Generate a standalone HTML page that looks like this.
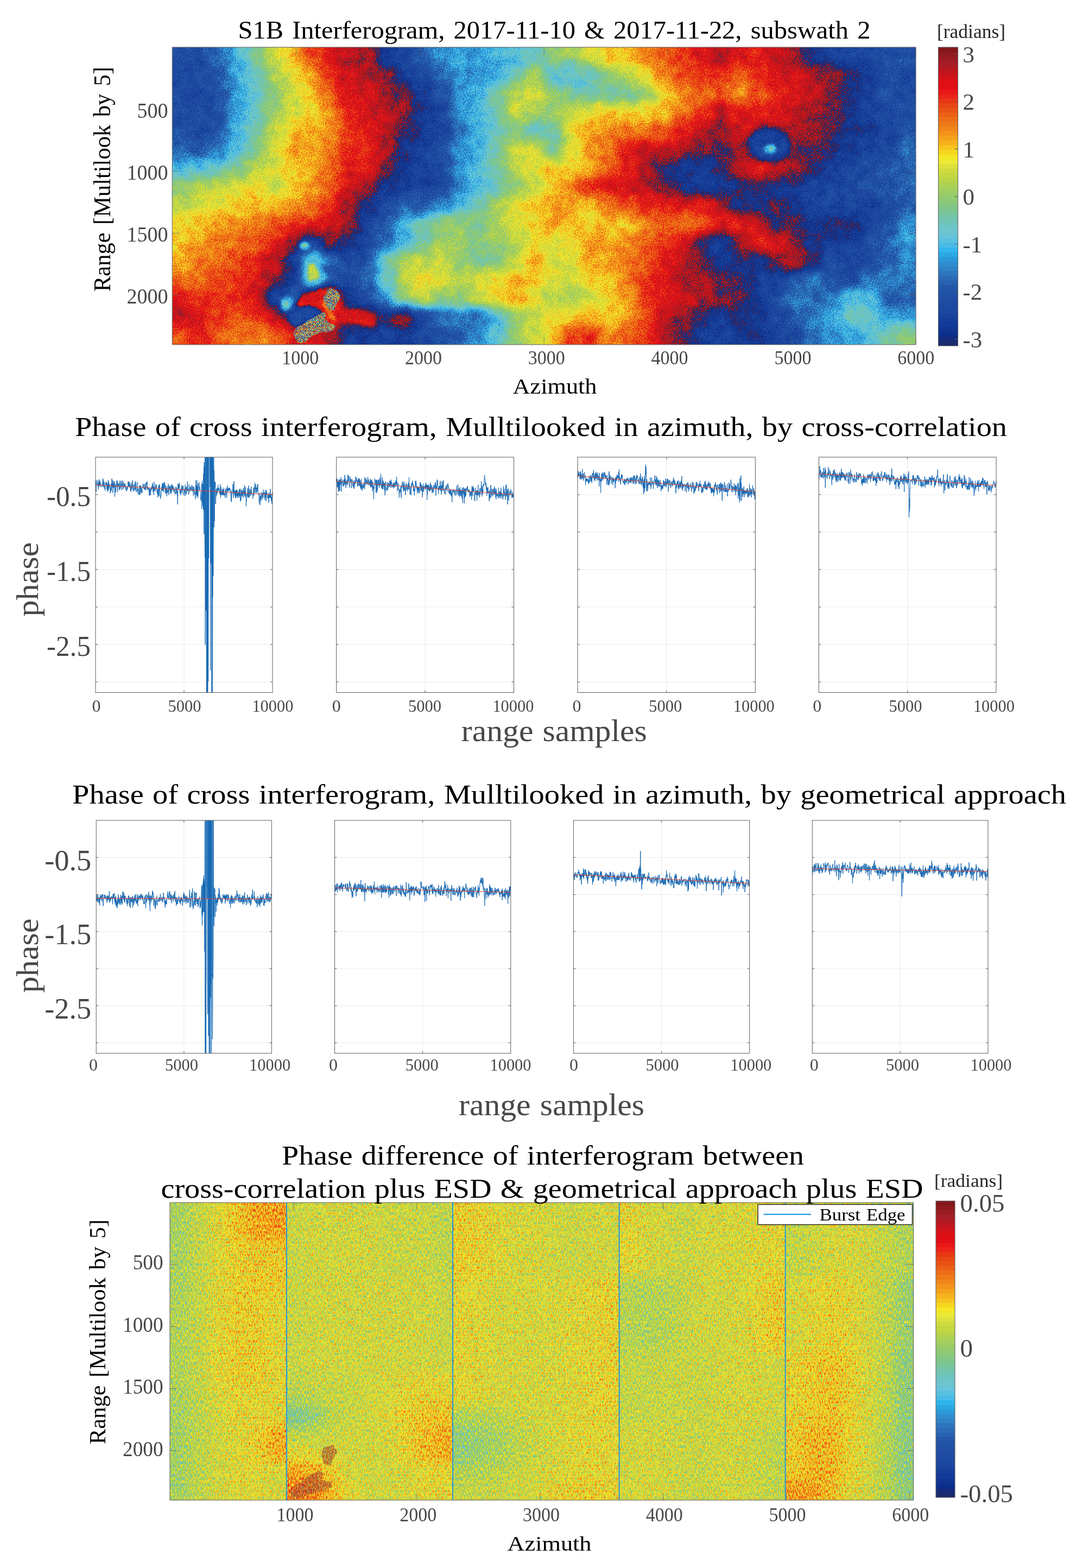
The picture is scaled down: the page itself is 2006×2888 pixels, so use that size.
<!DOCTYPE html>
<html lang="en"><head><meta charset="utf-8"><title>S1B Interferogram</title>
<style>html,body{margin:0;padding:0;background:#fff}svg{display:block}text{font-family:"Liberation Serif",serif}</style></head><body>
<svg width="2006" height="2888" viewBox="0 0 2006 2888">
<rect width="2006" height="2888" fill="#fff"/>
<defs>
<filter id="bA" x="-80" y="-80" width="1529.7" height="707.8" filterUnits="userSpaceOnUse" color-interpolation-filters="sRGB"><feGaussianBlur stdDeviation="10"/></filter>
<filter id="bB" x="-80" y="-80" width="1529.7" height="707.8" filterUnits="userSpaceOnUse" color-interpolation-filters="sRGB"><feGaussianBlur stdDeviation="2.5"/></filter>
<filter id="bC" x="-80" y="-80" width="1529.7" height="707.8" filterUnits="userSpaceOnUse" color-interpolation-filters="sRGB"><feGaussianBlur stdDeviation="6"/></filter>
<filter id="f1" x="0" y="0" width="1369.7" height="547.8" filterUnits="userSpaceOnUse" color-interpolation-filters="sRGB">
<feTurbulence type="fractalNoise" baseFrequency="0.45" numOctaves="2" seed="3" result="n"/>
<feColorMatrix in="n" type="matrix" values="0.09 0 0 0 0  0.09 0 0 0 0  0.09 0 0 0 0  0 0 0 0 1" result="n2"/>
<feComposite in="SourceGraphic" in2="n2" operator="arithmetic" k1="0" k2="1" k3="1" k4="-0.045" result="s0"/>
<feTurbulence type="fractalNoise" baseFrequency="0.05" numOctaves="3" seed="21" result="m"/>
<feColorMatrix in="m" type="matrix" values="0.045 0 0 0 0  0.045 0 0 0 0  0.045 0 0 0 0  0 0 0 0 1" result="m2"/>
<feComposite in="s0" in2="m2" operator="arithmetic" k1="0" k2="1" k3="1" k4="-0.0225" result="s"/>
<feComponentTransfer in="s">
<feFuncR type="discrete" tableValues="0.102 0.084 0.051 0.061 0.071 0.083 0.096 0.109 0.116 0.122 0.129 0.133 0.137 0.152 0.169 0.18 0.19 0.183 0.172 0.171 0.192 0.282 0.348 0.404 0.426 0.43 0.438 0.45 0.471 0.5 0.531 0.564 0.601 0.641 0.682 0.725 0.767 0.809 0.868 0.933 0.956 0.962 0.964 0.963 0.959 0.951 0.944 0.938 0.931 0.922 0.913 0.911 0.911 0.921 0.91 0.885 0.873 0.832 0.768 0.708 0.651 0.605 0.56 0.513 0.102 0.084 0.051 0.061 0.071 0.083 0.096 0.109 0.116 0.122 0.129 0.133 0.137 0.152 0.169 0.18 0.19 0.183 0.172 0.171 0.192 0.282 0.348 0.404 0.426 0.43 0.438 0.45 0.471 0.5 0.531 0.564 0.601 0.641 0.682 0.725 0.767 0.809 0.868 0.933 0.956 0.962 0.964 0.963 0.959 0.951 0.944 0.938 0.931 0.922 0.913 0.911 0.911 0.921 0.91 0.885 0.873 0.832 0.768 0.708 0.651 0.605 0.56 0.513 0.102 0.084 0.051 0.061 0.071 0.083 0.096 0.109 0.116 0.122 0.129 0.133 0.137 0.152 0.169 0.18 0.19 0.183 0.172 0.171 0.192 0.282 0.348 0.404 0.426 0.43 0.438 0.45 0.471 0.5 0.531 0.564 0.601 0.641 0.682 0.725 0.767 0.809 0.868 0.933 0.956 0.962 0.964 0.963 0.959 0.951 0.944 0.938 0.931 0.922 0.913 0.911 0.911 0.921 0.91 0.885 0.873 0.832 0.768 0.708 0.651 0.605 0.56 0.513"/>
<feFuncG type="discrete" tableValues="0.165 0.166 0.185 0.206 0.227 0.244 0.261 0.278 0.288 0.298 0.309 0.327 0.346 0.382 0.42 0.462 0.504 0.551 0.599 0.657 0.711 0.734 0.753 0.77 0.774 0.77 0.769 0.769 0.772 0.778 0.785 0.792 0.802 0.813 0.823 0.831 0.843 0.86 0.886 0.913 0.9 0.841 0.764 0.697 0.636 0.58 0.526 0.48 0.432 0.378 0.325 0.273 0.218 0.141 0.09 0.059 0.062 0.07 0.083 0.1 0.113 0.111 0.103 0.089 0.165 0.166 0.185 0.206 0.227 0.244 0.261 0.278 0.288 0.298 0.309 0.327 0.346 0.382 0.42 0.462 0.504 0.551 0.599 0.657 0.711 0.734 0.753 0.77 0.774 0.77 0.769 0.769 0.772 0.778 0.785 0.792 0.802 0.813 0.823 0.831 0.843 0.86 0.886 0.913 0.9 0.841 0.764 0.697 0.636 0.58 0.526 0.48 0.432 0.378 0.325 0.273 0.218 0.141 0.09 0.059 0.062 0.07 0.083 0.1 0.113 0.111 0.103 0.089 0.165 0.166 0.185 0.206 0.227 0.244 0.261 0.278 0.288 0.298 0.309 0.327 0.346 0.382 0.42 0.462 0.504 0.551 0.599 0.657 0.711 0.734 0.753 0.77 0.774 0.77 0.769 0.769 0.772 0.778 0.785 0.792 0.802 0.813 0.823 0.831 0.843 0.86 0.886 0.913 0.9 0.841 0.764 0.697 0.636 0.58 0.526 0.48 0.432 0.378 0.325 0.273 0.218 0.141 0.09 0.059 0.062 0.07 0.083 0.1 0.113 0.111 0.103 0.089"/>
<feFuncB type="discrete" tableValues="0.43 0.49 0.55 0.573 0.596 0.605 0.614 0.623 0.628 0.634 0.639 0.65 0.661 0.687 0.716 0.745 0.774 0.812 0.852 0.893 0.921 0.901 0.878 0.855 0.817 0.771 0.72 0.666 0.609 0.549 0.496 0.448 0.406 0.372 0.33 0.28 0.249 0.245 0.24 0.21 0.15 0.122 0.122 0.113 0.105 0.103 0.101 0.097 0.093 0.085 0.078 0.078 0.081 0.102 0.099 0.083 0.088 0.099 0.114 0.131 0.144 0.137 0.125 0.107 0.43 0.49 0.55 0.573 0.596 0.605 0.614 0.623 0.628 0.634 0.639 0.65 0.661 0.687 0.716 0.745 0.774 0.812 0.852 0.893 0.921 0.901 0.878 0.855 0.817 0.771 0.72 0.666 0.609 0.549 0.496 0.448 0.406 0.372 0.33 0.28 0.249 0.245 0.24 0.21 0.15 0.122 0.122 0.113 0.105 0.103 0.101 0.097 0.093 0.085 0.078 0.078 0.081 0.102 0.099 0.083 0.088 0.099 0.114 0.131 0.144 0.137 0.125 0.107 0.43 0.49 0.55 0.573 0.596 0.605 0.614 0.623 0.628 0.634 0.639 0.65 0.661 0.687 0.716 0.745 0.774 0.812 0.852 0.893 0.921 0.901 0.878 0.855 0.817 0.771 0.72 0.666 0.609 0.549 0.496 0.448 0.406 0.372 0.33 0.28 0.249 0.245 0.24 0.21 0.15 0.122 0.122 0.113 0.105 0.103 0.101 0.097 0.093 0.085 0.078 0.078 0.081 0.102 0.099 0.083 0.088 0.099 0.114 0.131 0.144 0.137 0.125 0.107"/>
</feComponentTransfer>
</filter>
<filter id="fL" x="0" y="0" width="1369.7" height="547.8" filterUnits="userSpaceOnUse" color-interpolation-filters="sRGB">
<feTurbulence type="fractalNoise" baseFrequency="1.3" numOctaves="1" seed="11" result="n"/>
<feColorMatrix in="n" type="matrix" values="1.4 0 0 0 -0.2  1.4 0 0 0 -0.2  1.4 0 0 0 -0.2  0 0 0 0 1" result="n2"/>
<feComponentTransfer in="n2" result="cm">
<feFuncR type="discrete" tableValues="0.102 0.084 0.051 0.061 0.071 0.083 0.096 0.109 0.116 0.122 0.129 0.133 0.137 0.152 0.169 0.18 0.19 0.183 0.172 0.171 0.192 0.282 0.348 0.404 0.426 0.43 0.438 0.45 0.471 0.5 0.531 0.564 0.601 0.641 0.682 0.725 0.767 0.809 0.868 0.933 0.956 0.962 0.964 0.963 0.959 0.951 0.944 0.938 0.931 0.922 0.913 0.911 0.911 0.921 0.91 0.885 0.873 0.832 0.768 0.708 0.651 0.605 0.56 0.513 0.102 0.084 0.051 0.061 0.071 0.083 0.096 0.109 0.116 0.122 0.129 0.133 0.137 0.152 0.169 0.18 0.19 0.183 0.172 0.171 0.192 0.282 0.348 0.404 0.426 0.43 0.438 0.45 0.471 0.5 0.531 0.564 0.601 0.641 0.682 0.725 0.767 0.809 0.868 0.933 0.956 0.962 0.964 0.963 0.959 0.951 0.944 0.938 0.931 0.922 0.913 0.911 0.911 0.921 0.91 0.885 0.873 0.832 0.768 0.708 0.651 0.605 0.56 0.513 0.102 0.084 0.051 0.061 0.071 0.083 0.096 0.109 0.116 0.122 0.129 0.133 0.137 0.152 0.169 0.18 0.19 0.183 0.172 0.171 0.192 0.282 0.348 0.404 0.426 0.43 0.438 0.45 0.471 0.5 0.531 0.564 0.601 0.641 0.682 0.725 0.767 0.809 0.868 0.933 0.956 0.962 0.964 0.963 0.959 0.951 0.944 0.938 0.931 0.922 0.913 0.911 0.911 0.921 0.91 0.885 0.873 0.832 0.768 0.708 0.651 0.605 0.56 0.513"/>
<feFuncG type="discrete" tableValues="0.165 0.166 0.185 0.206 0.227 0.244 0.261 0.278 0.288 0.298 0.309 0.327 0.346 0.382 0.42 0.462 0.504 0.551 0.599 0.657 0.711 0.734 0.753 0.77 0.774 0.77 0.769 0.769 0.772 0.778 0.785 0.792 0.802 0.813 0.823 0.831 0.843 0.86 0.886 0.913 0.9 0.841 0.764 0.697 0.636 0.58 0.526 0.48 0.432 0.378 0.325 0.273 0.218 0.141 0.09 0.059 0.062 0.07 0.083 0.1 0.113 0.111 0.103 0.089 0.165 0.166 0.185 0.206 0.227 0.244 0.261 0.278 0.288 0.298 0.309 0.327 0.346 0.382 0.42 0.462 0.504 0.551 0.599 0.657 0.711 0.734 0.753 0.77 0.774 0.77 0.769 0.769 0.772 0.778 0.785 0.792 0.802 0.813 0.823 0.831 0.843 0.86 0.886 0.913 0.9 0.841 0.764 0.697 0.636 0.58 0.526 0.48 0.432 0.378 0.325 0.273 0.218 0.141 0.09 0.059 0.062 0.07 0.083 0.1 0.113 0.111 0.103 0.089 0.165 0.166 0.185 0.206 0.227 0.244 0.261 0.278 0.288 0.298 0.309 0.327 0.346 0.382 0.42 0.462 0.504 0.551 0.599 0.657 0.711 0.734 0.753 0.77 0.774 0.77 0.769 0.769 0.772 0.778 0.785 0.792 0.802 0.813 0.823 0.831 0.843 0.86 0.886 0.913 0.9 0.841 0.764 0.697 0.636 0.58 0.526 0.48 0.432 0.378 0.325 0.273 0.218 0.141 0.09 0.059 0.062 0.07 0.083 0.1 0.113 0.111 0.103 0.089"/>
<feFuncB type="discrete" tableValues="0.43 0.49 0.55 0.573 0.596 0.605 0.614 0.623 0.628 0.634 0.639 0.65 0.661 0.687 0.716 0.745 0.774 0.812 0.852 0.893 0.921 0.901 0.878 0.855 0.817 0.771 0.72 0.666 0.609 0.549 0.496 0.448 0.406 0.372 0.33 0.28 0.249 0.245 0.24 0.21 0.15 0.122 0.122 0.113 0.105 0.103 0.101 0.097 0.093 0.085 0.078 0.078 0.081 0.102 0.099 0.083 0.088 0.099 0.114 0.131 0.144 0.137 0.125 0.107 0.43 0.49 0.55 0.573 0.596 0.605 0.614 0.623 0.628 0.634 0.639 0.65 0.661 0.687 0.716 0.745 0.774 0.812 0.852 0.893 0.921 0.901 0.878 0.855 0.817 0.771 0.72 0.666 0.609 0.549 0.496 0.448 0.406 0.372 0.33 0.28 0.249 0.245 0.24 0.21 0.15 0.122 0.122 0.113 0.105 0.103 0.101 0.097 0.093 0.085 0.078 0.078 0.081 0.102 0.099 0.083 0.088 0.099 0.114 0.131 0.144 0.137 0.125 0.107 0.43 0.49 0.55 0.573 0.596 0.605 0.614 0.623 0.628 0.634 0.639 0.65 0.661 0.687 0.716 0.745 0.774 0.812 0.852 0.893 0.921 0.901 0.878 0.855 0.817 0.771 0.72 0.666 0.609 0.549 0.496 0.448 0.406 0.372 0.33 0.28 0.249 0.245 0.24 0.21 0.15 0.122 0.122 0.113 0.105 0.103 0.101 0.097 0.093 0.085 0.078 0.078 0.081 0.102 0.099 0.083 0.088 0.099 0.114 0.131 0.144 0.137 0.125 0.107"/>
</feComponentTransfer>
<feComposite in="cm" in2="SourceGraphic" operator="in"/>
</filter>
<filter id="f4" x="0" y="0" width="1369.5" height="548.0" filterUnits="userSpaceOnUse" color-interpolation-filters="sRGB">
<feGaussianBlur in="SourceGraphic" stdDeviation="10" result="b"/>
<feTurbulence type="fractalNoise" baseFrequency="0.5 0.17" numOctaves="2" seed="7" result="n"/>
<feColorMatrix in="n" type="matrix" values="0.52 0 0 0 0  0.52 0 0 0 0  0.52 0 0 0 0  0 0 0 0 1" result="n2"/>
<feComposite in="b" in2="n2" operator="arithmetic" k1="0" k2="1" k3="1" k4="-0.26" result="s"/>
<feComponentTransfer in="s">
<feFuncR type="discrete" tableValues="0.102 0.084 0.051 0.061 0.071 0.083 0.096 0.109 0.116 0.122 0.129 0.133 0.137 0.152 0.169 0.18 0.19 0.183 0.172 0.171 0.192 0.282 0.348 0.404 0.426 0.43 0.438 0.45 0.471 0.5 0.531 0.564 0.601 0.641 0.682 0.725 0.767 0.809 0.868 0.933 0.956 0.962 0.964 0.963 0.959 0.951 0.944 0.938 0.931 0.922 0.913 0.911 0.911 0.921 0.91 0.885 0.873 0.832 0.768 0.708 0.651 0.605 0.56 0.513"/>
<feFuncG type="discrete" tableValues="0.165 0.166 0.185 0.206 0.227 0.244 0.261 0.278 0.288 0.298 0.309 0.327 0.346 0.382 0.42 0.462 0.504 0.551 0.599 0.657 0.711 0.734 0.753 0.77 0.774 0.77 0.769 0.769 0.772 0.778 0.785 0.792 0.802 0.813 0.823 0.831 0.843 0.86 0.886 0.913 0.9 0.841 0.764 0.697 0.636 0.58 0.526 0.48 0.432 0.378 0.325 0.273 0.218 0.141 0.09 0.059 0.062 0.07 0.083 0.1 0.113 0.111 0.103 0.089"/>
<feFuncB type="discrete" tableValues="0.43 0.49 0.55 0.573 0.596 0.605 0.614 0.623 0.628 0.634 0.639 0.65 0.661 0.687 0.716 0.745 0.774 0.812 0.852 0.893 0.921 0.901 0.878 0.855 0.817 0.771 0.72 0.666 0.609 0.549 0.496 0.448 0.406 0.372 0.33 0.28 0.249 0.245 0.24 0.21 0.15 0.122 0.122 0.113 0.105 0.103 0.101 0.097 0.093 0.085 0.078 0.078 0.081 0.102 0.099 0.083 0.088 0.099 0.114 0.131 0.144 0.137 0.125 0.107"/>
</feComponentTransfer>
</filter>
<filter id="fL4" x="0" y="0" width="1369.5" height="548.0" filterUnits="userSpaceOnUse" color-interpolation-filters="sRGB">
<feTurbulence type="fractalNoise" baseFrequency="0.9 0.5" numOctaves="1" seed="5" result="n"/>
<feColorMatrix in="n" type="matrix" values="2.8 0 0 0 -0.55  2.8 0 0 0 -0.55  2.8 0 0 0 -0.55  0 0 0 0 1" result="n2"/>
<feComponentTransfer in="n2" result="cm">
<feFuncR type="discrete" tableValues="0.102 0.084 0.051 0.061 0.071 0.083 0.096 0.109 0.116 0.122 0.129 0.133 0.137 0.152 0.169 0.18 0.19 0.183 0.172 0.171 0.192 0.282 0.348 0.404 0.426 0.43 0.438 0.45 0.471 0.5 0.531 0.564 0.601 0.641 0.682 0.725 0.767 0.809 0.868 0.933 0.956 0.962 0.964 0.963 0.959 0.951 0.944 0.938 0.931 0.922 0.913 0.911 0.911 0.921 0.91 0.885 0.873 0.832 0.768 0.708 0.651 0.605 0.56 0.513"/>
<feFuncG type="discrete" tableValues="0.165 0.166 0.185 0.206 0.227 0.244 0.261 0.278 0.288 0.298 0.309 0.327 0.346 0.382 0.42 0.462 0.504 0.551 0.599 0.657 0.711 0.734 0.753 0.77 0.774 0.77 0.769 0.769 0.772 0.778 0.785 0.792 0.802 0.813 0.823 0.831 0.843 0.86 0.886 0.913 0.9 0.841 0.764 0.697 0.636 0.58 0.526 0.48 0.432 0.378 0.325 0.273 0.218 0.141 0.09 0.059 0.062 0.07 0.083 0.1 0.113 0.111 0.103 0.089"/>
<feFuncB type="discrete" tableValues="0.43 0.49 0.55 0.573 0.596 0.605 0.614 0.623 0.628 0.634 0.639 0.65 0.661 0.687 0.716 0.745 0.774 0.812 0.852 0.893 0.921 0.901 0.878 0.855 0.817 0.771 0.72 0.666 0.609 0.549 0.496 0.448 0.406 0.372 0.33 0.28 0.249 0.245 0.24 0.21 0.15 0.122 0.122 0.113 0.105 0.103 0.101 0.097 0.093 0.085 0.078 0.078 0.081 0.102 0.099 0.083 0.088 0.099 0.114 0.131 0.144 0.137 0.125 0.107"/>
</feComponentTransfer>
<feComposite in="cm" in2="SourceGraphic" operator="in"/>
</filter>
<clipPath id="c1"><rect x="0" y="0" width="1369.7" height="547.8"/></clipPath>
<clipPath id="c4"><rect x="0" y="0" width="1369.5" height="548.0"/></clipPath>
</defs>
<g transform="translate(317.3,87.0)"><g clip-path="url(#c1)"><g filter="url(#f1)">
<g filter="url(#bA)">
<rect x="-68.5" y="-68.5" width="137.6" height="34.8" fill="rgb(13,13,13)"/>
<rect x="68.5" y="-68.5" width="34.8" height="34.8" fill="rgb(18,18,18)"/>
<rect x="102.7" y="-68.5" width="34.8" height="34.8" fill="rgb(29,29,29)"/>
<rect x="137.0" y="-68.5" width="34.8" height="34.8" fill="rgb(38,38,38)"/>
<rect x="171.2" y="-68.5" width="34.8" height="34.8" fill="rgb(49,49,49)"/>
<rect x="205.5" y="-68.5" width="34.8" height="34.8" fill="rgb(57,57,57)"/>
<rect x="239.7" y="-68.5" width="34.8" height="34.8" fill="rgb(68,68,68)"/>
<rect x="273.9" y="-68.5" width="34.8" height="34.8" fill="rgb(75,75,75)"/>
<rect x="308.2" y="-68.5" width="34.8" height="34.8" fill="rgb(79,79,79)"/>
<rect x="342.4" y="-68.5" width="34.8" height="34.8" fill="rgb(80,80,80)"/>
<rect x="376.7" y="-68.5" width="34.8" height="34.8" fill="rgb(91,91,91)"/>
<rect x="410.9" y="-68.5" width="34.8" height="34.8" fill="rgb(95,95,95)"/>
<rect x="445.2" y="-68.5" width="34.8" height="34.8" fill="rgb(102,102,102)"/>
<rect x="479.4" y="-68.5" width="34.8" height="34.8" fill="rgb(109,109,109)"/>
<rect x="513.6" y="-68.5" width="34.8" height="34.8" fill="rgb(111,111,111)"/>
<rect x="547.9" y="-68.5" width="34.8" height="34.8" fill="rgb(110,110,110)"/>
<rect x="582.1" y="-68.5" width="34.8" height="34.8" fill="rgb(113,113,113)"/>
<rect x="616.4" y="-68.5" width="34.8" height="34.8" fill="rgb(115,115,115)"/>
<rect x="650.6" y="-68.5" width="34.8" height="34.8" fill="rgb(118,118,118)"/>
<rect x="684.9" y="-68.5" width="69.1" height="34.8" fill="rgb(128,128,128)"/>
<rect x="753.3" y="-68.5" width="34.8" height="34.8" fill="rgb(136,136,136)"/>
<rect x="787.6" y="-68.5" width="34.8" height="34.8" fill="rgb(141,141,141)"/>
<rect x="821.8" y="-68.5" width="34.8" height="34.8" fill="rgb(142,142,142)"/>
<rect x="856.1" y="-68.5" width="34.8" height="34.8" fill="rgb(148,148,148)"/>
<rect x="890.3" y="-68.5" width="34.8" height="34.8" fill="rgb(152,152,152)"/>
<rect x="924.5" y="-68.5" width="34.8" height="34.8" fill="rgb(155,155,155)"/>
<rect x="958.8" y="-68.5" width="34.8" height="34.8" fill="rgb(160,160,160)"/>
<rect x="993.0" y="-68.5" width="34.8" height="34.8" fill="rgb(165,165,165)"/>
<rect x="1027.3" y="-68.5" width="34.8" height="34.8" fill="rgb(160,160,160)"/>
<rect x="1061.5" y="-68.5" width="34.8" height="34.8" fill="rgb(159,159,159)"/>
<rect x="1095.8" y="-68.5" width="34.8" height="34.8" fill="rgb(163,163,163)"/>
<rect x="1130.0" y="-68.5" width="34.8" height="34.8" fill="rgb(167,167,167)"/>
<rect x="1164.2" y="-68.5" width="34.8" height="34.8" fill="rgb(175,175,175)"/>
<rect x="1198.5" y="-68.5" width="34.8" height="34.8" fill="rgb(179,179,179)"/>
<rect x="1232.7" y="-68.5" width="34.8" height="34.8" fill="rgb(180,180,180)"/>
<rect x="1267.0" y="-68.5" width="34.8" height="34.8" fill="rgb(181,181,181)"/>
<rect x="1301.2" y="-68.5" width="137.6" height="34.8" fill="rgb(183,183,183)"/>
<rect x="-68.5" y="-34.2" width="137.6" height="34.8" fill="rgb(13,13,13)"/>
<rect x="68.5" y="-34.2" width="34.8" height="34.8" fill="rgb(18,18,18)"/>
<rect x="102.7" y="-34.2" width="34.8" height="34.8" fill="rgb(29,29,29)"/>
<rect x="137.0" y="-34.2" width="34.8" height="34.8" fill="rgb(38,38,38)"/>
<rect x="171.2" y="-34.2" width="34.8" height="34.8" fill="rgb(49,49,49)"/>
<rect x="205.5" y="-34.2" width="34.8" height="34.8" fill="rgb(57,57,57)"/>
<rect x="239.7" y="-34.2" width="34.8" height="34.8" fill="rgb(68,68,68)"/>
<rect x="273.9" y="-34.2" width="34.8" height="34.8" fill="rgb(75,75,75)"/>
<rect x="308.2" y="-34.2" width="34.8" height="34.8" fill="rgb(79,79,79)"/>
<rect x="342.4" y="-34.2" width="34.8" height="34.8" fill="rgb(80,80,80)"/>
<rect x="376.7" y="-34.2" width="34.8" height="34.8" fill="rgb(91,91,91)"/>
<rect x="410.9" y="-34.2" width="34.8" height="34.8" fill="rgb(95,95,95)"/>
<rect x="445.2" y="-34.2" width="34.8" height="34.8" fill="rgb(102,102,102)"/>
<rect x="479.4" y="-34.2" width="34.8" height="34.8" fill="rgb(109,109,109)"/>
<rect x="513.6" y="-34.2" width="34.8" height="34.8" fill="rgb(111,111,111)"/>
<rect x="547.9" y="-34.2" width="34.8" height="34.8" fill="rgb(110,110,110)"/>
<rect x="582.1" y="-34.2" width="34.8" height="34.8" fill="rgb(113,113,113)"/>
<rect x="616.4" y="-34.2" width="34.8" height="34.8" fill="rgb(115,115,115)"/>
<rect x="650.6" y="-34.2" width="34.8" height="34.8" fill="rgb(118,118,118)"/>
<rect x="684.9" y="-34.2" width="69.1" height="34.8" fill="rgb(128,128,128)"/>
<rect x="753.3" y="-34.2" width="34.8" height="34.8" fill="rgb(136,136,136)"/>
<rect x="787.6" y="-34.2" width="34.8" height="34.8" fill="rgb(141,141,141)"/>
<rect x="821.8" y="-34.2" width="34.8" height="34.8" fill="rgb(142,142,142)"/>
<rect x="856.1" y="-34.2" width="34.8" height="34.8" fill="rgb(148,148,148)"/>
<rect x="890.3" y="-34.2" width="34.8" height="34.8" fill="rgb(152,152,152)"/>
<rect x="924.5" y="-34.2" width="34.8" height="34.8" fill="rgb(155,155,155)"/>
<rect x="958.8" y="-34.2" width="34.8" height="34.8" fill="rgb(160,160,160)"/>
<rect x="993.0" y="-34.2" width="34.8" height="34.8" fill="rgb(165,165,165)"/>
<rect x="1027.3" y="-34.2" width="34.8" height="34.8" fill="rgb(160,160,160)"/>
<rect x="1061.5" y="-34.2" width="34.8" height="34.8" fill="rgb(159,159,159)"/>
<rect x="1095.8" y="-34.2" width="34.8" height="34.8" fill="rgb(163,163,163)"/>
<rect x="1130.0" y="-34.2" width="34.8" height="34.8" fill="rgb(167,167,167)"/>
<rect x="1164.2" y="-34.2" width="34.8" height="34.8" fill="rgb(175,175,175)"/>
<rect x="1198.5" y="-34.2" width="34.8" height="34.8" fill="rgb(179,179,179)"/>
<rect x="1232.7" y="-34.2" width="34.8" height="34.8" fill="rgb(180,180,180)"/>
<rect x="1267.0" y="-34.2" width="34.8" height="34.8" fill="rgb(181,181,181)"/>
<rect x="1301.2" y="-34.2" width="137.6" height="34.8" fill="rgb(183,183,183)"/>
<rect x="-68.5" y="0.0" width="137.6" height="34.8" fill="rgb(13,13,13)"/>
<rect x="68.5" y="0.0" width="34.8" height="34.8" fill="rgb(18,18,18)"/>
<rect x="102.7" y="0.0" width="34.8" height="34.8" fill="rgb(29,29,29)"/>
<rect x="137.0" y="0.0" width="34.8" height="34.8" fill="rgb(38,38,38)"/>
<rect x="171.2" y="0.0" width="34.8" height="34.8" fill="rgb(49,49,49)"/>
<rect x="205.5" y="0.0" width="34.8" height="34.8" fill="rgb(57,57,57)"/>
<rect x="239.7" y="0.0" width="34.8" height="34.8" fill="rgb(68,68,68)"/>
<rect x="273.9" y="0.0" width="34.8" height="34.8" fill="rgb(75,75,75)"/>
<rect x="308.2" y="0.0" width="34.8" height="34.8" fill="rgb(79,79,79)"/>
<rect x="342.4" y="0.0" width="34.8" height="34.8" fill="rgb(80,80,80)"/>
<rect x="376.7" y="0.0" width="34.8" height="34.8" fill="rgb(91,91,91)"/>
<rect x="410.9" y="0.0" width="34.8" height="34.8" fill="rgb(95,95,95)"/>
<rect x="445.2" y="0.0" width="34.8" height="34.8" fill="rgb(102,102,102)"/>
<rect x="479.4" y="0.0" width="34.8" height="34.8" fill="rgb(109,109,109)"/>
<rect x="513.6" y="0.0" width="34.8" height="34.8" fill="rgb(111,111,111)"/>
<rect x="547.9" y="0.0" width="34.8" height="34.8" fill="rgb(110,110,110)"/>
<rect x="582.1" y="0.0" width="34.8" height="34.8" fill="rgb(113,113,113)"/>
<rect x="616.4" y="0.0" width="34.8" height="34.8" fill="rgb(115,115,115)"/>
<rect x="650.6" y="0.0" width="34.8" height="34.8" fill="rgb(118,118,118)"/>
<rect x="684.9" y="0.0" width="69.1" height="34.8" fill="rgb(128,128,128)"/>
<rect x="753.3" y="0.0" width="34.8" height="34.8" fill="rgb(136,136,136)"/>
<rect x="787.6" y="0.0" width="34.8" height="34.8" fill="rgb(141,141,141)"/>
<rect x="821.8" y="0.0" width="34.8" height="34.8" fill="rgb(142,142,142)"/>
<rect x="856.1" y="0.0" width="34.8" height="34.8" fill="rgb(148,148,148)"/>
<rect x="890.3" y="0.0" width="34.8" height="34.8" fill="rgb(152,152,152)"/>
<rect x="924.5" y="0.0" width="34.8" height="34.8" fill="rgb(155,155,155)"/>
<rect x="958.8" y="0.0" width="34.8" height="34.8" fill="rgb(160,160,160)"/>
<rect x="993.0" y="0.0" width="34.8" height="34.8" fill="rgb(165,165,165)"/>
<rect x="1027.3" y="0.0" width="34.8" height="34.8" fill="rgb(160,160,160)"/>
<rect x="1061.5" y="0.0" width="34.8" height="34.8" fill="rgb(159,159,159)"/>
<rect x="1095.8" y="0.0" width="34.8" height="34.8" fill="rgb(163,163,163)"/>
<rect x="1130.0" y="0.0" width="34.8" height="34.8" fill="rgb(167,167,167)"/>
<rect x="1164.2" y="0.0" width="34.8" height="34.8" fill="rgb(175,175,175)"/>
<rect x="1198.5" y="0.0" width="34.8" height="34.8" fill="rgb(179,179,179)"/>
<rect x="1232.7" y="0.0" width="34.8" height="34.8" fill="rgb(180,180,180)"/>
<rect x="1267.0" y="0.0" width="34.8" height="34.8" fill="rgb(181,181,181)"/>
<rect x="1301.2" y="0.0" width="137.6" height="34.8" fill="rgb(183,183,183)"/>
<rect x="-68.5" y="34.2" width="137.6" height="34.8" fill="rgb(11,11,11)"/>
<rect x="68.5" y="34.2" width="34.8" height="34.8" fill="rgb(15,15,15)"/>
<rect x="102.7" y="34.2" width="34.8" height="34.8" fill="rgb(26,26,26)"/>
<rect x="137.0" y="34.2" width="34.8" height="34.8" fill="rgb(34,34,34)"/>
<rect x="171.2" y="34.2" width="34.8" height="34.8" fill="rgb(45,45,45)"/>
<rect x="205.5" y="34.2" width="34.8" height="34.8" fill="rgb(53,53,53)"/>
<rect x="239.7" y="34.2" width="34.8" height="34.8" fill="rgb(60,60,60)"/>
<rect x="273.9" y="34.2" width="34.8" height="34.8" fill="rgb(71,71,71)"/>
<rect x="308.2" y="34.2" width="34.8" height="34.8" fill="rgb(78,78,78)"/>
<rect x="342.4" y="34.2" width="34.8" height="34.8" fill="rgb(79,79,79)"/>
<rect x="376.7" y="34.2" width="34.8" height="34.8" fill="rgb(83,83,83)"/>
<rect x="410.9" y="34.2" width="34.8" height="34.8" fill="rgb(92,92,92)"/>
<rect x="445.2" y="34.2" width="34.8" height="34.8" fill="rgb(96,96,96)"/>
<rect x="479.4" y="34.2" width="34.8" height="34.8" fill="rgb(103,103,103)"/>
<rect x="513.6" y="34.2" width="34.8" height="34.8" fill="rgb(110,110,110)"/>
<rect x="547.9" y="34.2" width="34.8" height="34.8" fill="rgb(109,109,109)"/>
<rect x="582.1" y="34.2" width="34.8" height="34.8" fill="rgb(111,111,111)"/>
<rect x="616.4" y="34.2" width="34.8" height="34.8" fill="rgb(121,121,121)"/>
<rect x="650.6" y="34.2" width="34.8" height="34.8" fill="rgb(132,132,132)"/>
<rect x="684.9" y="34.2" width="69.1" height="34.8" fill="rgb(115,115,115)"/>
<rect x="753.3" y="34.2" width="34.8" height="34.8" fill="rgb(119,119,119)"/>
<rect x="787.6" y="34.2" width="34.8" height="34.8" fill="rgb(128,128,128)"/>
<rect x="821.8" y="34.2" width="34.8" height="34.8" fill="rgb(132,132,132)"/>
<rect x="856.1" y="34.2" width="34.8" height="34.8" fill="rgb(138,138,138)"/>
<rect x="890.3" y="34.2" width="34.8" height="34.8" fill="rgb(148,148,148)"/>
<rect x="924.5" y="34.2" width="34.8" height="34.8" fill="rgb(153,153,153)"/>
<rect x="958.8" y="34.2" width="34.8" height="34.8" fill="rgb(155,155,155)"/>
<rect x="993.0" y="34.2" width="34.8" height="34.8" fill="rgb(157,157,157)"/>
<rect x="1027.3" y="34.2" width="34.8" height="34.8" fill="rgb(150,150,150)"/>
<rect x="1061.5" y="34.2" width="34.8" height="34.8" fill="rgb(157,157,157)"/>
<rect x="1095.8" y="34.2" width="34.8" height="34.8" fill="rgb(160,160,160)"/>
<rect x="1130.0" y="34.2" width="34.8" height="34.8" fill="rgb(161,161,161)"/>
<rect x="1164.2" y="34.2" width="34.8" height="34.8" fill="rgb(164,164,164)"/>
<rect x="1198.5" y="34.2" width="34.8" height="34.8" fill="rgb(168,168,168)"/>
<rect x="1232.7" y="34.2" width="34.8" height="34.8" fill="rgb(172,172,172)"/>
<rect x="1267.0" y="34.2" width="34.8" height="34.8" fill="rgb(177,177,177)"/>
<rect x="1301.2" y="34.2" width="34.8" height="34.8" fill="rgb(183,183,183)"/>
<rect x="1335.5" y="34.2" width="103.3" height="34.8" fill="rgb(181,181,181)"/>
<rect x="-68.5" y="68.5" width="137.6" height="34.8" fill="rgb(11,11,11)"/>
<rect x="68.5" y="68.5" width="34.8" height="34.8" fill="rgb(14,14,14)"/>
<rect x="102.7" y="68.5" width="34.8" height="34.8" fill="rgb(25,25,25)"/>
<rect x="137.0" y="68.5" width="34.8" height="34.8" fill="rgb(33,33,33)"/>
<rect x="171.2" y="68.5" width="34.8" height="34.8" fill="rgb(42,42,42)"/>
<rect x="205.5" y="68.5" width="34.8" height="34.8" fill="rgb(49,49,49)"/>
<rect x="239.7" y="68.5" width="34.8" height="34.8" fill="rgb(56,56,56)"/>
<rect x="273.9" y="68.5" width="34.8" height="34.8" fill="rgb(68,68,68)"/>
<rect x="308.2" y="68.5" width="69.1" height="34.8" fill="rgb(76,76,76)"/>
<rect x="376.7" y="68.5" width="34.8" height="34.8" fill="rgb(80,80,80)"/>
<rect x="410.9" y="68.5" width="34.8" height="34.8" fill="rgb(84,84,84)"/>
<rect x="445.2" y="68.5" width="34.8" height="34.8" fill="rgb(92,92,92)"/>
<rect x="479.4" y="68.5" width="34.8" height="34.8" fill="rgb(98,98,98)"/>
<rect x="513.6" y="68.5" width="34.8" height="34.8" fill="rgb(109,109,109)"/>
<rect x="547.9" y="68.5" width="34.8" height="34.8" fill="rgb(114,114,114)"/>
<rect x="582.1" y="68.5" width="34.8" height="34.8" fill="rgb(123,123,123)"/>
<rect x="616.4" y="68.5" width="34.8" height="34.8" fill="rgb(132,132,132)"/>
<rect x="650.6" y="68.5" width="34.8" height="34.8" fill="rgb(136,136,136)"/>
<rect x="684.9" y="68.5" width="34.8" height="34.8" fill="rgb(128,128,128)"/>
<rect x="719.1" y="68.5" width="34.8" height="34.8" fill="rgb(122,122,122)"/>
<rect x="753.3" y="68.5" width="69.1" height="34.8" fill="rgb(121,121,121)"/>
<rect x="821.8" y="68.5" width="34.8" height="34.8" fill="rgb(122,122,122)"/>
<rect x="856.1" y="68.5" width="34.8" height="34.8" fill="rgb(128,128,128)"/>
<rect x="890.3" y="68.5" width="34.8" height="34.8" fill="rgb(140,140,140)"/>
<rect x="924.5" y="68.5" width="34.8" height="34.8" fill="rgb(148,148,148)"/>
<rect x="958.8" y="68.5" width="34.8" height="34.8" fill="rgb(150,150,150)"/>
<rect x="993.0" y="68.5" width="34.8" height="34.8" fill="rgb(152,152,152)"/>
<rect x="1027.3" y="68.5" width="34.8" height="34.8" fill="rgb(145,145,145)"/>
<rect x="1061.5" y="68.5" width="34.8" height="34.8" fill="rgb(153,153,153)"/>
<rect x="1095.8" y="68.5" width="34.8" height="34.8" fill="rgb(157,157,157)"/>
<rect x="1130.0" y="68.5" width="34.8" height="34.8" fill="rgb(160,160,160)"/>
<rect x="1164.2" y="68.5" width="34.8" height="34.8" fill="rgb(163,163,163)"/>
<rect x="1198.5" y="68.5" width="34.8" height="34.8" fill="rgb(167,167,167)"/>
<rect x="1232.7" y="68.5" width="34.8" height="34.8" fill="rgb(173,173,173)"/>
<rect x="1267.0" y="68.5" width="34.8" height="34.8" fill="rgb(179,179,179)"/>
<rect x="1301.2" y="68.5" width="34.8" height="34.8" fill="rgb(184,184,184)"/>
<rect x="1335.5" y="68.5" width="103.3" height="34.8" fill="rgb(181,181,181)"/>
<rect x="-68.5" y="102.7" width="103.3" height="34.8" fill="rgb(13,13,13)"/>
<rect x="34.2" y="102.7" width="34.8" height="34.8" fill="rgb(11,11,11)"/>
<rect x="68.5" y="102.7" width="34.8" height="34.8" fill="rgb(14,14,14)"/>
<rect x="102.7" y="102.7" width="34.8" height="34.8" fill="rgb(26,26,26)"/>
<rect x="137.0" y="102.7" width="34.8" height="34.8" fill="rgb(34,34,34)"/>
<rect x="171.2" y="102.7" width="34.8" height="34.8" fill="rgb(44,44,44)"/>
<rect x="205.5" y="102.7" width="34.8" height="34.8" fill="rgb(51,51,51)"/>
<rect x="239.7" y="102.7" width="34.8" height="34.8" fill="rgb(53,53,53)"/>
<rect x="273.9" y="102.7" width="34.8" height="34.8" fill="rgb(61,61,61)"/>
<rect x="308.2" y="102.7" width="34.8" height="34.8" fill="rgb(72,72,72)"/>
<rect x="342.4" y="102.7" width="34.8" height="34.8" fill="rgb(75,75,75)"/>
<rect x="376.7" y="102.7" width="34.8" height="34.8" fill="rgb(79,79,79)"/>
<rect x="410.9" y="102.7" width="34.8" height="34.8" fill="rgb(82,82,82)"/>
<rect x="445.2" y="102.7" width="34.8" height="34.8" fill="rgb(90,90,90)"/>
<rect x="479.4" y="102.7" width="34.8" height="34.8" fill="rgb(95,95,95)"/>
<rect x="513.6" y="102.7" width="34.8" height="34.8" fill="rgb(109,109,109)"/>
<rect x="547.9" y="102.7" width="34.8" height="34.8" fill="rgb(113,113,113)"/>
<rect x="582.1" y="102.7" width="34.8" height="34.8" fill="rgb(122,122,122)"/>
<rect x="616.4" y="102.7" width="34.8" height="34.8" fill="rgb(134,134,134)"/>
<rect x="650.6" y="102.7" width="34.8" height="34.8" fill="rgb(130,130,130)"/>
<rect x="684.9" y="102.7" width="34.8" height="34.8" fill="rgb(128,128,128)"/>
<rect x="719.1" y="102.7" width="34.8" height="34.8" fill="rgb(134,134,134)"/>
<rect x="753.3" y="102.7" width="34.8" height="34.8" fill="rgb(138,138,138)"/>
<rect x="787.6" y="102.7" width="34.8" height="34.8" fill="rgb(141,141,141)"/>
<rect x="821.8" y="102.7" width="69.1" height="34.8" fill="rgb(140,140,140)"/>
<rect x="890.3" y="102.7" width="34.8" height="34.8" fill="rgb(142,142,142)"/>
<rect x="924.5" y="102.7" width="34.8" height="34.8" fill="rgb(149,149,149)"/>
<rect x="958.8" y="102.7" width="34.8" height="34.8" fill="rgb(155,155,155)"/>
<rect x="993.0" y="102.7" width="34.8" height="34.8" fill="rgb(163,163,163)"/>
<rect x="1027.3" y="102.7" width="69.1" height="34.8" fill="rgb(159,159,159)"/>
<rect x="1095.8" y="102.7" width="34.8" height="34.8" fill="rgb(160,160,160)"/>
<rect x="1130.0" y="102.7" width="34.8" height="34.8" fill="rgb(163,163,163)"/>
<rect x="1164.2" y="102.7" width="34.8" height="34.8" fill="rgb(165,165,165)"/>
<rect x="1198.5" y="102.7" width="34.8" height="34.8" fill="rgb(168,168,168)"/>
<rect x="1232.7" y="102.7" width="34.8" height="34.8" fill="rgb(175,175,175)"/>
<rect x="1267.0" y="102.7" width="34.8" height="34.8" fill="rgb(179,179,179)"/>
<rect x="1301.2" y="102.7" width="34.8" height="34.8" fill="rgb(181,181,181)"/>
<rect x="1335.5" y="102.7" width="103.3" height="34.8" fill="rgb(183,183,183)"/>
<rect x="-68.5" y="136.9" width="103.3" height="34.8" fill="rgb(13,13,13)"/>
<rect x="34.2" y="136.9" width="34.8" height="34.8" fill="rgb(11,11,11)"/>
<rect x="68.5" y="136.9" width="34.8" height="34.8" fill="rgb(15,15,15)"/>
<rect x="102.7" y="136.9" width="34.8" height="34.8" fill="rgb(28,28,28)"/>
<rect x="137.0" y="136.9" width="34.8" height="34.8" fill="rgb(36,36,36)"/>
<rect x="171.2" y="136.9" width="34.8" height="34.8" fill="rgb(47,47,47)"/>
<rect x="205.5" y="136.9" width="34.8" height="34.8" fill="rgb(57,57,57)"/>
<rect x="239.7" y="136.9" width="34.8" height="34.8" fill="rgb(59,59,59)"/>
<rect x="273.9" y="136.9" width="34.8" height="34.8" fill="rgb(61,61,61)"/>
<rect x="308.2" y="136.9" width="34.8" height="34.8" fill="rgb(71,71,71)"/>
<rect x="342.4" y="136.9" width="34.8" height="34.8" fill="rgb(74,74,74)"/>
<rect x="376.7" y="136.9" width="34.8" height="34.8" fill="rgb(78,78,78)"/>
<rect x="410.9" y="136.9" width="34.8" height="34.8" fill="rgb(86,86,86)"/>
<rect x="445.2" y="136.9" width="34.8" height="34.8" fill="rgb(91,91,91)"/>
<rect x="479.4" y="136.9" width="34.8" height="34.8" fill="rgb(95,95,95)"/>
<rect x="513.6" y="136.9" width="34.8" height="34.8" fill="rgb(105,105,105)"/>
<rect x="547.9" y="136.9" width="34.8" height="34.8" fill="rgb(113,113,113)"/>
<rect x="582.1" y="136.9" width="34.8" height="34.8" fill="rgb(119,119,119)"/>
<rect x="616.4" y="136.9" width="34.8" height="34.8" fill="rgb(126,126,126)"/>
<rect x="650.6" y="136.9" width="34.8" height="34.8" fill="rgb(119,119,119)"/>
<rect x="684.9" y="136.9" width="34.8" height="34.8" fill="rgb(121,121,121)"/>
<rect x="719.1" y="136.9" width="34.8" height="34.8" fill="rgb(138,138,138)"/>
<rect x="753.3" y="136.9" width="34.8" height="34.8" fill="rgb(145,145,145)"/>
<rect x="787.6" y="136.9" width="34.8" height="34.8" fill="rgb(146,146,146)"/>
<rect x="821.8" y="136.9" width="34.8" height="34.8" fill="rgb(149,149,149)"/>
<rect x="856.1" y="136.9" width="34.8" height="34.8" fill="rgb(148,148,148)"/>
<rect x="890.3" y="136.9" width="34.8" height="34.8" fill="rgb(152,152,152)"/>
<rect x="924.5" y="136.9" width="34.8" height="34.8" fill="rgb(159,159,159)"/>
<rect x="958.8" y="136.9" width="34.8" height="34.8" fill="rgb(164,164,164)"/>
<rect x="993.0" y="136.9" width="34.8" height="34.8" fill="rgb(168,168,168)"/>
<rect x="1027.3" y="136.9" width="34.8" height="34.8" fill="rgb(161,161,161)"/>
<rect x="1061.5" y="136.9" width="34.8" height="34.8" fill="rgb(164,164,164)"/>
<rect x="1095.8" y="136.9" width="34.8" height="34.8" fill="rgb(163,163,163)"/>
<rect x="1130.0" y="136.9" width="34.8" height="34.8" fill="rgb(165,165,165)"/>
<rect x="1164.2" y="136.9" width="34.8" height="34.8" fill="rgb(167,167,167)"/>
<rect x="1198.5" y="136.9" width="34.8" height="34.8" fill="rgb(171,171,171)"/>
<rect x="1232.7" y="136.9" width="34.8" height="34.8" fill="rgb(175,175,175)"/>
<rect x="1267.0" y="136.9" width="34.8" height="34.8" fill="rgb(177,177,177)"/>
<rect x="1301.2" y="136.9" width="34.8" height="34.8" fill="rgb(179,179,179)"/>
<rect x="1335.5" y="136.9" width="103.3" height="34.8" fill="rgb(185,185,185)"/>
<rect x="-68.5" y="171.2" width="103.3" height="34.8" fill="rgb(18,18,18)"/>
<rect x="34.2" y="171.2" width="34.8" height="34.8" fill="rgb(15,15,15)"/>
<rect x="68.5" y="171.2" width="34.8" height="34.8" fill="rgb(21,21,21)"/>
<rect x="102.7" y="171.2" width="34.8" height="34.8" fill="rgb(30,30,30)"/>
<rect x="137.0" y="171.2" width="34.8" height="34.8" fill="rgb(40,40,40)"/>
<rect x="171.2" y="171.2" width="34.8" height="34.8" fill="rgb(51,51,51)"/>
<rect x="205.5" y="171.2" width="69.1" height="34.8" fill="rgb(59,59,59)"/>
<rect x="273.9" y="171.2" width="34.8" height="34.8" fill="rgb(63,63,63)"/>
<rect x="308.2" y="171.2" width="69.1" height="34.8" fill="rgb(72,72,72)"/>
<rect x="376.7" y="171.2" width="34.8" height="34.8" fill="rgb(79,79,79)"/>
<rect x="410.9" y="171.2" width="34.8" height="34.8" fill="rgb(90,90,90)"/>
<rect x="445.2" y="171.2" width="34.8" height="34.8" fill="rgb(94,94,94)"/>
<rect x="479.4" y="171.2" width="34.8" height="34.8" fill="rgb(98,98,98)"/>
<rect x="513.6" y="171.2" width="34.8" height="34.8" fill="rgb(109,109,109)"/>
<rect x="547.9" y="171.2" width="34.8" height="34.8" fill="rgb(114,114,114)"/>
<rect x="582.1" y="171.2" width="34.8" height="34.8" fill="rgb(122,122,122)"/>
<rect x="616.4" y="171.2" width="34.8" height="34.8" fill="rgb(134,134,134)"/>
<rect x="650.6" y="171.2" width="34.8" height="34.8" fill="rgb(137,137,137)"/>
<rect x="684.9" y="171.2" width="34.8" height="34.8" fill="rgb(122,122,122)"/>
<rect x="719.1" y="171.2" width="34.8" height="34.8" fill="rgb(137,137,137)"/>
<rect x="753.3" y="171.2" width="34.8" height="34.8" fill="rgb(145,145,145)"/>
<rect x="787.6" y="171.2" width="34.8" height="34.8" fill="rgb(150,150,150)"/>
<rect x="821.8" y="171.2" width="34.8" height="34.8" fill="rgb(160,160,160)"/>
<rect x="856.1" y="171.2" width="34.8" height="34.8" fill="rgb(163,163,163)"/>
<rect x="890.3" y="171.2" width="34.8" height="34.8" fill="rgb(161,161,161)"/>
<rect x="924.5" y="171.2" width="34.8" height="34.8" fill="rgb(165,165,165)"/>
<rect x="958.8" y="171.2" width="34.8" height="34.8" fill="rgb(168,168,168)"/>
<rect x="993.0" y="171.2" width="34.8" height="34.8" fill="rgb(171,171,171)"/>
<rect x="1027.3" y="171.2" width="34.8" height="34.8" fill="rgb(165,165,165)"/>
<rect x="1061.5" y="171.2" width="34.8" height="34.8" fill="rgb(177,177,177)"/>
<rect x="1095.8" y="171.2" width="34.8" height="34.8" fill="rgb(180,180,180)"/>
<rect x="1130.0" y="171.2" width="69.1" height="34.8" fill="rgb(169,169,169)"/>
<rect x="1198.5" y="171.2" width="34.8" height="34.8" fill="rgb(173,173,173)"/>
<rect x="1232.7" y="171.2" width="34.8" height="34.8" fill="rgb(177,177,177)"/>
<rect x="1267.0" y="171.2" width="34.8" height="34.8" fill="rgb(180,180,180)"/>
<rect x="1301.2" y="171.2" width="34.8" height="34.8" fill="rgb(181,181,181)"/>
<rect x="1335.5" y="171.2" width="103.3" height="34.8" fill="rgb(188,188,188)"/>
<rect x="-68.5" y="205.4" width="103.3" height="34.8" fill="rgb(29,29,29)"/>
<rect x="34.2" y="205.4" width="34.8" height="34.8" fill="rgb(30,30,30)"/>
<rect x="68.5" y="205.4" width="34.8" height="34.8" fill="rgb(34,34,34)"/>
<rect x="102.7" y="205.4" width="34.8" height="34.8" fill="rgb(38,38,38)"/>
<rect x="137.0" y="205.4" width="34.8" height="34.8" fill="rgb(47,47,47)"/>
<rect x="171.2" y="205.4" width="34.8" height="34.8" fill="rgb(51,51,51)"/>
<rect x="205.5" y="205.4" width="34.8" height="34.8" fill="rgb(55,55,55)"/>
<rect x="239.7" y="205.4" width="34.8" height="34.8" fill="rgb(59,59,59)"/>
<rect x="273.9" y="205.4" width="34.8" height="34.8" fill="rgb(65,65,65)"/>
<rect x="308.2" y="205.4" width="34.8" height="34.8" fill="rgb(74,74,74)"/>
<rect x="342.4" y="205.4" width="34.8" height="34.8" fill="rgb(72,72,72)"/>
<rect x="376.7" y="205.4" width="34.8" height="34.8" fill="rgb(83,83,83)"/>
<rect x="410.9" y="205.4" width="34.8" height="34.8" fill="rgb(91,91,91)"/>
<rect x="445.2" y="205.4" width="34.8" height="34.8" fill="rgb(94,94,94)"/>
<rect x="479.4" y="205.4" width="34.8" height="34.8" fill="rgb(96,96,96)"/>
<rect x="513.6" y="205.4" width="34.8" height="34.8" fill="rgb(109,109,109)"/>
<rect x="547.9" y="205.4" width="34.8" height="34.8" fill="rgb(115,115,115)"/>
<rect x="582.1" y="205.4" width="34.8" height="34.8" fill="rgb(123,123,123)"/>
<rect x="616.4" y="205.4" width="34.8" height="34.8" fill="rgb(133,133,133)"/>
<rect x="650.6" y="205.4" width="34.8" height="34.8" fill="rgb(137,137,137)"/>
<rect x="684.9" y="205.4" width="34.8" height="34.8" fill="rgb(141,141,141)"/>
<rect x="719.1" y="205.4" width="34.8" height="34.8" fill="rgb(138,138,138)"/>
<rect x="753.3" y="205.4" width="34.8" height="34.8" fill="rgb(144,144,144)"/>
<rect x="787.6" y="205.4" width="34.8" height="34.8" fill="rgb(150,150,150)"/>
<rect x="821.8" y="205.4" width="34.8" height="34.8" fill="rgb(159,159,159)"/>
<rect x="856.1" y="205.4" width="34.8" height="34.8" fill="rgb(165,165,165)"/>
<rect x="890.3" y="205.4" width="34.8" height="34.8" fill="rgb(173,173,173)"/>
<rect x="924.5" y="205.4" width="69.1" height="34.8" fill="rgb(177,177,177)"/>
<rect x="993.0" y="205.4" width="34.8" height="34.8" fill="rgb(173,173,173)"/>
<rect x="1027.3" y="205.4" width="34.8" height="34.8" fill="rgb(163,163,163)"/>
<rect x="1061.5" y="205.4" width="34.8" height="34.8" fill="rgb(157,157,157)"/>
<rect x="1095.8" y="205.4" width="34.8" height="34.8" fill="rgb(161,161,161)"/>
<rect x="1130.0" y="205.4" width="34.8" height="34.8" fill="rgb(165,165,165)"/>
<rect x="1164.2" y="205.4" width="34.8" height="34.8" fill="rgb(172,172,172)"/>
<rect x="1198.5" y="205.4" width="34.8" height="34.8" fill="rgb(177,177,177)"/>
<rect x="1232.7" y="205.4" width="34.8" height="34.8" fill="rgb(180,180,180)"/>
<rect x="1267.0" y="205.4" width="34.8" height="34.8" fill="rgb(183,183,183)"/>
<rect x="1301.2" y="205.4" width="34.8" height="34.8" fill="rgb(184,184,184)"/>
<rect x="1335.5" y="205.4" width="103.3" height="34.8" fill="rgb(188,188,188)"/>
<rect x="-68.5" y="239.7" width="103.3" height="34.8" fill="rgb(42,42,42)"/>
<rect x="34.2" y="239.7" width="34.8" height="34.8" fill="rgb(47,47,47)"/>
<rect x="68.5" y="239.7" width="34.8" height="34.8" fill="rgb(49,49,49)"/>
<rect x="102.7" y="239.7" width="34.8" height="34.8" fill="rgb(51,51,51)"/>
<rect x="137.0" y="239.7" width="34.8" height="34.8" fill="rgb(55,55,55)"/>
<rect x="171.2" y="239.7" width="34.8" height="34.8" fill="rgb(48,48,48)"/>
<rect x="205.5" y="239.7" width="34.8" height="34.8" fill="rgb(55,55,55)"/>
<rect x="239.7" y="239.7" width="34.8" height="34.8" fill="rgb(60,60,60)"/>
<rect x="273.9" y="239.7" width="34.8" height="34.8" fill="rgb(66,66,66)"/>
<rect x="308.2" y="239.7" width="34.8" height="34.8" fill="rgb(76,76,76)"/>
<rect x="342.4" y="239.7" width="34.8" height="34.8" fill="rgb(82,82,82)"/>
<rect x="376.7" y="239.7" width="34.8" height="34.8" fill="rgb(90,90,90)"/>
<rect x="410.9" y="239.7" width="34.8" height="34.8" fill="rgb(92,92,92)"/>
<rect x="445.2" y="239.7" width="34.8" height="34.8" fill="rgb(94,94,94)"/>
<rect x="479.4" y="239.7" width="34.8" height="34.8" fill="rgb(96,96,96)"/>
<rect x="513.6" y="239.7" width="34.8" height="34.8" fill="rgb(107,107,107)"/>
<rect x="547.9" y="239.7" width="34.8" height="34.8" fill="rgb(115,115,115)"/>
<rect x="582.1" y="239.7" width="34.8" height="34.8" fill="rgb(119,119,119)"/>
<rect x="616.4" y="239.7" width="34.8" height="34.8" fill="rgb(128,128,128)"/>
<rect x="650.6" y="239.7" width="34.8" height="34.8" fill="rgb(134,134,134)"/>
<rect x="684.9" y="239.7" width="34.8" height="34.8" fill="rgb(140,140,140)"/>
<rect x="719.1" y="239.7" width="34.8" height="34.8" fill="rgb(149,149,149)"/>
<rect x="753.3" y="239.7" width="34.8" height="34.8" fill="rgb(157,157,157)"/>
<rect x="787.6" y="239.7" width="69.1" height="34.8" fill="rgb(161,161,161)"/>
<rect x="856.1" y="239.7" width="34.8" height="34.8" fill="rgb(164,164,164)"/>
<rect x="890.3" y="239.7" width="34.8" height="34.8" fill="rgb(168,168,168)"/>
<rect x="924.5" y="239.7" width="34.8" height="34.8" fill="rgb(175,175,175)"/>
<rect x="958.8" y="239.7" width="69.1" height="34.8" fill="rgb(177,177,177)"/>
<rect x="1027.3" y="239.7" width="34.8" height="34.8" fill="rgb(173,173,173)"/>
<rect x="1061.5" y="239.7" width="34.8" height="34.8" fill="rgb(171,171,171)"/>
<rect x="1095.8" y="239.7" width="69.1" height="34.8" fill="rgb(176,176,176)"/>
<rect x="1164.2" y="239.7" width="34.8" height="34.8" fill="rgb(179,179,179)"/>
<rect x="1198.5" y="239.7" width="34.8" height="34.8" fill="rgb(180,180,180)"/>
<rect x="1232.7" y="239.7" width="34.8" height="34.8" fill="rgb(181,181,181)"/>
<rect x="1267.0" y="239.7" width="34.8" height="34.8" fill="rgb(184,184,184)"/>
<rect x="1301.2" y="239.7" width="34.8" height="34.8" fill="rgb(185,185,185)"/>
<rect x="1335.5" y="239.7" width="103.3" height="34.8" fill="rgb(187,187,187)"/>
<rect x="-68.5" y="273.9" width="103.3" height="34.8" fill="rgb(48,48,48)"/>
<rect x="34.2" y="273.9" width="34.8" height="34.8" fill="rgb(51,51,51)"/>
<rect x="68.5" y="273.9" width="34.8" height="34.8" fill="rgb(53,53,53)"/>
<rect x="102.7" y="273.9" width="34.8" height="34.8" fill="rgb(55,55,55)"/>
<rect x="137.0" y="273.9" width="69.1" height="34.8" fill="rgb(57,57,57)"/>
<rect x="205.5" y="273.9" width="34.8" height="34.8" fill="rgb(60,60,60)"/>
<rect x="239.7" y="273.9" width="34.8" height="34.8" fill="rgb(63,63,63)"/>
<rect x="273.9" y="273.9" width="34.8" height="34.8" fill="rgb(72,72,72)"/>
<rect x="308.2" y="273.9" width="34.8" height="34.8" fill="rgb(82,82,82)"/>
<rect x="342.4" y="273.9" width="34.8" height="34.8" fill="rgb(88,88,88)"/>
<rect x="376.7" y="273.9" width="34.8" height="34.8" fill="rgb(96,96,96)"/>
<rect x="410.9" y="273.9" width="34.8" height="34.8" fill="rgb(103,103,103)"/>
<rect x="445.2" y="273.9" width="34.8" height="34.8" fill="rgb(99,99,99)"/>
<rect x="479.4" y="273.9" width="34.8" height="34.8" fill="rgb(107,107,107)"/>
<rect x="513.6" y="273.9" width="34.8" height="34.8" fill="rgb(114,114,114)"/>
<rect x="547.9" y="273.9" width="34.8" height="34.8" fill="rgb(122,122,122)"/>
<rect x="582.1" y="273.9" width="34.8" height="34.8" fill="rgb(130,130,130)"/>
<rect x="616.4" y="273.9" width="34.8" height="34.8" fill="rgb(137,137,137)"/>
<rect x="650.6" y="273.9" width="34.8" height="34.8" fill="rgb(141,141,141)"/>
<rect x="684.9" y="273.9" width="69.1" height="34.8" fill="rgb(145,145,145)"/>
<rect x="753.3" y="273.9" width="34.8" height="34.8" fill="rgb(141,141,141)"/>
<rect x="787.6" y="273.9" width="34.8" height="34.8" fill="rgb(148,148,148)"/>
<rect x="821.8" y="273.9" width="34.8" height="34.8" fill="rgb(153,153,153)"/>
<rect x="856.1" y="273.9" width="69.1" height="34.8" fill="rgb(157,157,157)"/>
<rect x="924.5" y="273.9" width="69.1" height="34.8" fill="rgb(159,159,159)"/>
<rect x="993.0" y="273.9" width="34.8" height="34.8" fill="rgb(164,164,164)"/>
<rect x="1027.3" y="273.9" width="69.1" height="34.8" fill="rgb(175,175,175)"/>
<rect x="1095.8" y="273.9" width="34.8" height="34.8" fill="rgb(171,171,171)"/>
<rect x="1130.0" y="273.9" width="34.8" height="34.8" fill="rgb(175,175,175)"/>
<rect x="1164.2" y="273.9" width="34.8" height="34.8" fill="rgb(180,180,180)"/>
<rect x="1198.5" y="273.9" width="34.8" height="34.8" fill="rgb(181,181,181)"/>
<rect x="1232.7" y="273.9" width="34.8" height="34.8" fill="rgb(180,180,180)"/>
<rect x="1267.0" y="273.9" width="34.8" height="34.8" fill="rgb(179,179,179)"/>
<rect x="1301.2" y="273.9" width="34.8" height="34.8" fill="rgb(181,181,181)"/>
<rect x="1335.5" y="273.9" width="103.3" height="34.8" fill="rgb(187,187,187)"/>
<rect x="-68.5" y="308.1" width="103.3" height="34.8" fill="rgb(55,55,55)"/>
<rect x="34.2" y="308.1" width="34.8" height="34.8" fill="rgb(57,57,57)"/>
<rect x="68.5" y="308.1" width="34.8" height="34.8" fill="rgb(60,60,60)"/>
<rect x="102.7" y="308.1" width="34.8" height="34.8" fill="rgb(61,61,61)"/>
<rect x="137.0" y="308.1" width="34.8" height="34.8" fill="rgb(63,63,63)"/>
<rect x="171.2" y="308.1" width="34.8" height="34.8" fill="rgb(67,67,67)"/>
<rect x="205.5" y="308.1" width="34.8" height="34.8" fill="rgb(70,70,70)"/>
<rect x="239.7" y="308.1" width="34.8" height="34.8" fill="rgb(72,72,72)"/>
<rect x="273.9" y="308.1" width="34.8" height="34.8" fill="rgb(76,76,76)"/>
<rect x="308.2" y="308.1" width="34.8" height="34.8" fill="rgb(80,80,80)"/>
<rect x="342.4" y="308.1" width="34.8" height="34.8" fill="rgb(94,94,94)"/>
<rect x="376.7" y="308.1" width="34.8" height="34.8" fill="rgb(102,102,102)"/>
<rect x="410.9" y="308.1" width="34.8" height="34.8" fill="rgb(113,113,113)"/>
<rect x="445.2" y="308.1" width="34.8" height="34.8" fill="rgb(121,121,121)"/>
<rect x="479.4" y="308.1" width="69.1" height="34.8" fill="rgb(128,128,128)"/>
<rect x="547.9" y="308.1" width="34.8" height="34.8" fill="rgb(125,125,125)"/>
<rect x="582.1" y="308.1" width="34.8" height="34.8" fill="rgb(130,130,130)"/>
<rect x="616.4" y="308.1" width="34.8" height="34.8" fill="rgb(136,136,136)"/>
<rect x="650.6" y="308.1" width="34.8" height="34.8" fill="rgb(140,140,140)"/>
<rect x="684.9" y="308.1" width="34.8" height="34.8" fill="rgb(145,145,145)"/>
<rect x="719.1" y="308.1" width="34.8" height="34.8" fill="rgb(142,142,142)"/>
<rect x="753.3" y="308.1" width="34.8" height="34.8" fill="rgb(140,140,140)"/>
<rect x="787.6" y="308.1" width="34.8" height="34.8" fill="rgb(142,142,142)"/>
<rect x="821.8" y="308.1" width="34.8" height="34.8" fill="rgb(141,141,141)"/>
<rect x="856.1" y="308.1" width="34.8" height="34.8" fill="rgb(148,148,148)"/>
<rect x="890.3" y="308.1" width="34.8" height="34.8" fill="rgb(152,152,152)"/>
<rect x="924.5" y="308.1" width="34.8" height="34.8" fill="rgb(149,149,149)"/>
<rect x="958.8" y="308.1" width="34.8" height="34.8" fill="rgb(150,150,150)"/>
<rect x="993.0" y="308.1" width="34.8" height="34.8" fill="rgb(159,159,159)"/>
<rect x="1027.3" y="308.1" width="34.8" height="34.8" fill="rgb(157,157,157)"/>
<rect x="1061.5" y="308.1" width="34.8" height="34.8" fill="rgb(164,164,164)"/>
<rect x="1095.8" y="308.1" width="34.8" height="34.8" fill="rgb(172,172,172)"/>
<rect x="1130.0" y="308.1" width="34.8" height="34.8" fill="rgb(169,169,169)"/>
<rect x="1164.2" y="308.1" width="34.8" height="34.8" fill="rgb(175,175,175)"/>
<rect x="1198.5" y="308.1" width="34.8" height="34.8" fill="rgb(172,172,172)"/>
<rect x="1232.7" y="308.1" width="34.8" height="34.8" fill="rgb(173,173,173)"/>
<rect x="1267.0" y="308.1" width="34.8" height="34.8" fill="rgb(179,179,179)"/>
<rect x="1301.2" y="308.1" width="34.8" height="34.8" fill="rgb(183,183,183)"/>
<rect x="1335.5" y="308.1" width="103.3" height="34.8" fill="rgb(194,194,194)"/>
<rect x="-68.5" y="342.4" width="103.3" height="34.8" fill="rgb(56,56,56)"/>
<rect x="34.2" y="342.4" width="34.8" height="34.8" fill="rgb(60,60,60)"/>
<rect x="68.5" y="342.4" width="34.8" height="34.8" fill="rgb(63,63,63)"/>
<rect x="102.7" y="342.4" width="34.8" height="34.8" fill="rgb(64,64,64)"/>
<rect x="137.0" y="342.4" width="34.8" height="34.8" fill="rgb(68,68,68)"/>
<rect x="171.2" y="342.4" width="34.8" height="34.8" fill="rgb(72,72,72)"/>
<rect x="205.5" y="342.4" width="34.8" height="34.8" fill="rgb(83,83,83)"/>
<rect x="239.7" y="342.4" width="34.8" height="34.8" fill="rgb(96,96,96)"/>
<rect x="273.9" y="342.4" width="34.8" height="34.8" fill="rgb(83,83,83)"/>
<rect x="308.2" y="342.4" width="34.8" height="34.8" fill="rgb(88,88,88)"/>
<rect x="342.4" y="342.4" width="34.8" height="34.8" fill="rgb(96,96,96)"/>
<rect x="376.7" y="342.4" width="34.8" height="34.8" fill="rgb(103,103,103)"/>
<rect x="410.9" y="342.4" width="34.8" height="34.8" fill="rgb(114,114,114)"/>
<rect x="445.2" y="342.4" width="34.8" height="34.8" fill="rgb(123,123,123)"/>
<rect x="479.4" y="342.4" width="69.1" height="34.8" fill="rgb(129,129,129)"/>
<rect x="547.9" y="342.4" width="34.8" height="34.8" fill="rgb(125,125,125)"/>
<rect x="582.1" y="342.4" width="34.8" height="34.8" fill="rgb(128,128,128)"/>
<rect x="616.4" y="342.4" width="34.8" height="34.8" fill="rgb(133,133,133)"/>
<rect x="650.6" y="342.4" width="103.3" height="34.8" fill="rgb(137,137,137)"/>
<rect x="753.3" y="342.4" width="34.8" height="34.8" fill="rgb(146,146,146)"/>
<rect x="787.6" y="342.4" width="34.8" height="34.8" fill="rgb(144,144,144)"/>
<rect x="821.8" y="342.4" width="34.8" height="34.8" fill="rgb(146,146,146)"/>
<rect x="856.1" y="342.4" width="34.8" height="34.8" fill="rgb(150,150,150)"/>
<rect x="890.3" y="342.4" width="34.8" height="34.8" fill="rgb(155,155,155)"/>
<rect x="924.5" y="342.4" width="34.8" height="34.8" fill="rgb(160,160,160)"/>
<rect x="958.8" y="342.4" width="34.8" height="34.8" fill="rgb(173,173,173)"/>
<rect x="993.0" y="342.4" width="34.8" height="34.8" fill="rgb(179,179,179)"/>
<rect x="1027.3" y="342.4" width="34.8" height="34.8" fill="rgb(167,167,167)"/>
<rect x="1061.5" y="342.4" width="34.8" height="34.8" fill="rgb(156,156,156)"/>
<rect x="1095.8" y="342.4" width="34.8" height="34.8" fill="rgb(160,160,160)"/>
<rect x="1130.0" y="342.4" width="34.8" height="34.8" fill="rgb(168,168,168)"/>
<rect x="1164.2" y="342.4" width="34.8" height="34.8" fill="rgb(175,175,175)"/>
<rect x="1198.5" y="342.4" width="69.1" height="34.8" fill="rgb(177,177,177)"/>
<rect x="1267.0" y="342.4" width="34.8" height="34.8" fill="rgb(183,183,183)"/>
<rect x="1301.2" y="342.4" width="34.8" height="34.8" fill="rgb(188,188,188)"/>
<rect x="1335.5" y="342.4" width="103.3" height="34.8" fill="rgb(195,195,195)"/>
<rect x="-68.5" y="376.6" width="103.3" height="34.8" fill="rgb(59,59,59)"/>
<rect x="34.2" y="376.6" width="34.8" height="34.8" fill="rgb(63,63,63)"/>
<rect x="68.5" y="376.6" width="34.8" height="34.8" fill="rgb(65,65,65)"/>
<rect x="102.7" y="376.6" width="34.8" height="34.8" fill="rgb(68,68,68)"/>
<rect x="137.0" y="376.6" width="34.8" height="34.8" fill="rgb(72,72,72)"/>
<rect x="171.2" y="376.6" width="34.8" height="34.8" fill="rgb(78,78,78)"/>
<rect x="205.5" y="376.6" width="34.8" height="34.8" fill="rgb(90,90,90)"/>
<rect x="239.7" y="376.6" width="34.8" height="34.8" fill="rgb(121,121,121)"/>
<rect x="273.9" y="376.6" width="34.8" height="34.8" fill="rgb(103,103,103)"/>
<rect x="308.2" y="376.6" width="34.8" height="34.8" fill="rgb(96,96,96)"/>
<rect x="342.4" y="376.6" width="34.8" height="34.8" fill="rgb(100,100,100)"/>
<rect x="376.7" y="376.6" width="34.8" height="34.8" fill="rgb(121,121,121)"/>
<rect x="410.9" y="376.6" width="69.1" height="34.8" fill="rgb(132,132,132)"/>
<rect x="479.4" y="376.6" width="34.8" height="34.8" fill="rgb(134,134,134)"/>
<rect x="513.6" y="376.6" width="34.8" height="34.8" fill="rgb(128,128,128)"/>
<rect x="547.9" y="376.6" width="34.8" height="34.8" fill="rgb(123,123,123)"/>
<rect x="582.1" y="376.6" width="34.8" height="34.8" fill="rgb(125,125,125)"/>
<rect x="616.4" y="376.6" width="34.8" height="34.8" fill="rgb(132,132,132)"/>
<rect x="650.6" y="376.6" width="34.8" height="34.8" fill="rgb(145,145,145)"/>
<rect x="684.9" y="376.6" width="34.8" height="34.8" fill="rgb(134,134,134)"/>
<rect x="719.1" y="376.6" width="34.8" height="34.8" fill="rgb(136,136,136)"/>
<rect x="753.3" y="376.6" width="34.8" height="34.8" fill="rgb(145,145,145)"/>
<rect x="787.6" y="376.6" width="34.8" height="34.8" fill="rgb(144,144,144)"/>
<rect x="821.8" y="376.6" width="34.8" height="34.8" fill="rgb(149,149,149)"/>
<rect x="856.1" y="376.6" width="34.8" height="34.8" fill="rgb(153,153,153)"/>
<rect x="890.3" y="376.6" width="34.8" height="34.8" fill="rgb(159,159,159)"/>
<rect x="924.5" y="376.6" width="34.8" height="34.8" fill="rgb(164,164,164)"/>
<rect x="958.8" y="376.6" width="34.8" height="34.8" fill="rgb(169,169,169)"/>
<rect x="993.0" y="376.6" width="34.8" height="34.8" fill="rgb(177,177,177)"/>
<rect x="1027.3" y="376.6" width="34.8" height="34.8" fill="rgb(173,173,173)"/>
<rect x="1061.5" y="376.6" width="34.8" height="34.8" fill="rgb(176,176,176)"/>
<rect x="1095.8" y="376.6" width="34.8" height="34.8" fill="rgb(168,168,168)"/>
<rect x="1130.0" y="376.6" width="34.8" height="34.8" fill="rgb(161,161,161)"/>
<rect x="1164.2" y="376.6" width="34.8" height="34.8" fill="rgb(171,171,171)"/>
<rect x="1198.5" y="376.6" width="34.8" height="34.8" fill="rgb(183,183,183)"/>
<rect x="1232.7" y="376.6" width="34.8" height="34.8" fill="rgb(180,180,180)"/>
<rect x="1267.0" y="376.6" width="34.8" height="34.8" fill="rgb(181,181,181)"/>
<rect x="1301.2" y="376.6" width="34.8" height="34.8" fill="rgb(187,187,187)"/>
<rect x="1335.5" y="376.6" width="103.3" height="34.8" fill="rgb(192,192,192)"/>
<rect x="-68.5" y="410.8" width="103.3" height="34.8" fill="rgb(63,63,63)"/>
<rect x="34.2" y="410.8" width="34.8" height="34.8" fill="rgb(65,65,65)"/>
<rect x="68.5" y="410.8" width="34.8" height="34.8" fill="rgb(68,68,68)"/>
<rect x="102.7" y="410.8" width="34.8" height="34.8" fill="rgb(71,71,71)"/>
<rect x="137.0" y="410.8" width="34.8" height="34.8" fill="rgb(75,75,75)"/>
<rect x="171.2" y="410.8" width="34.8" height="34.8" fill="rgb(82,82,82)"/>
<rect x="205.5" y="410.8" width="34.8" height="34.8" fill="rgb(91,91,91)"/>
<rect x="239.7" y="410.8" width="34.8" height="34.8" fill="rgb(119,119,119)"/>
<rect x="273.9" y="410.8" width="34.8" height="34.8" fill="rgb(100,100,100)"/>
<rect x="308.2" y="410.8" width="34.8" height="34.8" fill="rgb(95,95,95)"/>
<rect x="342.4" y="410.8" width="34.8" height="34.8" fill="rgb(103,103,103)"/>
<rect x="376.7" y="410.8" width="34.8" height="34.8" fill="rgb(118,118,118)"/>
<rect x="410.9" y="410.8" width="34.8" height="34.8" fill="rgb(132,132,132)"/>
<rect x="445.2" y="410.8" width="34.8" height="34.8" fill="rgb(140,140,140)"/>
<rect x="479.4" y="410.8" width="34.8" height="34.8" fill="rgb(136,136,136)"/>
<rect x="513.6" y="410.8" width="34.8" height="34.8" fill="rgb(132,132,132)"/>
<rect x="547.9" y="410.8" width="34.8" height="34.8" fill="rgb(136,136,136)"/>
<rect x="582.1" y="410.8" width="34.8" height="34.8" fill="rgb(138,138,138)"/>
<rect x="616.4" y="410.8" width="34.8" height="34.8" fill="rgb(144,144,144)"/>
<rect x="650.6" y="410.8" width="34.8" height="34.8" fill="rgb(140,140,140)"/>
<rect x="684.9" y="410.8" width="34.8" height="34.8" fill="rgb(137,137,137)"/>
<rect x="719.1" y="410.8" width="34.8" height="34.8" fill="rgb(134,134,134)"/>
<rect x="753.3" y="410.8" width="34.8" height="34.8" fill="rgb(140,140,140)"/>
<rect x="787.6" y="410.8" width="34.8" height="34.8" fill="rgb(142,142,142)"/>
<rect x="821.8" y="410.8" width="34.8" height="34.8" fill="rgb(148,148,148)"/>
<rect x="856.1" y="410.8" width="34.8" height="34.8" fill="rgb(155,155,155)"/>
<rect x="890.3" y="410.8" width="34.8" height="34.8" fill="rgb(160,160,160)"/>
<rect x="924.5" y="410.8" width="69.1" height="34.8" fill="rgb(165,165,165)"/>
<rect x="993.0" y="410.8" width="34.8" height="34.8" fill="rgb(168,168,168)"/>
<rect x="1027.3" y="410.8" width="34.8" height="34.8" fill="rgb(172,172,172)"/>
<rect x="1061.5" y="410.8" width="34.8" height="34.8" fill="rgb(177,177,177)"/>
<rect x="1095.8" y="410.8" width="34.8" height="34.8" fill="rgb(179,179,179)"/>
<rect x="1130.0" y="410.8" width="34.8" height="34.8" fill="rgb(185,185,185)"/>
<rect x="1164.2" y="410.8" width="34.8" height="34.8" fill="rgb(192,192,192)"/>
<rect x="1198.5" y="410.8" width="34.8" height="34.8" fill="rgb(183,183,183)"/>
<rect x="1232.7" y="410.8" width="34.8" height="34.8" fill="rgb(181,181,181)"/>
<rect x="1267.0" y="410.8" width="171.8" height="34.8" fill="rgb(191,191,191)"/>
<rect x="-68.5" y="445.1" width="103.3" height="34.8" fill="rgb(75,75,75)"/>
<rect x="34.2" y="445.1" width="34.8" height="34.8" fill="rgb(71,71,71)"/>
<rect x="68.5" y="445.1" width="34.8" height="34.8" fill="rgb(70,70,70)"/>
<rect x="102.7" y="445.1" width="34.8" height="34.8" fill="rgb(72,72,72)"/>
<rect x="137.0" y="445.1" width="34.8" height="34.8" fill="rgb(76,76,76)"/>
<rect x="171.2" y="445.1" width="34.8" height="34.8" fill="rgb(94,94,94)"/>
<rect x="205.5" y="445.1" width="34.8" height="34.8" fill="rgb(103,103,103)"/>
<rect x="239.7" y="445.1" width="34.8" height="34.8" fill="rgb(75,75,75)"/>
<rect x="273.9" y="445.1" width="34.8" height="34.8" fill="rgb(63,63,63)"/>
<rect x="308.2" y="445.1" width="34.8" height="34.8" fill="rgb(92,92,92)"/>
<rect x="342.4" y="445.1" width="34.8" height="34.8" fill="rgb(98,98,98)"/>
<rect x="376.7" y="445.1" width="34.8" height="34.8" fill="rgb(110,110,110)"/>
<rect x="410.9" y="445.1" width="34.8" height="34.8" fill="rgb(130,130,130)"/>
<rect x="445.2" y="445.1" width="34.8" height="34.8" fill="rgb(133,133,133)"/>
<rect x="479.4" y="445.1" width="34.8" height="34.8" fill="rgb(126,126,126)"/>
<rect x="513.6" y="445.1" width="34.8" height="34.8" fill="rgb(128,128,128)"/>
<rect x="547.9" y="445.1" width="34.8" height="34.8" fill="rgb(134,134,134)"/>
<rect x="582.1" y="445.1" width="34.8" height="34.8" fill="rgb(141,141,141)"/>
<rect x="616.4" y="445.1" width="34.8" height="34.8" fill="rgb(144,144,144)"/>
<rect x="650.6" y="445.1" width="34.8" height="34.8" fill="rgb(137,137,137)"/>
<rect x="684.9" y="445.1" width="34.8" height="34.8" fill="rgb(132,132,132)"/>
<rect x="719.1" y="445.1" width="34.8" height="34.8" fill="rgb(130,130,130)"/>
<rect x="753.3" y="445.1" width="34.8" height="34.8" fill="rgb(134,134,134)"/>
<rect x="787.6" y="445.1" width="34.8" height="34.8" fill="rgb(140,140,140)"/>
<rect x="821.8" y="445.1" width="34.8" height="34.8" fill="rgb(146,146,146)"/>
<rect x="856.1" y="445.1" width="34.8" height="34.8" fill="rgb(155,155,155)"/>
<rect x="890.3" y="445.1" width="34.8" height="34.8" fill="rgb(159,159,159)"/>
<rect x="924.5" y="445.1" width="34.8" height="34.8" fill="rgb(161,161,161)"/>
<rect x="958.8" y="445.1" width="34.8" height="34.8" fill="rgb(165,165,165)"/>
<rect x="993.0" y="445.1" width="34.8" height="34.8" fill="rgb(168,168,168)"/>
<rect x="1027.3" y="445.1" width="34.8" height="34.8" fill="rgb(169,169,169)"/>
<rect x="1061.5" y="445.1" width="34.8" height="34.8" fill="rgb(175,175,175)"/>
<rect x="1095.8" y="445.1" width="34.8" height="34.8" fill="rgb(183,183,183)"/>
<rect x="1130.0" y="445.1" width="34.8" height="34.8" fill="rgb(191,191,191)"/>
<rect x="1164.2" y="445.1" width="34.8" height="34.8" fill="rgb(188,188,188)"/>
<rect x="1198.5" y="445.1" width="34.8" height="34.8" fill="rgb(191,191,191)"/>
<rect x="1232.7" y="445.1" width="34.8" height="34.8" fill="rgb(202,202,202)"/>
<rect x="1267.0" y="445.1" width="34.8" height="34.8" fill="rgb(200,200,200)"/>
<rect x="1301.2" y="445.1" width="137.6" height="34.8" fill="rgb(187,187,187)"/>
<rect x="-68.5" y="479.3" width="103.3" height="34.8" fill="rgb(78,78,78)"/>
<rect x="34.2" y="479.3" width="34.8" height="34.8" fill="rgb(75,75,75)"/>
<rect x="68.5" y="479.3" width="34.8" height="34.8" fill="rgb(70,70,70)"/>
<rect x="102.7" y="479.3" width="34.8" height="34.8" fill="rgb(67,67,67)"/>
<rect x="137.0" y="479.3" width="34.8" height="34.8" fill="rgb(70,70,70)"/>
<rect x="171.2" y="479.3" width="34.8" height="34.8" fill="rgb(78,78,78)"/>
<rect x="205.5" y="479.3" width="34.8" height="34.8" fill="rgb(91,91,91)"/>
<rect x="239.7" y="479.3" width="34.8" height="34.8" fill="rgb(94,94,94)"/>
<rect x="273.9" y="479.3" width="34.8" height="34.8" fill="rgb(70,70,70)"/>
<rect x="308.2" y="479.3" width="34.8" height="34.8" fill="rgb(83,83,83)"/>
<rect x="342.4" y="479.3" width="34.8" height="34.8" fill="rgb(78,78,78)"/>
<rect x="376.7" y="479.3" width="34.8" height="34.8" fill="rgb(88,88,88)"/>
<rect x="410.9" y="479.3" width="34.8" height="34.8" fill="rgb(79,79,79)"/>
<rect x="445.2" y="479.3" width="34.8" height="34.8" fill="rgb(95,95,95)"/>
<rect x="479.4" y="479.3" width="34.8" height="34.8" fill="rgb(105,105,105)"/>
<rect x="513.6" y="479.3" width="34.8" height="34.8" fill="rgb(106,106,106)"/>
<rect x="547.9" y="479.3" width="34.8" height="34.8" fill="rgb(103,103,103)"/>
<rect x="582.1" y="479.3" width="34.8" height="34.8" fill="rgb(114,114,114)"/>
<rect x="616.4" y="479.3" width="34.8" height="34.8" fill="rgb(129,129,129)"/>
<rect x="650.6" y="479.3" width="34.8" height="34.8" fill="rgb(134,134,134)"/>
<rect x="684.9" y="479.3" width="34.8" height="34.8" fill="rgb(138,138,138)"/>
<rect x="719.1" y="479.3" width="34.8" height="34.8" fill="rgb(140,140,140)"/>
<rect x="753.3" y="479.3" width="34.8" height="34.8" fill="rgb(144,144,144)"/>
<rect x="787.6" y="479.3" width="34.8" height="34.8" fill="rgb(140,140,140)"/>
<rect x="821.8" y="479.3" width="34.8" height="34.8" fill="rgb(144,144,144)"/>
<rect x="856.1" y="479.3" width="34.8" height="34.8" fill="rgb(153,153,153)"/>
<rect x="890.3" y="479.3" width="34.8" height="34.8" fill="rgb(164,164,164)"/>
<rect x="924.5" y="479.3" width="34.8" height="34.8" fill="rgb(168,168,168)"/>
<rect x="958.8" y="479.3" width="34.8" height="34.8" fill="rgb(172,172,172)"/>
<rect x="993.0" y="479.3" width="34.8" height="34.8" fill="rgb(177,177,177)"/>
<rect x="1027.3" y="479.3" width="34.8" height="34.8" fill="rgb(172,172,172)"/>
<rect x="1061.5" y="479.3" width="34.8" height="34.8" fill="rgb(176,176,176)"/>
<rect x="1095.8" y="479.3" width="34.8" height="34.8" fill="rgb(181,181,181)"/>
<rect x="1130.0" y="479.3" width="34.8" height="34.8" fill="rgb(185,185,185)"/>
<rect x="1164.2" y="479.3" width="34.8" height="34.8" fill="rgb(192,192,192)"/>
<rect x="1198.5" y="479.3" width="34.8" height="34.8" fill="rgb(196,196,196)"/>
<rect x="1232.7" y="479.3" width="69.1" height="34.8" fill="rgb(204,204,204)"/>
<rect x="1301.2" y="479.3" width="137.6" height="34.8" fill="rgb(195,195,195)"/>
<rect x="-68.5" y="513.6" width="103.3" height="34.8" fill="rgb(67,67,67)"/>
<rect x="34.2" y="513.6" width="34.8" height="34.8" fill="rgb(74,74,74)"/>
<rect x="68.5" y="513.6" width="34.8" height="34.8" fill="rgb(67,67,67)"/>
<rect x="102.7" y="513.6" width="69.1" height="34.8" fill="rgb(63,63,63)"/>
<rect x="171.2" y="513.6" width="34.8" height="34.8" fill="rgb(64,64,64)"/>
<rect x="205.5" y="513.6" width="34.8" height="34.8" fill="rgb(74,74,74)"/>
<rect x="239.7" y="513.6" width="34.8" height="34.8" fill="rgb(76,76,76)"/>
<rect x="273.9" y="513.6" width="34.8" height="34.8" fill="rgb(79,79,79)"/>
<rect x="308.2" y="513.6" width="69.1" height="34.8" fill="rgb(92,92,92)"/>
<rect x="376.7" y="513.6" width="34.8" height="34.8" fill="rgb(94,94,94)"/>
<rect x="410.9" y="513.6" width="34.8" height="34.8" fill="rgb(91,91,91)"/>
<rect x="445.2" y="513.6" width="34.8" height="34.8" fill="rgb(96,96,96)"/>
<rect x="479.4" y="513.6" width="34.8" height="34.8" fill="rgb(98,98,98)"/>
<rect x="513.6" y="513.6" width="34.8" height="34.8" fill="rgb(102,102,102)"/>
<rect x="547.9" y="513.6" width="34.8" height="34.8" fill="rgb(109,109,109)"/>
<rect x="582.1" y="513.6" width="34.8" height="34.8" fill="rgb(117,117,117)"/>
<rect x="616.4" y="513.6" width="34.8" height="34.8" fill="rgb(128,128,128)"/>
<rect x="650.6" y="513.6" width="34.8" height="34.8" fill="rgb(134,134,134)"/>
<rect x="684.9" y="513.6" width="34.8" height="34.8" fill="rgb(142,142,142)"/>
<rect x="719.1" y="513.6" width="34.8" height="34.8" fill="rgb(155,155,155)"/>
<rect x="753.3" y="513.6" width="34.8" height="34.8" fill="rgb(156,156,156)"/>
<rect x="787.6" y="513.6" width="34.8" height="34.8" fill="rgb(146,146,146)"/>
<rect x="821.8" y="513.6" width="34.8" height="34.8" fill="rgb(152,152,152)"/>
<rect x="856.1" y="513.6" width="34.8" height="34.8" fill="rgb(156,156,156)"/>
<rect x="890.3" y="513.6" width="34.8" height="34.8" fill="rgb(164,164,164)"/>
<rect x="924.5" y="513.6" width="34.8" height="34.8" fill="rgb(169,169,169)"/>
<rect x="958.8" y="513.6" width="34.8" height="34.8" fill="rgb(177,177,177)"/>
<rect x="993.0" y="513.6" width="34.8" height="34.8" fill="rgb(179,179,179)"/>
<rect x="1027.3" y="513.6" width="34.8" height="34.8" fill="rgb(176,176,176)"/>
<rect x="1061.5" y="513.6" width="34.8" height="34.8" fill="rgb(175,175,175)"/>
<rect x="1095.8" y="513.6" width="34.8" height="34.8" fill="rgb(179,179,179)"/>
<rect x="1130.0" y="513.6" width="34.8" height="34.8" fill="rgb(181,181,181)"/>
<rect x="1164.2" y="513.6" width="34.8" height="34.8" fill="rgb(190,190,190)"/>
<rect x="1198.5" y="513.6" width="34.8" height="34.8" fill="rgb(194,194,194)"/>
<rect x="1232.7" y="513.6" width="34.8" height="34.8" fill="rgb(195,195,195)"/>
<rect x="1267.0" y="513.6" width="34.8" height="34.8" fill="rgb(200,200,200)"/>
<rect x="1301.2" y="513.6" width="34.8" height="34.8" fill="rgb(207,207,207)"/>
<rect x="1335.5" y="513.6" width="103.3" height="34.8" fill="rgb(212,212,212)"/>
<rect x="-68.5" y="547.8" width="103.3" height="34.8" fill="rgb(67,67,67)"/>
<rect x="34.2" y="547.8" width="34.8" height="34.8" fill="rgb(74,74,74)"/>
<rect x="68.5" y="547.8" width="34.8" height="34.8" fill="rgb(67,67,67)"/>
<rect x="102.7" y="547.8" width="69.1" height="34.8" fill="rgb(63,63,63)"/>
<rect x="171.2" y="547.8" width="34.8" height="34.8" fill="rgb(64,64,64)"/>
<rect x="205.5" y="547.8" width="34.8" height="34.8" fill="rgb(74,74,74)"/>
<rect x="239.7" y="547.8" width="34.8" height="34.8" fill="rgb(76,76,76)"/>
<rect x="273.9" y="547.8" width="34.8" height="34.8" fill="rgb(79,79,79)"/>
<rect x="308.2" y="547.8" width="69.1" height="34.8" fill="rgb(92,92,92)"/>
<rect x="376.7" y="547.8" width="34.8" height="34.8" fill="rgb(94,94,94)"/>
<rect x="410.9" y="547.8" width="34.8" height="34.8" fill="rgb(91,91,91)"/>
<rect x="445.2" y="547.8" width="34.8" height="34.8" fill="rgb(96,96,96)"/>
<rect x="479.4" y="547.8" width="34.8" height="34.8" fill="rgb(98,98,98)"/>
<rect x="513.6" y="547.8" width="34.8" height="34.8" fill="rgb(102,102,102)"/>
<rect x="547.9" y="547.8" width="34.8" height="34.8" fill="rgb(109,109,109)"/>
<rect x="582.1" y="547.8" width="34.8" height="34.8" fill="rgb(117,117,117)"/>
<rect x="616.4" y="547.8" width="34.8" height="34.8" fill="rgb(128,128,128)"/>
<rect x="650.6" y="547.8" width="34.8" height="34.8" fill="rgb(134,134,134)"/>
<rect x="684.9" y="547.8" width="34.8" height="34.8" fill="rgb(142,142,142)"/>
<rect x="719.1" y="547.8" width="34.8" height="34.8" fill="rgb(155,155,155)"/>
<rect x="753.3" y="547.8" width="34.8" height="34.8" fill="rgb(156,156,156)"/>
<rect x="787.6" y="547.8" width="34.8" height="34.8" fill="rgb(146,146,146)"/>
<rect x="821.8" y="547.8" width="34.8" height="34.8" fill="rgb(152,152,152)"/>
<rect x="856.1" y="547.8" width="34.8" height="34.8" fill="rgb(156,156,156)"/>
<rect x="890.3" y="547.8" width="34.8" height="34.8" fill="rgb(164,164,164)"/>
<rect x="924.5" y="547.8" width="34.8" height="34.8" fill="rgb(169,169,169)"/>
<rect x="958.8" y="547.8" width="34.8" height="34.8" fill="rgb(177,177,177)"/>
<rect x="993.0" y="547.8" width="34.8" height="34.8" fill="rgb(179,179,179)"/>
<rect x="1027.3" y="547.8" width="34.8" height="34.8" fill="rgb(176,176,176)"/>
<rect x="1061.5" y="547.8" width="34.8" height="34.8" fill="rgb(175,175,175)"/>
<rect x="1095.8" y="547.8" width="34.8" height="34.8" fill="rgb(179,179,179)"/>
<rect x="1130.0" y="547.8" width="34.8" height="34.8" fill="rgb(181,181,181)"/>
<rect x="1164.2" y="547.8" width="34.8" height="34.8" fill="rgb(190,190,190)"/>
<rect x="1198.5" y="547.8" width="34.8" height="34.8" fill="rgb(194,194,194)"/>
<rect x="1232.7" y="547.8" width="34.8" height="34.8" fill="rgb(195,195,195)"/>
<rect x="1267.0" y="547.8" width="34.8" height="34.8" fill="rgb(200,200,200)"/>
<rect x="1301.2" y="547.8" width="34.8" height="34.8" fill="rgb(207,207,207)"/>
<rect x="1335.5" y="547.8" width="103.3" height="34.8" fill="rgb(212,212,212)"/>
<rect x="-68.5" y="582.0" width="103.3" height="34.8" fill="rgb(67,67,67)"/>
<rect x="34.2" y="582.0" width="34.8" height="34.8" fill="rgb(74,74,74)"/>
<rect x="68.5" y="582.0" width="34.8" height="34.8" fill="rgb(67,67,67)"/>
<rect x="102.7" y="582.0" width="69.1" height="34.8" fill="rgb(63,63,63)"/>
<rect x="171.2" y="582.0" width="34.8" height="34.8" fill="rgb(64,64,64)"/>
<rect x="205.5" y="582.0" width="34.8" height="34.8" fill="rgb(74,74,74)"/>
<rect x="239.7" y="582.0" width="34.8" height="34.8" fill="rgb(76,76,76)"/>
<rect x="273.9" y="582.0" width="34.8" height="34.8" fill="rgb(79,79,79)"/>
<rect x="308.2" y="582.0" width="69.1" height="34.8" fill="rgb(92,92,92)"/>
<rect x="376.7" y="582.0" width="34.8" height="34.8" fill="rgb(94,94,94)"/>
<rect x="410.9" y="582.0" width="34.8" height="34.8" fill="rgb(91,91,91)"/>
<rect x="445.2" y="582.0" width="34.8" height="34.8" fill="rgb(96,96,96)"/>
<rect x="479.4" y="582.0" width="34.8" height="34.8" fill="rgb(98,98,98)"/>
<rect x="513.6" y="582.0" width="34.8" height="34.8" fill="rgb(102,102,102)"/>
<rect x="547.9" y="582.0" width="34.8" height="34.8" fill="rgb(109,109,109)"/>
<rect x="582.1" y="582.0" width="34.8" height="34.8" fill="rgb(117,117,117)"/>
<rect x="616.4" y="582.0" width="34.8" height="34.8" fill="rgb(128,128,128)"/>
<rect x="650.6" y="582.0" width="34.8" height="34.8" fill="rgb(134,134,134)"/>
<rect x="684.9" y="582.0" width="34.8" height="34.8" fill="rgb(142,142,142)"/>
<rect x="719.1" y="582.0" width="34.8" height="34.8" fill="rgb(155,155,155)"/>
<rect x="753.3" y="582.0" width="34.8" height="34.8" fill="rgb(156,156,156)"/>
<rect x="787.6" y="582.0" width="34.8" height="34.8" fill="rgb(146,146,146)"/>
<rect x="821.8" y="582.0" width="34.8" height="34.8" fill="rgb(152,152,152)"/>
<rect x="856.1" y="582.0" width="34.8" height="34.8" fill="rgb(156,156,156)"/>
<rect x="890.3" y="582.0" width="34.8" height="34.8" fill="rgb(164,164,164)"/>
<rect x="924.5" y="582.0" width="34.8" height="34.8" fill="rgb(169,169,169)"/>
<rect x="958.8" y="582.0" width="34.8" height="34.8" fill="rgb(177,177,177)"/>
<rect x="993.0" y="582.0" width="34.8" height="34.8" fill="rgb(179,179,179)"/>
<rect x="1027.3" y="582.0" width="34.8" height="34.8" fill="rgb(176,176,176)"/>
<rect x="1061.5" y="582.0" width="34.8" height="34.8" fill="rgb(175,175,175)"/>
<rect x="1095.8" y="582.0" width="34.8" height="34.8" fill="rgb(179,179,179)"/>
<rect x="1130.0" y="582.0" width="34.8" height="34.8" fill="rgb(181,181,181)"/>
<rect x="1164.2" y="582.0" width="34.8" height="34.8" fill="rgb(190,190,190)"/>
<rect x="1198.5" y="582.0" width="34.8" height="34.8" fill="rgb(194,194,194)"/>
<rect x="1232.7" y="582.0" width="34.8" height="34.8" fill="rgb(195,195,195)"/>
<rect x="1267.0" y="582.0" width="34.8" height="34.8" fill="rgb(200,200,200)"/>
<rect x="1301.2" y="582.0" width="34.8" height="34.8" fill="rgb(207,207,207)"/>
<rect x="1335.5" y="582.0" width="103.3" height="34.8" fill="rgb(212,212,212)"/>
</g>
<g filter="url(#bC)">
<polygon points="1065.1,165.5 1078.0,150.4 1097.3,148.3 1114.5,151.3 1129.6,161.2 1136.0,176.2 1132.6,193.4 1121.0,205.5 1108.1,211.5 1093.0,209.8 1078.0,205.5 1067.2,193.4 1062.1,178.4" fill="rgb(179,179,179)"/>
</g>
<g filter="url(#bB)">
<polygon points="218.9,484.6 229.9,479.1 249.2,476.4 269.9,481.9 276.8,490.1 260.2,497.0 246.4,502.5 229.9,513.6 221.6,510.8 210.6,498.4" fill="rgb(95,95,95)"/>
<polygon points="227.1,475.0 235.4,461.2 242.3,454.3 263.0,452.9 269.9,444.7 279.5,447.4 285.0,457.1 282.3,470.8 290.5,484.6 301.6,488.8 318.1,481.9 345.7,484.6 372.7,491.5 372.7,512.2 345.7,509.4 325.0,505.3 303.0,506.7 291.9,502.5 280.9,488.8 271.2,479.1 257.5,473.6 240.9,477.7" fill="rgb(75,75,75)"/>
<polygon points="276.8,464.0 283.7,470.8 291.9,484.6 300.2,495.7 301.6,505.3 294.7,502.5 285.0,487.4 276.8,475.0" fill="rgb(63,63,63)"/>
<polygon points="247.8,386.8 263.0,390.9 275.4,410.2 285.0,418.5 278.1,430.9 263.0,433.6 254.7,441.9 245.1,439.1 240.9,426.7 245.1,404.7" fill="rgb(113,113,113)"/>
<polygon points="251.9,399.2 261.6,397.8 269.9,413.0 271.2,424.0 260.2,428.1 251.9,432.2 247.8,421.2" fill="rgb(133,133,133)"/>
<polygon points="198.2,465.3 210.6,455.7 223.0,465.3 220.2,479.1 210.6,488.8 199.6,481.9" fill="rgb(111,111,111)"/>
<polygon points="205.1,468.1 213.4,465.3 216.1,475.0 209.2,481.9 203.7,476.4" fill="rgb(121,121,121)"/>
<polygon points="235.4,360.6 243.7,356.4 251.9,360.6 254.7,367.5 247.8,374.4 238.2,373.0 232.7,367.5" fill="rgb(114,114,114)"/>
<polygon points="240.2,362.6 245.1,361.3 247.8,365.4 243.7,368.2 239.5,366.8" fill="rgb(136,136,136)"/>
<polygon points="1093.0,178.4 1108.1,176.2 1115.8,187.4 1108.1,198.6 1093.0,196.0 1087.9,187.0" fill="rgb(194,194,194)"/>
<polygon points="1098.2,183.5 1107.7,182.2 1109.4,189.1 1099.9,190.8" fill="rgb(207,207,207)"/>
</g>
</g>
<g filter="url(#fL)">
<polygon points="285.0,446.0 291.9,443.3 301.6,447.4 309.8,457.1 307.1,465.3 301.6,473.6 298.8,483.3 290.5,486.0 285.0,477.7 279.5,468.1 278.1,459.8 283.7,454.3" fill="rgb(128,128,128)"/>
<polygon points="223.0,526.0 229.9,515.0 240.9,510.8 247.8,503.9 260.2,498.4 269.9,491.5 279.5,487.4 283.7,492.9 280.9,498.4 287.8,506.7 297.4,510.8 301.6,513.6 296.1,521.8 285.0,524.6 271.2,526.0 261.6,530.1 251.9,535.6 246.4,542.5 238.2,546.0 229.9,542.5 225.8,534.3" fill="rgb(128,128,128)"/>
</g>
</g></g>
<rect x="317.3" y="87.0" width="1369.7" height="547.8" fill="none" stroke="#5c5c5c" stroke-width="1"/>
<rect x="1728.5" y="87.00" width="36.0" height="10.09" fill="#83171b"/>
<rect x="1728.5" y="95.59" width="36.0" height="10.09" fill="#8f1a20"/>
<rect x="1728.5" y="104.19" width="36.0" height="10.09" fill="#9a1c23"/>
<rect x="1728.5" y="112.78" width="36.0" height="10.09" fill="#a61d25"/>
<rect x="1728.5" y="121.38" width="36.0" height="10.09" fill="#b41921"/>
<rect x="1728.5" y="129.97" width="36.0" height="10.09" fill="#c4151d"/>
<rect x="1728.5" y="138.56" width="36.0" height="10.09" fill="#d41219"/>
<rect x="1728.5" y="147.16" width="36.0" height="10.09" fill="#de1016"/>
<rect x="1728.5" y="155.75" width="36.0" height="10.09" fill="#e20f15"/>
<rect x="1728.5" y="164.34" width="36.0" height="10.09" fill="#e81719"/>
<rect x="1728.5" y="172.94" width="36.0" height="10.09" fill="#eb241a"/>
<rect x="1728.5" y="181.53" width="36.0" height="10.09" fill="#e83715"/>
<rect x="1728.5" y="190.12" width="36.0" height="10.09" fill="#e84614"/>
<rect x="1728.5" y="198.72" width="36.0" height="10.09" fill="#e95314"/>
<rect x="1728.5" y="207.31" width="36.0" height="10.09" fill="#eb6016"/>
<rect x="1728.5" y="215.91" width="36.0" height="10.09" fill="#ee6e18"/>
<rect x="1728.5" y="224.50" width="36.0" height="10.09" fill="#ef7a19"/>
<rect x="1728.5" y="233.09" width="36.0" height="10.09" fill="#f1861a"/>
<rect x="1728.5" y="241.69" width="36.0" height="10.09" fill="#f2941a"/>
<rect x="1728.5" y="250.28" width="36.0" height="10.09" fill="#f4a21b"/>
<rect x="1728.5" y="258.88" width="36.0" height="10.09" fill="#f5b21d"/>
<rect x="1728.5" y="267.47" width="36.0" height="10.09" fill="#f6c31f"/>
<rect x="1728.5" y="276.06" width="36.0" height="10.09" fill="#f5d61f"/>
<rect x="1728.5" y="284.66" width="36.0" height="10.09" fill="#f4e626"/>
<rect x="1728.5" y="293.25" width="36.0" height="10.09" fill="#eee935"/>
<rect x="1728.5" y="301.84" width="36.0" height="10.09" fill="#dde23d"/>
<rect x="1728.5" y="310.44" width="36.0" height="10.09" fill="#cedb3f"/>
<rect x="1728.5" y="319.03" width="36.0" height="10.09" fill="#c4d740"/>
<rect x="1728.5" y="327.62" width="36.0" height="10.09" fill="#b9d447"/>
<rect x="1728.5" y="336.22" width="36.0" height="10.09" fill="#aed254"/>
<rect x="1728.5" y="344.81" width="36.0" height="10.09" fill="#a3cf5f"/>
<rect x="1728.5" y="353.41" width="36.0" height="10.09" fill="#99cc68"/>
<rect x="1728.5" y="362.00" width="36.0" height="10.09" fill="#90ca72"/>
<rect x="1728.5" y="370.59" width="36.0" height="10.09" fill="#87c87e"/>
<rect x="1728.5" y="379.19" width="36.0" height="10.09" fill="#80c68c"/>
<rect x="1728.5" y="387.78" width="36.0" height="10.09" fill="#78c59b"/>
<rect x="1728.5" y="396.38" width="36.0" height="10.09" fill="#73c4aa"/>
<rect x="1728.5" y="404.97" width="36.0" height="10.09" fill="#70c4b8"/>
<rect x="1728.5" y="413.56" width="36.0" height="10.09" fill="#6ec4c5"/>
<rect x="1728.5" y="422.16" width="36.0" height="10.09" fill="#6dc5d0"/>
<rect x="1728.5" y="430.75" width="36.0" height="10.09" fill="#67c4da"/>
<rect x="1728.5" y="439.34" width="36.0" height="10.09" fill="#59c0e0"/>
<rect x="1728.5" y="447.94" width="36.0" height="10.09" fill="#48bbe6"/>
<rect x="1728.5" y="456.53" width="36.0" height="10.09" fill="#31b5eb"/>
<rect x="1728.5" y="465.12" width="36.0" height="10.09" fill="#2ba8e4"/>
<rect x="1728.5" y="473.72" width="36.0" height="10.09" fill="#2c99d9"/>
<rect x="1728.5" y="482.31" width="36.0" height="10.09" fill="#2f8dcf"/>
<rect x="1728.5" y="490.91" width="36.0" height="10.09" fill="#3081c5"/>
<rect x="1728.5" y="499.50" width="36.0" height="10.09" fill="#2e76be"/>
<rect x="1728.5" y="508.09" width="36.0" height="10.09" fill="#2b6bb7"/>
<rect x="1728.5" y="516.69" width="36.0" height="10.09" fill="#2761af"/>
<rect x="1728.5" y="525.28" width="36.0" height="10.09" fill="#2358a9"/>
<rect x="1728.5" y="533.88" width="36.0" height="10.09" fill="#2253a6"/>
<rect x="1728.5" y="542.47" width="36.0" height="10.09" fill="#214fa3"/>
<rect x="1728.5" y="551.06" width="36.0" height="10.09" fill="#1f4ca2"/>
<rect x="1728.5" y="559.66" width="36.0" height="10.09" fill="#1e49a0"/>
<rect x="1728.5" y="568.25" width="36.0" height="10.09" fill="#1c479f"/>
<rect x="1728.5" y="576.84" width="36.0" height="10.09" fill="#19439d"/>
<rect x="1728.5" y="585.44" width="36.0" height="10.09" fill="#153e9a"/>
<rect x="1728.5" y="594.03" width="36.0" height="10.09" fill="#123a98"/>
<rect x="1728.5" y="602.62" width="36.0" height="10.09" fill="#103592"/>
<rect x="1728.5" y="611.22" width="36.0" height="10.09" fill="#0d2f8c"/>
<rect x="1728.5" y="619.81" width="36.0" height="10.09" fill="#152a7d"/>
<rect x="1728.5" y="628.41" width="36.0" height="8.59" fill="#1a2a6e"/>
<rect x="1728.5" y="87.0" width="36.0" height="550.0" fill="none" stroke="#5c5c5c" stroke-width="1"/>
<line x1="1758.5" y1="99.4" x2="1764.5" y2="99.4" stroke="#5c5c5c" stroke-width="1"/>
<text x="1773.5" y="114.7" font-size="43" text-anchor="start" fill="#484848">3</text>
<line x1="1758.5" y1="186.9" x2="1764.5" y2="186.9" stroke="#5c5c5c" stroke-width="1"/>
<text x="1773.5" y="202.2" font-size="43" text-anchor="start" fill="#484848">2</text>
<line x1="1758.5" y1="274.5" x2="1764.5" y2="274.5" stroke="#5c5c5c" stroke-width="1"/>
<text x="1773.5" y="289.8" font-size="43" text-anchor="start" fill="#484848">1</text>
<line x1="1758.5" y1="362.0" x2="1764.5" y2="362.0" stroke="#5c5c5c" stroke-width="1"/>
<text x="1773.5" y="377.3" font-size="43" text-anchor="start" fill="#484848">0</text>
<line x1="1758.5" y1="449.5" x2="1764.5" y2="449.5" stroke="#5c5c5c" stroke-width="1"/>
<text x="1773.5" y="464.8" font-size="43" text-anchor="start" fill="#484848">-1</text>
<line x1="1758.5" y1="537.1" x2="1764.5" y2="537.1" stroke="#5c5c5c" stroke-width="1"/>
<text x="1773.5" y="552.4" font-size="43" text-anchor="start" fill="#484848">-2</text>
<line x1="1758.5" y1="624.6" x2="1764.5" y2="624.6" stroke="#5c5c5c" stroke-width="1"/>
<text x="1773.5" y="639.9" font-size="43" text-anchor="start" fill="#484848">-3</text>
<text x="1726.0" y="70.0" font-size="35" text-anchor="start" fill="#262626" textLength="126.0" lengthAdjust="spacingAndGlyphs">[radians]</text>
<text x="438.5" y="71.3" font-size="47" text-anchor="start" fill="#000" textLength="1165.0" lengthAdjust="spacingAndGlyphs" word-spacing="4">S1B Interferogram, 2017-11-10 &amp; 2017-11-22, subswath 2</text>
<line x1="545.6" y1="634.8" x2="545.6" y2="621.8" stroke="#5c5c5c" stroke-opacity="0.6" stroke-width="1"/>
<line x1="545.6" y1="87.0" x2="545.6" y2="100.0" stroke="#5c5c5c" stroke-opacity="0.6" stroke-width="1"/>
<text x="553.2" y="671.0" font-size="36.5" text-anchor="middle" fill="#484848" textLength="68.0" lengthAdjust="spacingAndGlyphs">1000</text>
<line x1="773.9" y1="634.8" x2="773.9" y2="621.8" stroke="#5c5c5c" stroke-opacity="0.6" stroke-width="1"/>
<line x1="773.9" y1="87.0" x2="773.9" y2="100.0" stroke="#5c5c5c" stroke-opacity="0.6" stroke-width="1"/>
<text x="780.0" y="671.0" font-size="36.5" text-anchor="middle" fill="#484848" textLength="68.0" lengthAdjust="spacingAndGlyphs">2000</text>
<line x1="1002.2" y1="634.8" x2="1002.2" y2="621.8" stroke="#5c5c5c" stroke-opacity="0.6" stroke-width="1"/>
<line x1="1002.2" y1="87.0" x2="1002.2" y2="100.0" stroke="#5c5c5c" stroke-opacity="0.6" stroke-width="1"/>
<text x="1006.8" y="671.0" font-size="36.5" text-anchor="middle" fill="#484848" textLength="68.0" lengthAdjust="spacingAndGlyphs">3000</text>
<line x1="1230.4" y1="634.8" x2="1230.4" y2="621.8" stroke="#5c5c5c" stroke-opacity="0.6" stroke-width="1"/>
<line x1="1230.4" y1="87.0" x2="1230.4" y2="100.0" stroke="#5c5c5c" stroke-opacity="0.6" stroke-width="1"/>
<text x="1233.6" y="671.0" font-size="36.5" text-anchor="middle" fill="#484848" textLength="68.0" lengthAdjust="spacingAndGlyphs">4000</text>
<line x1="1458.7" y1="634.8" x2="1458.7" y2="621.8" stroke="#5c5c5c" stroke-opacity="0.6" stroke-width="1"/>
<line x1="1458.7" y1="87.0" x2="1458.7" y2="100.0" stroke="#5c5c5c" stroke-opacity="0.6" stroke-width="1"/>
<text x="1460.4" y="671.0" font-size="36.5" text-anchor="middle" fill="#484848" textLength="68.0" lengthAdjust="spacingAndGlyphs">5000</text>
<line x1="1687.0" y1="634.8" x2="1687.0" y2="621.8" stroke="#5c5c5c" stroke-opacity="0.6" stroke-width="1"/>
<line x1="1687.0" y1="87.0" x2="1687.0" y2="100.0" stroke="#5c5c5c" stroke-opacity="0.6" stroke-width="1"/>
<text x="1687.2" y="671.0" font-size="36.5" text-anchor="middle" fill="#484848" textLength="68.0" lengthAdjust="spacingAndGlyphs">6000</text>
<text x="1022.0" y="725.0" font-size="41" text-anchor="middle" fill="#000" textLength="155.0" lengthAdjust="spacingAndGlyphs">Azimuth</text>
<line x1="317.3" y1="201.1" x2="330.3" y2="201.1" stroke="#5c5c5c" stroke-opacity="0.6" stroke-width="1"/>
<line x1="1687.0" y1="201.1" x2="1674.0" y2="201.1" stroke="#5c5c5c" stroke-opacity="0.6" stroke-width="1"/>
<text x="309.5" y="217.0" font-size="40" text-anchor="end" fill="#484848" textLength="57.0" lengthAdjust="spacingAndGlyphs">500</text>
<line x1="317.3" y1="315.2" x2="330.3" y2="315.2" stroke="#5c5c5c" stroke-opacity="0.6" stroke-width="1"/>
<line x1="1687.0" y1="315.2" x2="1674.0" y2="315.2" stroke="#5c5c5c" stroke-opacity="0.6" stroke-width="1"/>
<text x="309.5" y="331.1" font-size="40" text-anchor="end" fill="#484848" textLength="76.0" lengthAdjust="spacingAndGlyphs">1000</text>
<line x1="317.3" y1="429.4" x2="330.3" y2="429.4" stroke="#5c5c5c" stroke-opacity="0.6" stroke-width="1"/>
<line x1="1687.0" y1="429.4" x2="1674.0" y2="429.4" stroke="#5c5c5c" stroke-opacity="0.6" stroke-width="1"/>
<text x="309.5" y="445.2" font-size="40" text-anchor="end" fill="#484848" textLength="76.0" lengthAdjust="spacingAndGlyphs">1500</text>
<line x1="317.3" y1="543.5" x2="330.3" y2="543.5" stroke="#5c5c5c" stroke-opacity="0.6" stroke-width="1"/>
<line x1="1687.0" y1="543.5" x2="1674.0" y2="543.5" stroke="#5c5c5c" stroke-opacity="0.6" stroke-width="1"/>
<text x="309.5" y="559.3" font-size="40" text-anchor="end" fill="#484848" textLength="76.0" lengthAdjust="spacingAndGlyphs">2000</text>
<text x="202.8" y="330.0" font-size="44" text-anchor="middle" fill="#000" textLength="414.0" lengthAdjust="spacingAndGlyphs" transform="rotate(-90 202.8 330.0)" word-spacing="4">Range [Multilook by 5]</text>
<line x1="176.0" y1="911.0" x2="502.0" y2="911.0" stroke="#ebebeb" stroke-width="1"/>
<line x1="176.0" y1="980.0" x2="502.0" y2="980.0" stroke="#ebebeb" stroke-width="1"/>
<line x1="176.0" y1="1049.0" x2="502.0" y2="1049.0" stroke="#ebebeb" stroke-width="1"/>
<line x1="176.0" y1="1118.0" x2="502.0" y2="1118.0" stroke="#ebebeb" stroke-width="1"/>
<line x1="176.0" y1="1187.0" x2="502.0" y2="1187.0" stroke="#ebebeb" stroke-width="1"/>
<line x1="176.0" y1="1256.0" x2="502.0" y2="1256.0" stroke="#ebebeb" stroke-width="1"/>
<line x1="339.0" y1="842.0" x2="339.0" y2="1275.5" stroke="#ebebeb" stroke-width="1"/>
<polyline points="176.0,883.8 176.4,894.3 176.7,895.3 177.1,905.9 177.5,889.0 177.8,890.1 178.2,887.8 178.5,884.8 178.9,883.9 179.3,893.6 179.6,894.8 180.0,893.9 180.4,888.7 180.7,889.1 181.1,901.5 181.4,900.6 181.8,889.0 182.2,883.0 182.5,892.4 182.9,895.8 183.3,887.0 183.6,892.6 184.0,887.6 184.3,885.1 184.7,890.5 185.1,894.5 185.4,889.7 185.8,897.3 186.2,895.2 186.5,895.5 186.9,893.1 187.2,894.5 187.6,893.0 188.0,894.4 188.3,891.3 188.7,890.4 189.1,888.9 189.4,881.4 189.8,897.2 190.1,883.2 190.5,890.9 190.9,896.1 191.2,890.0 191.6,891.8 192.0,887.7 192.3,900.2 192.7,893.0 193.0,895.0 193.4,903.9 193.8,901.8 194.1,890.8 194.5,890.1 194.9,887.8 195.2,891.6 195.6,888.8 195.9,893.2 196.3,888.4 196.7,900.6 197.0,894.4 197.4,892.2 197.8,905.9 198.1,891.0 198.5,902.4 198.8,897.0 199.2,884.6 199.6,903.4 199.9,900.1 200.3,887.4 200.7,900.0 201.0,896.9 201.4,893.8 201.7,891.5 202.1,892.2 202.5,893.6 202.8,895.1 203.2,908.5 203.6,898.8 203.9,898.2 204.3,898.9 204.6,904.9 205.0,890.8 205.4,902.9 205.7,888.3 206.1,881.5 206.5,895.7 206.8,897.7 207.2,893.7 207.5,884.8 207.9,907.8 208.3,891.1 208.6,895.3 209.0,897.1 209.4,885.8 209.7,898.8 210.1,896.1 210.4,893.3 210.8,887.3 211.2,901.8 211.5,914.9 211.9,893.4 212.3,891.3 212.6,894.7 213.0,906.5 213.4,905.1 213.7,895.5 214.1,895.7 214.4,896.5 214.8,887.8 215.2,884.9 215.5,896.5 215.9,885.5 216.3,904.6 216.6,906.5 217.0,890.1 217.3,896.1 217.7,891.5 218.1,892.0 218.4,893.9 218.8,890.3 219.2,892.4 219.5,903.1 219.9,893.6 220.2,895.3 220.6,885.6 221.0,901.4 221.3,894.7 221.7,898.9 222.1,896.4 222.4,885.7 222.8,893.1 223.1,895.8 223.5,892.9 223.9,890.9 224.2,902.7 224.6,894.3 225.0,885.0 225.3,888.3 225.7,894.5 226.0,895.8 226.4,893.2 226.8,901.2 227.1,886.9 227.5,889.4 227.9,890.6 228.2,898.0 228.6,897.1 228.9,891.3 229.3,893.4 229.7,896.3 230.0,892.1 230.4,889.8 230.8,901.0 231.1,901.1 231.5,901.6 231.8,903.0 232.2,894.9 232.6,896.8 232.9,896.9 233.3,905.0 233.7,904.0 234.0,898.4 234.4,901.4 234.7,897.2 235.1,899.9 235.5,894.0 235.8,886.9 236.2,886.9 236.6,887.2 236.9,896.0 237.3,889.6 237.6,897.1 238.0,887.0 238.4,893.9 238.7,895.4 239.1,897.8 239.5,890.9 239.8,894.5 240.2,903.0 240.5,904.0 240.9,897.1 241.3,906.2 241.6,888.3 242.0,896.4 242.4,894.3 242.7,894.2 243.1,901.9 243.4,901.7 243.8,893.5 244.2,884.7 244.5,897.5 244.9,894.9 245.3,892.0 245.6,905.2 246.0,904.7 246.3,899.2 246.7,899.6 247.1,903.2 247.4,892.7 247.8,901.7 248.2,895.4 248.5,887.9 248.9,886.1 249.3,902.1 249.6,894.7 250.0,888.9 250.3,904.4 250.7,902.3 251.1,905.9 251.4,905.6 251.8,904.1 252.2,897.5 252.5,889.5 252.9,888.1 253.2,898.6 253.6,908.7 254.0,899.6 254.3,903.4 254.7,900.2 255.1,901.7 255.4,911.1 255.8,909.0 256.1,911.4 256.5,910.9 256.9,896.1 257.2,894.2 257.6,897.1 258.0,911.1 258.3,897.1 258.7,894.1 259.0,900.2 259.4,894.9 259.8,906.8 260.1,898.5 260.5,899.7 260.9,907.9 261.2,908.5 261.6,903.7 261.9,906.8 262.3,895.4 262.7,899.0 263.0,892.2 263.4,891.1 263.8,892.4 264.1,894.6 264.5,899.2 264.8,899.3 265.2,896.7 265.6,891.2 265.9,901.3 266.3,898.4 266.7,897.4 267.0,902.2 267.4,900.0 267.7,892.1 268.1,890.2 268.5,902.6 268.8,898.1 269.2,899.5 269.6,899.4 269.9,888.0 270.3,892.6 270.6,889.3 271.0,886.7 271.4,900.4 271.7,902.8 272.1,900.1 272.5,895.9 272.8,902.0 273.2,899.1 273.5,898.7 273.9,899.7 274.3,901.1 274.6,906.2 275.0,913.1 275.4,899.0 275.7,901.2 276.1,911.4 276.4,901.8 276.8,904.4 277.2,912.0 277.5,899.3 277.9,904.4 278.3,903.6 278.6,899.2 279.0,901.9 279.3,895.2 279.7,896.6 280.1,899.7 280.4,898.8 280.8,889.6 281.2,900.9 281.5,892.2 281.9,906.2 282.2,896.1 282.6,897.8 283.0,902.5 283.3,911.4 283.7,887.5 284.1,902.9 284.4,903.9 284.8,897.2 285.2,899.2 285.5,898.3 285.9,899.3 286.2,904.8 286.6,891.8 287.0,900.2 287.3,898.2 287.7,894.5 288.1,892.8 288.4,900.2 288.8,902.3 289.1,901.4 289.5,910.0 289.9,900.9 290.2,903.4 290.6,904.1 291.0,915.9 291.3,904.3 291.7,900.0 292.0,893.4 292.4,912.2 292.8,902.2 293.1,913.7 293.5,895.0 293.9,895.0 294.2,891.7 294.6,900.6 294.9,904.0 295.3,905.0 295.7,918.8 296.0,913.8 296.4,914.4 296.8,913.0 297.1,911.8 297.5,897.4 297.8,904.5 298.2,895.8 298.6,901.9 298.9,890.1 299.3,904.0 299.7,893.2 300.0,903.7 300.4,894.1 300.7,888.8 301.1,906.1 301.5,898.9 301.8,891.2 302.2,895.9 302.6,900.0 302.9,887.9 303.3,894.5 303.6,889.4 304.0,898.9 304.4,908.7 304.7,904.5 305.1,894.4 305.5,908.9 305.8,906.5 306.2,901.5 306.5,899.0 306.9,905.7 307.3,913.9 307.6,895.3 308.0,908.4 308.4,905.6 308.7,904.0 309.1,903.0 309.4,906.3 309.8,900.5 310.2,891.2 310.5,906.5 310.9,911.6 311.3,895.8 311.6,897.3 312.0,895.0 312.3,897.3 312.7,902.4 313.1,898.0 313.4,897.1 313.8,908.9 314.2,894.5 314.5,904.0 314.9,907.3 315.2,901.9 315.6,909.2 316.0,892.4 316.3,901.3 316.7,901.2 317.1,904.2 317.4,892.4 317.8,900.3 318.1,900.1 318.5,895.9 318.9,899.6 319.2,897.6 319.6,896.4 320.0,905.9 320.3,899.5 320.7,903.3 321.1,899.8 321.4,905.6 321.8,906.5 322.1,909.2 322.5,905.3 322.9,910.3 323.2,900.3 323.6,902.5 324.0,896.3 324.3,901.6 324.7,904.1 325.0,908.9 325.4,898.4 325.8,905.6 326.1,905.0 326.5,914.4 326.9,904.0 327.2,929.1 327.6,890.3 327.9,896.4 328.3,892.8 328.7,902.2 329.0,899.3 329.4,892.2 329.8,898.3 330.1,895.1 330.5,889.1 330.8,895.4 331.2,908.1 331.6,903.4 331.9,904.2 332.3,901.7 332.7,910.7 333.0,911.9 333.4,903.5 333.7,904.2 334.1,898.8 334.5,902.6 334.8,893.6 335.2,908.2 335.6,903.4 335.9,895.7 336.3,897.6 336.6,903.2 337.0,895.4 337.4,894.8 337.7,897.2 338.1,912.0 338.5,908.8 338.8,907.8 339.2,907.5 339.5,901.3 339.9,907.8 340.3,900.4 340.6,913.9 341.0,895.5 341.4,892.7 341.7,902.3 342.1,897.5 342.4,911.4 342.8,904.9 343.2,909.4 343.5,899.4 343.9,896.5 344.3,904.1 344.6,900.4 345.0,900.8 345.3,886.7 345.7,904.9 346.1,902.2 346.4,901.6 346.8,900.1 347.2,906.1 347.5,911.2 347.9,905.3 348.2,892.2 348.6,898.7 349.0,901.9 349.3,905.3 349.7,906.4 350.1,897.8 350.4,898.8 350.8,897.7 351.1,902.8 351.5,896.5 351.9,899.4 352.2,894.2 352.6,902.7 353.0,904.2 353.3,902.2 353.7,901.0 354.0,902.8 354.4,894.0 354.8,900.5 355.1,905.2 355.5,905.7 355.9,896.4 356.2,913.0 356.6,910.3 356.9,906.9 357.3,896.7 357.7,897.7 358.0,900.0 358.4,910.4 358.8,908.3 359.1,906.2 359.5,908.3 359.9,913.1 360.2,919.2 360.6,884.1 360.9,903.7 361.3,895.0 361.7,910.6 362.0,893.7 362.4,914.6 362.8,884.9 363.1,913.4 363.5,890.2 363.8,910.8 364.2,896.5 364.6,917.1 364.9,909.6 365.3,896.6 365.7,891.2 366.0,896.5 366.4,888.3 366.7,887.9 367.1,902.5 367.5,900.6 367.8,899.5 368.2,896.4 368.6,904.4 368.9,907.0 369.3,907.3 369.6,918.7 370.0,921.9 370.4,915.4 370.7,916.3 371.1,915.8 371.5,890.4 371.6,937.3 371.9,920.5 372.3,921.4 372.6,885.3 372.9,924.1 373.2,920.4 373.6,932.4 373.9,891.5 374.2,934.4 374.5,938.9 374.9,872.5 375.2,927.0 375.5,860.7 375.8,984.0 376.2,851.5 376.5,942.7 376.8,860.7 377.1,970.5 377.5,1026.6 377.8,842.0 378.1,1187.8 378.4,1126.8 378.8,842.0 379.1,842.0 379.4,1124.4 379.8,1086.3 380.1,842.0 380.4,1275.5 380.7,1059.1 381.1,842.0 381.4,842.0 381.7,1275.5 382.0,842.0 382.4,842.0 382.7,1275.5 383.0,842.0 383.3,1245.6 383.7,1254.6 384.0,842.0 384.3,842.0 384.6,1028.6 385.0,842.0 385.3,842.0 385.6,842.0 385.9,842.0 386.3,842.0 386.6,842.0 386.9,897.1 387.2,842.0 387.6,1234.7 387.9,842.0 388.2,842.0 388.6,1037.3 388.9,842.0 389.2,842.0 389.5,842.0 389.9,1275.5 390.2,1230.3 390.5,842.0 390.8,1195.7 391.2,1275.5 391.5,842.0 391.8,1099.8 392.1,842.0 392.5,1006.1 392.8,1060.7 393.1,965.4 393.4,842.0 393.8,842.0 394.1,971.4 394.4,866.1 394.7,880.9 395.1,960.0 395.4,887.1 395.7,892.0 396.1,897.1 396.4,894.8 396.7,887.7 397.0,927.0 397.4,928.4 397.9,901.5 398.3,909.3 398.7,913.6 399.0,904.8 399.4,899.3 399.7,901.2 400.1,909.5 400.5,899.1 400.8,899.3 401.2,897.7 401.6,893.0 401.9,903.9 402.3,898.0 402.6,903.5 403.0,899.2 403.4,899.5 403.7,903.4 404.1,902.5 404.5,909.1 404.8,904.4 405.2,911.0 405.5,891.7 405.9,895.8 406.3,911.9 406.6,916.6 407.0,896.9 407.4,907.7 407.7,902.4 408.1,912.3 408.4,905.8 408.8,911.4 409.2,905.9 409.5,911.1 409.9,900.4 410.3,911.8 410.6,901.0 411.0,906.8 411.3,902.7 411.7,912.0 412.1,912.3 412.4,898.1 412.8,911.5 413.2,909.0 413.5,909.3 413.9,912.0 414.2,908.9 414.6,916.9 415.0,914.6 415.3,901.2 415.7,910.4 416.1,905.4 416.4,904.1 416.8,898.8 417.1,906.2 417.5,917.4 417.9,911.5 418.2,908.1 418.6,894.2 419.0,899.4 419.3,904.7 419.7,900.3 420.0,905.5 420.4,901.5 420.8,903.1 421.1,898.5 421.5,903.6 421.9,898.3 422.2,902.8 422.6,898.6 422.9,901.6 423.3,899.0 423.7,902.8 424.0,904.5 424.4,907.8 424.8,907.4 425.1,906.4 425.5,923.0 425.8,902.0 426.2,924.5 426.6,912.4 426.9,912.4 427.3,906.9 427.7,906.6 428.0,906.4 428.4,907.2 428.7,900.0 429.1,891.5 429.5,904.3 429.8,916.8 430.2,909.7 430.6,905.5 430.9,886.3 431.3,909.9 431.7,909.2 432.0,903.6 432.4,905.0 432.7,913.0 433.1,903.9 433.5,917.2 433.8,908.8 434.2,902.8 434.6,917.7 434.9,912.1 435.3,901.6 435.6,907.9 436.0,914.4 436.4,912.2 436.7,902.8 437.1,913.8 437.5,909.7 437.8,914.9 438.2,916.8 438.5,903.4 438.9,910.9 439.3,912.0 439.6,908.0 440.0,913.7 440.4,917.0 440.7,901.6 441.1,901.9 441.4,913.4 441.8,906.3 442.2,900.0 442.5,905.5 442.9,923.6 443.3,914.5 443.6,909.8 444.0,921.1 444.3,902.4 444.7,911.2 445.1,901.8 445.4,911.5 445.8,903.0 446.2,914.0 446.5,905.4 446.9,908.9 447.2,906.1 447.6,904.9 448.0,916.8 448.3,898.7 448.7,905.8 449.1,903.2 449.4,904.5 449.8,911.2 450.1,907.1 450.5,893.3 450.9,914.0 451.2,904.6 451.6,915.7 452.0,897.0 452.3,905.3 452.7,913.1 453.0,910.8 453.4,932.3 453.8,920.8 454.1,922.9 454.5,913.1 454.9,914.7 455.2,908.9 455.6,913.0 455.9,906.4 456.3,899.4 456.7,916.4 457.0,914.8 457.4,905.5 457.8,894.3 458.1,912.4 458.5,917.2 458.8,905.6 459.2,915.7 459.6,900.2 459.9,907.2 460.3,905.0 460.7,905.7 461.0,911.9 461.4,913.6 461.7,902.3 462.1,900.9 462.5,909.7 462.8,896.4 463.2,905.2 463.6,909.7 463.9,911.0 464.3,911.4 464.6,910.4 465.0,909.7 465.4,912.4 465.7,918.8 466.1,908.7 466.5,908.2 466.8,910.2 467.2,898.9 467.6,913.7 467.9,897.5 468.3,906.2 468.6,907.1 469.0,908.0 469.4,888.9 469.7,892.7 470.1,901.7 470.5,894.1 470.8,892.2 471.2,907.4 471.5,903.0 471.9,897.7 472.3,903.3 472.6,908.0 473.0,898.0 473.4,901.8 473.7,901.4 474.1,893.5 474.4,905.8 474.8,891.2 475.2,904.2 475.5,908.7 475.9,910.7 476.3,908.7 476.6,911.0 477.0,914.5 477.3,927.1 477.7,925.2 478.1,923.8 478.4,913.9 478.8,907.9 479.2,930.4 479.5,914.5 479.9,919.1 480.2,914.5 480.6,913.3 481.0,918.8 481.3,921.8 481.7,906.1 482.1,909.3 482.4,912.0 482.8,914.6 483.1,915.2 483.5,919.6 483.9,907.1 484.2,913.8 484.6,916.9 485.0,915.4 485.3,901.8 485.7,909.6 486.0,910.2 486.4,910.6 486.8,907.3 487.1,906.8 487.5,916.9 487.9,908.8 488.2,921.2 488.6,902.7 488.9,905.9 489.3,916.8 489.7,909.1 490.0,907.0 490.4,923.0 490.8,902.3 491.1,911.1 491.5,907.9 491.8,910.6 492.2,907.6 492.6,910.3 492.9,918.2 493.3,916.5 493.7,913.3 494.0,914.2 494.4,911.0 494.7,913.3 495.1,925.7 495.5,907.3 495.8,914.7 496.2,917.6 496.6,912.1 496.9,915.9 497.3,908.2 497.6,915.9 498.0,900.4 498.4,910.6 498.7,917.9 499.1,911.0 499.5,922.7 499.8,917.3 500.2,917.0 500.5,915.2 500.9,928.2 501.3,914.1 501.6,906.4 502.0,915.5" fill="none" stroke="#1467b3" stroke-width="1" stroke-linejoin="round"/>
<line x1="176.0" y1="893.1" x2="502.0" y2="911.0" stroke="#e8452c" stroke-width="1"/>
<rect x="176.0" y="842.0" width="326.0" height="433.5" fill="none" stroke="#5c5c5c" stroke-width="1"/>
<line x1="176.0" y1="911.0" x2="180.0" y2="911.0" stroke="#5c5c5c" stroke-width="1"/>
<line x1="502.0" y1="911.0" x2="498.0" y2="911.0" stroke="#5c5c5c" stroke-width="1"/>
<line x1="176.0" y1="980.0" x2="180.0" y2="980.0" stroke="#5c5c5c" stroke-width="1"/>
<line x1="502.0" y1="980.0" x2="498.0" y2="980.0" stroke="#5c5c5c" stroke-width="1"/>
<line x1="176.0" y1="1049.0" x2="180.0" y2="1049.0" stroke="#5c5c5c" stroke-width="1"/>
<line x1="502.0" y1="1049.0" x2="498.0" y2="1049.0" stroke="#5c5c5c" stroke-width="1"/>
<line x1="176.0" y1="1118.0" x2="180.0" y2="1118.0" stroke="#5c5c5c" stroke-width="1"/>
<line x1="502.0" y1="1118.0" x2="498.0" y2="1118.0" stroke="#5c5c5c" stroke-width="1"/>
<line x1="176.0" y1="1187.0" x2="180.0" y2="1187.0" stroke="#5c5c5c" stroke-width="1"/>
<line x1="502.0" y1="1187.0" x2="498.0" y2="1187.0" stroke="#5c5c5c" stroke-width="1"/>
<line x1="176.0" y1="1256.0" x2="180.0" y2="1256.0" stroke="#5c5c5c" stroke-width="1"/>
<line x1="502.0" y1="1256.0" x2="498.0" y2="1256.0" stroke="#5c5c5c" stroke-width="1"/>
<line x1="339.0" y1="1275.5" x2="339.0" y2="1271.5" stroke="#5c5c5c" stroke-width="1"/>
<line x1="339.0" y1="842.0" x2="339.0" y2="846.0" stroke="#5c5c5c" stroke-width="1"/>
<text x="177.6" y="1311.1" font-size="32" text-anchor="middle" fill="#484848">0</text>
<text x="340.0" y="1311.1" font-size="32" text-anchor="middle" fill="#484848" textLength="61.0" lengthAdjust="spacingAndGlyphs">5000</text>
<text x="502.4" y="1311.1" font-size="32" text-anchor="middle" fill="#484848" textLength="76.0" lengthAdjust="spacingAndGlyphs">10000</text>
<line x1="619.7" y1="911.0" x2="946.5" y2="911.0" stroke="#ebebeb" stroke-width="1"/>
<line x1="619.7" y1="980.0" x2="946.5" y2="980.0" stroke="#ebebeb" stroke-width="1"/>
<line x1="619.7" y1="1049.0" x2="946.5" y2="1049.0" stroke="#ebebeb" stroke-width="1"/>
<line x1="619.7" y1="1118.0" x2="946.5" y2="1118.0" stroke="#ebebeb" stroke-width="1"/>
<line x1="619.7" y1="1187.0" x2="946.5" y2="1187.0" stroke="#ebebeb" stroke-width="1"/>
<line x1="619.7" y1="1256.0" x2="946.5" y2="1256.0" stroke="#ebebeb" stroke-width="1"/>
<line x1="783.1" y1="842.0" x2="783.1" y2="1275.5" stroke="#ebebeb" stroke-width="1"/>
<polyline points="619.7,879.9 620.1,884.7 620.4,887.7 620.8,882.0 621.2,897.7 621.5,883.1 621.9,890.7 622.2,887.8 622.6,896.8 623.0,887.9 623.3,905.8 623.7,885.9 624.1,901.4 624.4,883.1 624.8,904.2 625.2,885.5 625.5,883.9 625.9,904.2 626.2,883.3 626.6,884.9 627.0,891.5 627.3,892.5 627.7,887.4 628.1,879.1 628.4,893.8 628.8,905.5 629.2,885.9 629.5,891.8 629.9,887.0 630.2,888.3 630.6,882.8 631.0,887.3 631.3,892.4 631.7,894.3 632.1,895.7 632.4,891.3 632.8,891.0 633.2,884.3 633.5,895.7 633.9,883.2 634.2,892.8 634.6,882.9 635.0,874.8 635.3,889.9 635.7,883.4 636.1,892.9 636.4,892.5 636.8,881.8 637.1,898.7 637.5,887.2 637.9,891.7 638.2,886.9 638.6,885.8 639.0,887.8 639.3,891.7 639.7,884.8 640.1,893.8 640.4,879.7 640.8,874.3 641.1,886.9 641.5,881.7 641.9,879.7 642.2,876.2 642.6,885.4 643.0,889.4 643.3,891.2 643.7,898.2 644.1,897.1 644.4,877.7 644.8,877.8 645.1,881.5 645.5,887.0 645.9,882.1 646.2,881.6 646.6,888.9 647.0,888.2 647.3,899.2 647.7,888.1 648.1,883.0 648.4,885.4 648.8,882.9 649.1,884.9 649.5,893.5 649.9,895.3 650.2,895.9 650.6,892.8 651.0,893.0 651.3,885.7 651.7,899.1 652.1,888.5 652.4,900.4 652.8,891.5 653.1,888.7 653.5,884.4 653.9,892.6 654.2,891.4 654.6,886.6 655.0,887.8 655.3,877.9 655.7,886.7 656.1,883.4 656.4,879.2 656.8,883.0 657.1,886.5 657.5,884.5 657.9,888.5 658.2,893.3 658.6,885.5 659.0,896.4 659.3,882.7 659.7,882.6 660.1,887.3 660.4,887.3 660.8,881.0 661.1,894.8 661.5,890.8 661.9,880.9 662.2,894.1 662.6,885.3 663.0,886.0 663.3,895.4 663.7,884.5 664.0,899.1 664.4,890.1 664.8,891.3 665.1,901.4 665.5,881.7 665.9,897.6 666.2,897.0 666.6,892.3 667.0,903.8 667.3,892.0 667.7,897.3 668.0,896.7 668.4,899.9 668.8,897.4 669.1,893.7 669.5,892.6 669.9,899.0 670.2,889.4 670.6,895.5 671.0,894.7 671.3,898.8 671.7,901.0 672.0,879.2 672.4,894.6 672.8,881.9 673.1,887.3 673.5,889.0 673.9,890.8 674.2,890.2 674.6,880.8 675.0,892.6 675.3,884.1 675.7,884.9 676.0,884.7 676.4,887.1 676.8,891.5 677.1,888.9 677.5,878.6 677.9,880.9 678.2,894.1 678.6,893.6 679.0,893.1 679.3,883.8 679.7,888.2 680.0,892.3 680.4,888.1 680.8,888.0 681.1,887.5 681.5,885.8 681.9,894.9 682.2,882.0 682.6,893.3 683.0,897.9 683.3,884.8 683.7,895.6 684.0,891.2 684.4,897.0 684.8,883.6 685.1,889.9 685.5,886.3 685.9,893.4 686.2,904.6 686.6,888.3 687.0,889.7 687.3,899.8 687.7,895.2 688.0,898.3 688.4,919.2 688.8,897.3 689.1,900.2 689.5,891.4 689.9,890.2 690.2,887.6 690.6,881.4 690.9,887.8 691.3,892.7 691.7,893.8 692.0,884.0 692.4,906.8 692.8,901.2 693.1,902.0 693.5,884.0 693.9,908.0 694.2,893.3 694.6,883.3 694.9,894.5 695.3,904.1 695.7,890.2 696.0,888.9 696.4,884.4 696.8,893.2 697.1,894.0 697.5,883.3 697.9,893.4 698.2,895.6 698.6,898.7 698.9,888.1 699.3,883.5 699.7,879.5 700.0,894.6 700.4,884.1 700.8,893.9 701.1,886.7 701.5,872.6 701.9,887.3 702.2,889.7 702.6,897.9 702.9,895.2 703.3,899.7 703.7,890.0 704.0,890.0 704.4,879.4 704.8,901.5 705.1,887.6 705.5,900.6 705.9,885.2 706.2,889.9 706.6,896.1 706.9,890.9 707.3,893.7 707.7,889.7 708.0,902.6 708.4,889.8 708.8,892.1 709.1,912.3 709.5,893.5 709.9,890.3 710.2,886.8 710.6,891.7 710.9,889.3 711.3,904.6 711.7,903.8 712.0,898.2 712.4,899.5 712.8,901.7 713.1,897.0 713.5,896.4 713.9,888.2 714.2,903.2 714.6,892.4 714.9,898.2 715.3,889.6 715.7,893.9 716.0,890.9 716.4,891.8 716.8,893.5 717.1,897.5 717.5,897.3 717.8,885.3 718.2,895.5 718.6,893.4 718.9,886.6 719.3,891.1 719.7,885.7 720.0,898.1 720.4,883.3 720.8,892.5 721.1,889.3 721.5,888.2 721.8,892.7 722.2,897.2 722.6,894.9 722.9,895.3 723.3,892.9 723.7,897.1 724.0,890.5 724.4,894.9 724.8,899.6 725.1,889.6 725.5,895.4 725.8,890.6 726.2,897.2 726.6,887.6 726.9,893.0 727.3,897.3 727.7,897.3 728.0,896.4 728.4,888.3 728.8,889.5 729.1,884.8 729.5,895.2 729.8,894.5 730.2,889.1 730.6,878.1 730.9,892.9 731.3,889.1 731.7,887.6 732.0,904.5 732.4,896.5 732.8,892.8 733.1,892.6 733.5,890.0 733.8,892.5 734.2,902.3 734.6,899.4 734.9,901.0 735.3,916.7 735.7,911.4 736.0,901.4 736.4,903.1 736.8,907.5 737.1,903.2 737.5,901.5 737.8,904.1 738.2,896.1 738.6,903.3 738.9,916.8 739.3,900.5 739.7,896.5 740.0,893.3 740.4,896.7 740.8,897.8 741.1,886.8 741.5,888.5 741.8,892.7 742.2,890.3 742.6,900.7 742.9,895.7 743.3,905.5 743.7,898.6 744.0,886.9 744.4,903.5 744.7,901.9 745.1,896.5 745.5,892.6 745.8,903.1 746.2,900.2 746.6,899.1 746.9,911.5 747.3,904.5 747.7,892.2 748.0,899.0 748.4,888.9 748.7,896.5 749.1,900.7 749.5,900.4 749.8,898.6 750.2,904.7 750.6,898.1 750.9,892.0 751.3,897.0 751.7,901.1 752.0,901.5 752.4,889.4 752.7,896.2 753.1,895.9 753.5,878.9 753.8,901.8 754.2,893.8 754.6,898.5 754.9,907.5 755.3,910.7 755.7,907.5 756.0,908.9 756.4,897.0 756.7,903.5 757.1,911.9 757.5,890.5 757.8,892.2 758.2,896.8 758.6,894.8 758.9,889.0 759.3,891.6 759.7,889.1 760.0,885.5 760.4,894.9 760.7,891.3 761.1,891.7 761.5,893.5 761.8,904.8 762.2,894.4 762.6,905.1 762.9,899.7 763.3,912.4 763.7,905.5 764.0,901.7 764.4,903.7 764.7,900.9 765.1,886.3 765.5,887.8 765.8,895.7 766.2,885.2 766.6,892.4 766.9,890.8 767.3,900.2 767.7,896.1 768.0,900.2 768.4,904.8 768.7,908.4 769.1,895.2 769.5,904.9 769.8,896.5 770.2,902.6 770.6,903.2 770.9,897.2 771.3,908.5 771.6,900.4 772.0,896.8 772.4,907.8 772.7,904.4 773.1,898.1 773.5,892.9 773.8,888.5 774.2,888.4 774.6,892.5 774.9,904.7 775.3,890.1 775.6,894.8 776.0,898.8 776.4,895.4 776.7,903.3 777.1,893.5 777.5,897.8 777.8,907.3 778.2,915.7 778.6,898.9 778.9,896.6 779.3,902.0 779.6,890.7 780.0,906.2 780.4,898.0 780.7,895.0 781.1,897.5 781.5,899.6 781.8,899.4 782.2,894.8 782.6,895.1 782.9,896.1 783.3,902.1 783.6,895.0 784.0,892.0 784.4,888.8 784.7,900.4 785.1,892.0 785.5,895.6 785.8,898.1 786.2,893.5 786.6,920.9 786.9,909.1 787.3,910.3 787.6,892.7 788.0,899.9 788.4,893.9 788.7,902.5 789.1,899.4 789.5,901.6 789.8,892.3 790.2,902.2 790.6,904.7 790.9,898.3 791.3,896.3 791.6,904.2 792.0,903.9 792.4,903.5 792.7,888.4 793.1,902.4 793.5,896.6 793.8,892.2 794.2,901.1 794.6,898.1 794.9,901.9 795.3,894.3 795.6,895.7 796.0,907.9 796.4,902.5 796.7,905.3 797.1,899.7 797.5,897.0 797.8,904.4 798.2,907.4 798.5,906.7 798.9,893.0 799.3,896.4 799.6,896.1 800.0,898.0 800.4,901.1 800.7,894.9 801.1,893.8 801.5,888.6 801.8,895.4 802.2,899.0 802.5,889.6 802.9,912.9 803.3,901.7 803.6,894.8 804.0,899.9 804.4,898.0 804.7,895.6 805.1,883.7 805.5,894.4 805.8,883.8 806.2,896.8 806.5,899.5 806.9,901.8 807.3,898.9 807.6,909.8 808.0,899.0 808.4,895.6 808.7,900.1 809.1,902.3 809.5,898.8 809.8,894.8 810.2,901.8 810.5,896.8 810.9,885.8 811.3,898.1 811.6,900.7 812.0,904.9 812.4,894.5 812.7,901.7 813.1,910.6 813.5,886.9 813.8,900.3 814.2,896.3 814.5,893.7 814.9,900.1 815.3,904.3 815.6,886.1 816.0,890.9 816.4,897.6 816.7,884.4 817.1,901.6 817.5,900.2 817.8,905.1 818.2,899.8 818.5,899.9 818.9,908.6 819.3,906.5 819.6,908.7 820.0,910.8 820.4,909.1 820.7,897.9 821.1,901.5 821.5,897.7 821.8,893.7 822.2,898.1 822.5,900.5 822.9,896.6 823.3,905.4 823.6,904.4 824.0,892.5 824.4,892.0 824.7,895.4 825.1,890.2 825.4,898.6 825.8,895.3 826.2,897.0 826.5,906.3 826.9,907.8 827.3,903.7 827.6,909.3 828.0,907.8 828.4,899.6 828.7,909.6 829.1,910.4 829.4,902.1 829.8,902.9 830.2,908.4 830.5,912.6 830.9,902.4 831.3,906.6 831.6,909.6 832.0,914.5 832.4,907.7 832.7,925.0 833.1,911.8 833.4,903.9 833.8,908.6 834.2,901.6 834.5,900.8 834.9,906.0 835.3,902.5 835.6,904.4 836.0,903.3 836.4,901.6 836.7,907.7 837.1,907.4 837.4,912.4 837.8,904.8 838.2,903.1 838.5,903.1 838.9,908.0 839.3,908.7 839.6,913.3 840.0,904.7 840.4,901.1 840.7,902.2 841.1,904.6 841.4,894.4 841.8,904.0 842.2,910.9 842.5,907.1 842.9,905.1 843.3,905.6 843.6,892.1 844.0,906.2 844.4,904.4 844.7,911.6 845.1,912.6 845.4,899.5 845.8,900.4 846.2,915.1 846.5,901.9 846.9,901.5 847.3,897.3 847.6,908.0 848.0,912.8 848.4,908.8 848.7,902.1 849.1,913.6 849.4,903.1 849.8,907.5 850.2,902.8 850.5,906.3 850.9,917.8 851.3,898.9 851.6,900.8 852.0,898.1 852.3,926.5 852.7,903.7 853.1,909.2 853.4,901.0 853.8,906.1 854.2,897.6 854.5,911.7 854.9,908.2 855.3,927.1 855.6,900.2 856.0,916.6 856.3,915.2 856.7,907.7 857.1,899.5 857.4,914.4 857.8,901.3 858.2,912.5 858.5,901.3 858.9,903.2 859.3,897.9 859.6,899.4 860.0,902.5 860.3,902.9 860.7,897.0 861.1,896.5 861.4,895.5 861.8,900.1 862.2,904.8 862.5,901.7 862.9,907.1 863.3,904.8 863.6,902.1 864.0,901.3 864.3,903.9 864.7,906.5 865.1,904.4 865.4,915.2 865.8,905.6 866.2,905.8 866.5,913.0 866.9,913.4 867.3,906.1 867.6,906.1 868.0,910.0 868.3,904.9 868.7,920.3 869.1,899.9 869.4,895.0 869.8,906.0 870.2,913.6 870.5,902.4 870.9,896.9 871.3,905.4 871.6,895.7 872.0,900.6 872.3,904.1 872.7,900.8 873.1,899.4 873.4,908.6 873.8,921.4 874.2,921.3 874.5,922.8 874.9,921.1 875.3,905.0 875.6,905.8 876.0,911.9 876.3,898.5 876.7,909.4 877.1,903.1 877.4,903.9 877.8,911.1 878.2,909.3 878.5,922.4 878.9,908.9 879.2,903.3 879.6,912.1 880.0,902.9 880.3,910.7 880.7,893.0 881.1,907.9 881.4,912.6 881.8,907.9 882.2,907.8 882.5,908.0 882.9,905.2 883.2,916.0 883.6,899.3 884.0,911.1 884.3,908.6 884.7,910.7 885.1,909.0 885.4,899.0 885.8,905.6 886.2,901.4 886.5,886.5 886.9,895.4 887.2,896.6 887.6,914.5 888.0,894.9 888.3,895.2 888.7,910.3 889.1,910.7 889.4,901.2 889.8,905.1 890.2,891.6 890.5,894.4 890.9,892.8 891.2,894.9 891.6,893.1 892.0,883.3 892.3,878.3 892.7,874.9 893.1,880.9 893.4,884.1 893.8,883.7 894.2,893.2 894.5,888.2 894.9,894.7 895.2,889.3 895.6,902.4 896.0,899.5 896.3,895.7 896.7,913.0 897.1,901.4 897.4,898.7 897.8,902.8 898.2,909.0 898.5,901.5 898.9,897.3 899.2,906.6 899.6,906.9 900.0,907.3 900.3,905.1 900.7,908.6 901.1,922.7 901.4,907.6 901.8,902.7 902.2,915.6 902.5,918.1 902.9,910.5 903.2,911.2 903.6,917.0 904.0,893.2 904.3,909.5 904.7,898.3 905.1,906.8 905.4,907.9 905.8,914.7 906.1,907.4 906.5,908.1 906.9,900.8 907.2,909.3 907.6,911.3 908.0,909.0 908.3,913.1 908.7,905.3 909.1,900.0 909.4,906.4 909.8,905.1 910.1,906.0 910.5,910.6 910.9,896.5 911.2,909.3 911.6,901.6 912.0,899.7 912.3,911.1 912.7,906.1 913.1,915.8 913.4,904.1 913.8,919.5 914.1,900.3 914.5,905.2 914.9,914.0 915.2,910.1 915.6,908.9 916.0,908.6 916.3,909.9 916.7,913.5 917.1,910.8 917.4,917.7 917.8,914.3 918.1,913.4 918.5,898.2 918.9,911.5 919.2,916.7 919.6,912.6 920.0,905.9 920.3,909.8 920.7,914.0 921.1,905.1 921.4,918.0 921.8,908.2 922.1,904.7 922.5,912.6 922.9,898.5 923.2,909.7 923.6,909.3 924.0,917.8 924.3,910.7 924.7,910.2 925.1,908.4 925.4,914.0 925.8,911.3 926.1,913.3 926.5,920.1 926.9,914.9 927.2,915.2 927.6,895.7 928.0,900.9 928.3,913.9 928.7,900.6 929.1,912.1 929.4,906.6 929.8,907.9 930.1,909.9 930.5,910.8 930.9,920.3 931.2,905.0 931.6,897.6 932.0,893.2 932.3,913.8 932.7,892.9 933.0,905.0 933.4,912.1 933.8,907.2 934.1,915.3 934.5,900.9 934.9,929.0 935.2,914.8 935.6,903.5 936.0,903.1 936.3,899.9 936.7,904.8 937.0,921.9 937.4,910.0 937.8,910.1 938.1,905.6 938.5,904.3 938.9,904.8 939.2,905.8 939.6,913.2 940.0,909.5 940.3,910.8 940.7,904.8 941.0,901.4 941.4,907.0 941.8,905.6 942.1,907.9 942.5,912.0 942.9,917.0 943.2,914.3 943.6,909.1 944.0,916.7 944.3,906.5 944.7,913.6 945.0,910.2 945.4,914.2 945.8,916.2 946.1,915.8 946.5,909.4" fill="none" stroke="#1467b3" stroke-width="1" stroke-linejoin="round"/>
<line x1="619.7" y1="886.2" x2="946.5" y2="911.0" stroke="#e8452c" stroke-width="1"/>
<rect x="619.7" y="842.0" width="326.8" height="433.5" fill="none" stroke="#5c5c5c" stroke-width="1"/>
<line x1="619.7" y1="911.0" x2="623.7" y2="911.0" stroke="#5c5c5c" stroke-width="1"/>
<line x1="946.5" y1="911.0" x2="942.5" y2="911.0" stroke="#5c5c5c" stroke-width="1"/>
<line x1="619.7" y1="980.0" x2="623.7" y2="980.0" stroke="#5c5c5c" stroke-width="1"/>
<line x1="946.5" y1="980.0" x2="942.5" y2="980.0" stroke="#5c5c5c" stroke-width="1"/>
<line x1="619.7" y1="1049.0" x2="623.7" y2="1049.0" stroke="#5c5c5c" stroke-width="1"/>
<line x1="946.5" y1="1049.0" x2="942.5" y2="1049.0" stroke="#5c5c5c" stroke-width="1"/>
<line x1="619.7" y1="1118.0" x2="623.7" y2="1118.0" stroke="#5c5c5c" stroke-width="1"/>
<line x1="946.5" y1="1118.0" x2="942.5" y2="1118.0" stroke="#5c5c5c" stroke-width="1"/>
<line x1="619.7" y1="1187.0" x2="623.7" y2="1187.0" stroke="#5c5c5c" stroke-width="1"/>
<line x1="946.5" y1="1187.0" x2="942.5" y2="1187.0" stroke="#5c5c5c" stroke-width="1"/>
<line x1="619.7" y1="1256.0" x2="623.7" y2="1256.0" stroke="#5c5c5c" stroke-width="1"/>
<line x1="946.5" y1="1256.0" x2="942.5" y2="1256.0" stroke="#5c5c5c" stroke-width="1"/>
<line x1="783.1" y1="1275.5" x2="783.1" y2="1271.5" stroke="#5c5c5c" stroke-width="1"/>
<line x1="783.1" y1="842.0" x2="783.1" y2="846.0" stroke="#5c5c5c" stroke-width="1"/>
<text x="619.7" y="1311.1" font-size="32" text-anchor="middle" fill="#484848">0</text>
<text x="782.6" y="1311.1" font-size="32" text-anchor="middle" fill="#484848" textLength="61.0" lengthAdjust="spacingAndGlyphs">5000</text>
<text x="945.4" y="1311.1" font-size="32" text-anchor="middle" fill="#484848" textLength="76.0" lengthAdjust="spacingAndGlyphs">10000</text>
<line x1="1064.0" y1="911.0" x2="1391.4" y2="911.0" stroke="#ebebeb" stroke-width="1"/>
<line x1="1064.0" y1="980.0" x2="1391.4" y2="980.0" stroke="#ebebeb" stroke-width="1"/>
<line x1="1064.0" y1="1049.0" x2="1391.4" y2="1049.0" stroke="#ebebeb" stroke-width="1"/>
<line x1="1064.0" y1="1118.0" x2="1391.4" y2="1118.0" stroke="#ebebeb" stroke-width="1"/>
<line x1="1064.0" y1="1187.0" x2="1391.4" y2="1187.0" stroke="#ebebeb" stroke-width="1"/>
<line x1="1064.0" y1="1256.0" x2="1391.4" y2="1256.0" stroke="#ebebeb" stroke-width="1"/>
<line x1="1227.7" y1="842.0" x2="1227.7" y2="1275.5" stroke="#ebebeb" stroke-width="1"/>
<polyline points="1064.0,878.6 1064.4,880.0 1064.7,873.8 1065.1,867.5 1065.5,876.2 1065.8,877.6 1066.2,877.5 1066.5,873.1 1066.9,870.0 1067.3,875.9 1067.6,875.8 1068.0,875.5 1068.4,883.1 1068.7,874.1 1069.1,867.9 1069.5,882.2 1069.8,870.6 1070.2,872.2 1070.6,880.9 1070.9,877.0 1071.3,874.4 1071.6,883.6 1072.0,876.1 1072.4,875.8 1072.7,863.7 1073.1,880.9 1073.5,876.3 1073.8,874.3 1074.2,880.6 1074.6,871.9 1074.9,885.2 1075.3,878.8 1075.7,879.5 1076.0,878.7 1076.4,869.6 1076.7,874.0 1077.1,877.6 1077.5,880.6 1077.8,878.3 1078.2,875.7 1078.6,893.5 1078.9,881.7 1079.3,888.2 1079.7,881.7 1080.0,881.5 1080.4,882.5 1080.8,881.0 1081.1,886.1 1081.5,881.6 1081.8,885.0 1082.2,883.9 1082.6,882.4 1082.9,887.9 1083.3,883.9 1083.7,884.8 1084.0,891.3 1084.4,888.9 1084.8,877.3 1085.1,889.1 1085.5,886.1 1085.9,885.6 1086.2,887.7 1086.6,884.8 1086.9,878.0 1087.3,875.3 1087.7,874.8 1088.0,886.1 1088.4,878.3 1088.8,881.9 1089.1,876.0 1089.5,887.2 1089.9,878.9 1090.2,889.4 1090.6,882.9 1090.9,877.6 1091.3,872.2 1091.7,879.6 1092.0,877.1 1092.4,870.8 1092.8,875.0 1093.1,867.3 1093.5,866.2 1093.9,882.4 1094.2,876.0 1094.6,883.6 1095.0,880.3 1095.3,875.2 1095.7,872.7 1096.0,886.1 1096.4,878.4 1096.8,879.0 1097.1,870.5 1097.5,876.9 1097.9,882.0 1098.2,870.2 1098.6,880.7 1099.0,876.6 1099.3,876.3 1099.7,873.4 1100.1,884.8 1100.4,877.6 1100.8,870.1 1101.1,880.1 1101.5,875.8 1101.9,876.1 1102.2,884.2 1102.6,882.7 1103.0,878.5 1103.3,876.9 1103.7,895.8 1104.1,871.1 1104.4,876.7 1104.8,876.8 1105.2,884.0 1105.5,880.8 1105.9,888.1 1106.2,882.7 1106.6,907.8 1107.0,882.7 1107.3,884.9 1107.7,885.8 1108.1,872.6 1108.4,878.1 1108.8,886.1 1109.2,872.2 1109.5,874.0 1109.9,883.4 1110.3,872.0 1110.6,869.5 1111.0,872.2 1111.3,879.0 1111.7,882.8 1112.1,875.0 1112.4,871.1 1112.8,871.8 1113.2,878.1 1113.5,873.2 1113.9,869.3 1114.3,874.3 1114.6,881.7 1115.0,876.0 1115.3,874.7 1115.7,880.2 1116.1,878.0 1116.4,876.3 1116.8,880.0 1117.2,882.1 1117.5,882.1 1117.9,892.7 1118.3,874.9 1118.6,880.7 1119.0,884.6 1119.4,880.2 1119.7,885.2 1120.1,889.5 1120.4,893.9 1120.8,884.8 1121.2,893.3 1121.5,870.4 1121.9,868.0 1122.3,872.8 1122.6,892.1 1123.0,875.7 1123.4,886.0 1123.7,883.4 1124.1,878.9 1124.5,882.9 1124.8,880.1 1125.2,882.7 1125.5,876.5 1125.9,882.3 1126.3,890.7 1126.6,889.9 1127.0,884.8 1127.4,883.3 1127.7,884.1 1128.1,879.8 1128.5,884.7 1128.8,892.7 1129.2,878.9 1129.6,883.1 1129.9,885.8 1130.3,888.1 1130.6,882.3 1131.0,881.9 1131.4,884.7 1131.7,885.4 1132.1,884.5 1132.5,884.2 1132.8,883.2 1133.2,899.1 1133.6,879.6 1133.9,890.6 1134.3,885.3 1134.7,881.2 1135.0,879.0 1135.4,883.1 1135.7,877.5 1136.1,885.8 1136.5,873.9 1136.8,878.4 1137.2,875.9 1137.6,880.9 1137.9,880.7 1138.3,880.1 1138.7,876.3 1139.0,876.8 1139.4,869.6 1139.7,887.4 1140.1,879.7 1140.5,864.5 1140.8,882.3 1141.2,878.1 1141.6,883.4 1141.9,881.1 1142.3,886.1 1142.7,884.3 1143.0,892.4 1143.4,887.8 1143.8,879.9 1144.1,881.5 1144.5,873.2 1144.8,881.5 1145.2,874.6 1145.6,880.3 1145.9,876.6 1146.3,875.4 1146.7,882.3 1147.0,884.9 1147.4,888.5 1147.8,886.6 1148.1,886.2 1148.5,888.2 1148.9,889.7 1149.2,886.3 1149.6,891.6 1149.9,883.7 1150.3,881.9 1150.7,885.7 1151.0,893.5 1151.4,893.3 1151.8,883.5 1152.1,888.4 1152.5,882.9 1152.9,887.4 1153.2,885.8 1153.6,885.9 1154.0,882.2 1154.3,890.1 1154.7,881.3 1155.0,884.2 1155.4,884.2 1155.8,881.6 1156.1,885.8 1156.5,879.5 1156.9,880.5 1157.2,892.3 1157.6,882.8 1158.0,885.5 1158.3,883.8 1158.7,884.5 1159.1,887.8 1159.4,888.5 1159.8,888.0 1160.1,881.2 1160.5,889.8 1160.9,880.8 1161.2,887.5 1161.6,886.5 1162.0,878.8 1162.3,888.5 1162.7,889.6 1163.1,885.1 1163.4,880.4 1163.8,882.2 1164.2,886.2 1164.5,884.0 1164.9,879.2 1165.2,884.6 1165.6,884.0 1166.0,890.9 1166.3,890.4 1166.7,884.0 1167.1,876.4 1167.4,890.5 1167.8,876.4 1168.2,883.1 1168.5,880.3 1168.9,875.5 1169.2,885.5 1169.6,882.9 1170.0,891.8 1170.3,890.1 1170.7,890.3 1171.1,880.2 1171.4,886.8 1171.8,878.0 1172.2,890.4 1172.5,887.1 1172.9,874.7 1173.3,879.3 1173.6,880.2 1174.0,878.2 1174.3,876.2 1174.7,880.5 1175.1,887.3 1175.4,885.2 1175.8,885.0 1176.2,885.3 1176.5,881.9 1176.9,891.2 1177.3,888.8 1177.6,888.3 1178.0,891.3 1178.4,878.1 1178.7,889.8 1179.1,882.4 1179.4,884.0 1179.8,872.1 1180.2,881.8 1180.5,891.3 1180.9,888.9 1181.3,893.3 1181.6,882.1 1182.0,890.7 1182.4,888.1 1182.7,886.9 1183.1,877.9 1183.5,885.0 1183.8,880.0 1184.2,895.9 1184.5,884.4 1184.9,898.8 1185.3,889.7 1185.6,910.3 1186.0,892.9 1186.4,882.4 1186.7,900.6 1187.1,906.1 1187.5,876.2 1187.8,899.4 1188.2,898.3 1188.6,879.2 1188.9,861.5 1189.3,855.9 1189.6,874.7 1190.0,860.0 1190.4,869.6 1190.7,900.3 1191.1,904.6 1191.5,882.5 1191.8,885.6 1192.2,894.0 1192.6,890.9 1192.9,904.4 1193.3,892.1 1193.6,899.1 1194.0,886.8 1194.4,890.4 1194.7,893.1 1195.1,889.5 1195.5,891.5 1195.8,889.9 1196.2,892.6 1196.6,888.2 1196.9,888.3 1197.3,893.3 1197.7,879.6 1198.0,892.5 1198.4,894.3 1198.7,890.8 1199.1,900.5 1199.5,892.0 1199.8,895.5 1200.2,879.5 1200.6,887.3 1200.9,890.2 1201.3,888.4 1201.7,891.7 1202.0,892.3 1202.4,887.4 1202.8,885.5 1203.1,894.6 1203.5,900.4 1203.8,892.6 1204.2,893.0 1204.6,889.5 1204.9,891.2 1205.3,882.3 1205.7,883.2 1206.0,875.5 1206.4,884.0 1206.8,887.3 1207.1,884.0 1207.5,893.5 1207.9,883.6 1208.2,886.0 1208.6,892.0 1208.9,876.9 1209.3,888.7 1209.7,894.3 1210.0,890.5 1210.4,880.1 1210.8,898.8 1211.1,892.6 1211.5,891.5 1211.9,883.4 1212.2,883.5 1212.6,891.9 1213.0,896.0 1213.3,884.1 1213.7,894.4 1214.0,895.8 1214.4,888.1 1214.8,887.1 1215.1,896.0 1215.5,896.6 1215.9,895.5 1216.2,883.8 1216.6,891.6 1217.0,889.8 1217.3,891.8 1217.7,905.0 1218.0,894.6 1218.4,898.5 1218.8,899.9 1219.1,893.1 1219.5,901.3 1219.9,901.1 1220.2,895.4 1220.6,893.7 1221.0,899.8 1221.3,897.2 1221.7,894.0 1222.1,884.5 1222.4,894.6 1222.8,887.6 1223.1,892.1 1223.5,886.3 1223.9,886.3 1224.2,896.2 1224.6,892.1 1225.0,888.7 1225.3,888.3 1225.7,895.0 1226.1,881.0 1226.4,883.3 1226.8,891.3 1227.2,897.4 1227.5,892.0 1227.9,885.9 1228.2,888.8 1228.6,892.1 1229.0,882.1 1229.3,882.1 1229.7,886.1 1230.1,891.9 1230.4,882.3 1230.8,888.5 1231.2,905.6 1231.5,887.0 1231.9,889.4 1232.3,883.9 1232.6,884.8 1233.0,887.8 1233.3,888.0 1233.7,894.9 1234.1,884.7 1234.4,888.6 1234.8,890.9 1235.2,894.9 1235.5,899.0 1235.9,895.2 1236.3,891.0 1236.6,888.2 1237.0,886.9 1237.4,889.7 1237.7,887.4 1238.1,895.3 1238.4,890.8 1238.8,895.1 1239.2,885.9 1239.5,893.2 1239.9,889.3 1240.3,881.7 1240.6,879.1 1241.0,888.8 1241.4,885.0 1241.7,884.1 1242.1,893.4 1242.4,883.5 1242.8,891.8 1243.2,887.4 1243.5,889.2 1243.9,887.9 1244.3,894.5 1244.6,901.2 1245.0,908.7 1245.4,895.5 1245.7,897.9 1246.1,890.1 1246.5,898.6 1246.8,892.8 1247.2,889.0 1247.5,886.1 1247.9,890.8 1248.3,890.4 1248.6,886.8 1249.0,897.8 1249.4,884.6 1249.7,897.0 1250.1,901.2 1250.5,892.4 1250.8,899.8 1251.2,895.5 1251.6,888.6 1251.9,897.2 1252.3,885.8 1252.6,893.8 1253.0,889.7 1253.4,898.3 1253.7,889.4 1254.1,897.9 1254.5,885.8 1254.8,891.6 1255.2,887.9 1255.6,890.4 1255.9,877.0 1256.3,900.9 1256.7,889.9 1257.0,890.8 1257.4,903.6 1257.7,891.4 1258.1,891.4 1258.5,895.7 1258.8,897.8 1259.2,893.7 1259.6,896.3 1259.9,894.2 1260.3,893.8 1260.7,891.1 1261.0,892.0 1261.4,895.6 1261.8,893.5 1262.1,905.0 1262.5,895.3 1262.8,896.4 1263.2,894.7 1263.6,895.7 1263.9,891.5 1264.3,895.2 1264.7,906.8 1265.0,894.4 1265.4,889.7 1265.8,894.9 1266.1,896.0 1266.5,898.9 1266.8,893.4 1267.2,887.9 1267.6,900.1 1267.9,892.2 1268.3,891.9 1268.7,905.2 1269.0,899.8 1269.4,902.5 1269.8,900.1 1270.1,894.1 1270.5,896.2 1270.9,895.3 1271.2,896.2 1271.6,890.4 1271.9,890.3 1272.3,893.7 1272.7,898.7 1273.0,895.6 1273.4,895.6 1273.8,905.5 1274.1,898.3 1274.5,899.9 1274.9,899.1 1275.2,887.6 1275.6,893.3 1276.0,895.1 1276.3,894.8 1276.7,899.7 1277.0,890.5 1277.4,889.0 1277.8,889.0 1278.1,909.4 1278.5,899.3 1278.9,897.6 1279.2,898.9 1279.6,906.7 1280.0,898.0 1280.3,894.8 1280.7,900.4 1281.1,903.8 1281.4,899.6 1281.8,895.3 1282.1,889.0 1282.5,887.6 1282.9,898.0 1283.2,899.2 1283.6,888.4 1284.0,892.7 1284.3,894.8 1284.7,892.6 1285.1,891.3 1285.4,891.3 1285.8,892.0 1286.2,897.3 1286.5,895.1 1286.9,903.2 1287.2,904.8 1287.6,893.6 1288.0,890.9 1288.3,896.0 1288.7,890.9 1289.1,890.1 1289.4,885.5 1289.8,895.8 1290.2,891.1 1290.5,894.3 1290.9,894.1 1291.2,896.1 1291.6,892.1 1292.0,902.2 1292.3,907.5 1292.7,901.6 1293.1,907.9 1293.4,897.3 1293.8,901.6 1294.2,899.1 1294.5,900.3 1294.9,906.3 1295.3,899.5 1295.6,895.8 1296.0,892.6 1296.3,891.9 1296.7,899.8 1297.1,899.2 1297.4,892.4 1297.8,887.3 1298.2,890.3 1298.5,893.9 1298.9,900.2 1299.3,893.4 1299.6,885.4 1300.0,894.4 1300.4,901.0 1300.7,892.8 1301.1,900.1 1301.4,902.5 1301.8,893.4 1302.2,896.1 1302.5,901.5 1302.9,899.9 1303.3,897.7 1303.6,890.2 1304.0,893.0 1304.4,895.5 1304.7,890.6 1305.1,895.3 1305.5,886.3 1305.8,890.0 1306.2,895.3 1306.5,899.4 1306.9,895.0 1307.3,889.4 1307.6,891.1 1308.0,898.3 1308.4,899.5 1308.7,890.7 1309.1,901.4 1309.5,897.4 1309.8,907.2 1310.2,907.5 1310.6,899.2 1310.9,908.7 1311.3,905.1 1311.6,898.7 1312.0,905.0 1312.4,905.5 1312.7,899.8 1313.1,907.1 1313.5,906.5 1313.8,900.0 1314.2,902.2 1314.6,914.1 1314.9,901.8 1315.3,908.2 1315.7,893.4 1316.0,905.5 1316.4,893.3 1316.7,894.4 1317.1,893.5 1317.5,895.9 1317.8,888.5 1318.2,891.3 1318.6,895.0 1318.9,897.1 1319.3,900.8 1319.7,893.1 1320.0,902.0 1320.4,905.6 1320.7,900.0 1321.1,910.9 1321.5,908.0 1321.8,892.5 1322.2,894.1 1322.6,897.5 1322.9,897.5 1323.3,896.9 1323.7,899.6 1324.0,901.0 1324.4,901.3 1324.8,892.1 1325.1,908.0 1325.5,895.6 1325.8,891.0 1326.2,891.4 1326.6,893.5 1326.9,893.4 1327.3,905.6 1327.7,888.6 1328.0,888.7 1328.4,903.5 1328.8,893.7 1329.1,904.1 1329.5,891.4 1329.9,893.7 1330.2,922.2 1330.6,902.7 1330.9,891.7 1331.3,895.7 1331.7,893.2 1332.0,897.4 1332.4,904.4 1332.8,901.4 1333.1,899.4 1333.5,906.0 1333.9,897.5 1334.2,888.3 1334.6,888.5 1335.0,888.8 1335.3,905.7 1335.7,896.8 1336.0,893.4 1336.4,905.7 1336.8,901.3 1337.1,898.4 1337.5,905.6 1337.9,901.5 1338.2,901.8 1338.6,906.9 1339.0,903.2 1339.3,896.0 1339.7,891.3 1340.1,914.1 1340.4,909.2 1340.8,902.4 1341.1,901.5 1341.5,900.8 1341.9,905.0 1342.2,899.2 1342.6,888.5 1343.0,902.5 1343.3,895.8 1343.7,897.3 1344.1,891.0 1344.4,900.0 1344.8,898.2 1345.1,893.8 1345.5,892.4 1345.9,891.5 1346.2,883.6 1346.6,890.4 1347.0,888.9 1347.3,906.0 1347.7,897.4 1348.1,894.0 1348.4,899.8 1348.8,899.8 1349.2,899.6 1349.5,897.6 1349.9,906.8 1350.2,895.7 1350.6,900.1 1351.0,902.1 1351.3,898.4 1351.7,897.8 1352.1,899.4 1352.4,890.0 1352.8,893.3 1353.2,904.4 1353.5,899.5 1353.9,897.2 1354.3,905.1 1354.6,893.3 1355.0,904.6 1355.3,912.2 1355.7,894.1 1356.1,901.2 1356.4,900.8 1356.8,895.9 1357.2,905.5 1357.5,901.5 1357.9,900.6 1358.3,896.7 1358.6,890.6 1359.0,896.1 1359.4,908.8 1359.7,918.4 1360.1,889.3 1360.4,891.5 1360.8,909.9 1361.2,913.3 1361.5,898.8 1361.9,903.7 1362.3,925.5 1362.6,897.9 1363.0,881.0 1363.4,921.3 1363.7,889.3 1364.1,898.5 1364.5,896.0 1364.8,875.8 1365.2,905.2 1365.5,890.0 1365.9,922.2 1366.3,898.2 1366.6,899.3 1367.0,906.3 1367.4,905.3 1367.7,914.8 1368.1,899.3 1368.5,905.1 1368.8,909.5 1369.2,902.2 1369.5,901.6 1369.9,910.1 1370.3,895.7 1370.6,916.1 1371.0,913.0 1371.4,903.0 1371.7,905.4 1372.1,906.8 1372.5,903.0 1372.8,910.6 1373.2,906.4 1373.6,903.0 1373.9,906.0 1374.3,905.3 1374.6,909.4 1375.0,906.4 1375.4,903.2 1375.7,908.5 1376.1,899.3 1376.5,907.3 1376.8,899.7 1377.2,915.7 1377.6,909.6 1377.9,902.7 1378.3,915.4 1378.7,907.4 1379.0,906.5 1379.4,905.9 1379.7,913.4 1380.1,909.3 1380.5,891.2 1380.8,896.0 1381.2,904.8 1381.6,912.8 1381.9,899.6 1382.3,906.1 1382.7,910.0 1383.0,910.0 1383.4,903.4 1383.8,916.2 1384.1,900.7 1384.5,908.4 1384.8,906.4 1385.2,907.5 1385.6,910.9 1385.9,904.1 1386.3,894.3 1386.7,899.0 1387.0,901.1 1387.4,903.0 1387.8,907.8 1388.1,910.0 1388.5,899.2 1388.9,904.6 1389.2,912.8 1389.6,904.8 1389.9,906.9 1390.3,920.1 1390.7,914.7 1391.0,905.7 1391.4,915.0" fill="none" stroke="#1467b3" stroke-width="1" stroke-linejoin="round"/>
<line x1="1064.0" y1="876.5" x2="1391.4" y2="905.5" stroke="#e8452c" stroke-width="1"/>
<rect x="1064.0" y="842.0" width="327.4" height="433.5" fill="none" stroke="#5c5c5c" stroke-width="1"/>
<line x1="1064.0" y1="911.0" x2="1068.0" y2="911.0" stroke="#5c5c5c" stroke-width="1"/>
<line x1="1391.4" y1="911.0" x2="1387.4" y2="911.0" stroke="#5c5c5c" stroke-width="1"/>
<line x1="1064.0" y1="980.0" x2="1068.0" y2="980.0" stroke="#5c5c5c" stroke-width="1"/>
<line x1="1391.4" y1="980.0" x2="1387.4" y2="980.0" stroke="#5c5c5c" stroke-width="1"/>
<line x1="1064.0" y1="1049.0" x2="1068.0" y2="1049.0" stroke="#5c5c5c" stroke-width="1"/>
<line x1="1391.4" y1="1049.0" x2="1387.4" y2="1049.0" stroke="#5c5c5c" stroke-width="1"/>
<line x1="1064.0" y1="1118.0" x2="1068.0" y2="1118.0" stroke="#5c5c5c" stroke-width="1"/>
<line x1="1391.4" y1="1118.0" x2="1387.4" y2="1118.0" stroke="#5c5c5c" stroke-width="1"/>
<line x1="1064.0" y1="1187.0" x2="1068.0" y2="1187.0" stroke="#5c5c5c" stroke-width="1"/>
<line x1="1391.4" y1="1187.0" x2="1387.4" y2="1187.0" stroke="#5c5c5c" stroke-width="1"/>
<line x1="1064.0" y1="1256.0" x2="1068.0" y2="1256.0" stroke="#5c5c5c" stroke-width="1"/>
<line x1="1391.4" y1="1256.0" x2="1387.4" y2="1256.0" stroke="#5c5c5c" stroke-width="1"/>
<line x1="1227.7" y1="1275.5" x2="1227.7" y2="1271.5" stroke="#5c5c5c" stroke-width="1"/>
<line x1="1227.7" y1="842.0" x2="1227.7" y2="846.0" stroke="#5c5c5c" stroke-width="1"/>
<text x="1062.5" y="1311.1" font-size="32" text-anchor="middle" fill="#484848">0</text>
<text x="1225.7" y="1311.1" font-size="32" text-anchor="middle" fill="#484848" textLength="61.0" lengthAdjust="spacingAndGlyphs">5000</text>
<text x="1388.8" y="1311.1" font-size="32" text-anchor="middle" fill="#484848" textLength="76.0" lengthAdjust="spacingAndGlyphs">10000</text>
<line x1="1508.3" y1="911.0" x2="1835.0" y2="911.0" stroke="#ebebeb" stroke-width="1"/>
<line x1="1508.3" y1="980.0" x2="1835.0" y2="980.0" stroke="#ebebeb" stroke-width="1"/>
<line x1="1508.3" y1="1049.0" x2="1835.0" y2="1049.0" stroke="#ebebeb" stroke-width="1"/>
<line x1="1508.3" y1="1118.0" x2="1835.0" y2="1118.0" stroke="#ebebeb" stroke-width="1"/>
<line x1="1508.3" y1="1187.0" x2="1835.0" y2="1187.0" stroke="#ebebeb" stroke-width="1"/>
<line x1="1508.3" y1="1256.0" x2="1835.0" y2="1256.0" stroke="#ebebeb" stroke-width="1"/>
<line x1="1671.7" y1="842.0" x2="1671.7" y2="1275.5" stroke="#ebebeb" stroke-width="1"/>
<polyline points="1508.3,872.3 1508.7,883.3 1509.0,877.0 1509.4,870.8 1509.8,873.8 1510.1,858.5 1510.5,870.7 1510.8,865.7 1511.2,870.2 1511.6,879.2 1511.9,866.6 1512.3,871.6 1512.7,877.8 1513.0,874.5 1513.4,874.4 1513.8,879.7 1514.1,877.4 1514.5,874.2 1514.8,869.2 1515.2,880.1 1515.6,875.1 1515.9,871.0 1516.3,874.3 1516.7,868.6 1517.0,861.9 1517.4,882.2 1517.7,875.2 1518.1,871.4 1518.5,869.4 1518.8,871.9 1519.2,878.5 1519.6,861.0 1519.9,870.2 1520.3,898.6 1520.7,864.9 1521.0,867.4 1521.4,872.4 1521.7,872.8 1522.1,877.7 1522.5,878.8 1522.8,877.6 1523.2,876.4 1523.6,879.7 1523.9,881.8 1524.3,870.4 1524.7,874.6 1525.0,876.7 1525.4,872.8 1525.7,860.1 1526.1,875.1 1526.5,871.8 1526.8,873.6 1527.2,872.2 1527.6,864.3 1527.9,878.7 1528.3,882.7 1528.7,877.4 1529.0,878.3 1529.4,868.5 1529.7,867.9 1530.1,874.6 1530.5,876.1 1530.8,873.4 1531.2,876.0 1531.6,875.1 1531.9,881.7 1532.3,893.3 1532.6,874.7 1533.0,875.1 1533.4,875.4 1533.7,871.9 1534.1,883.2 1534.5,874.0 1534.8,869.0 1535.2,866.7 1535.6,874.3 1535.9,868.4 1536.3,879.2 1536.6,871.5 1537.0,865.3 1537.4,864.1 1537.7,869.7 1538.1,875.2 1538.5,879.3 1538.8,870.3 1539.2,880.6 1539.6,884.5 1539.9,873.0 1540.3,888.0 1540.6,874.7 1541.0,885.3 1541.4,874.0 1541.7,877.4 1542.1,871.2 1542.5,873.7 1542.8,882.7 1543.2,887.6 1543.6,883.1 1543.9,874.8 1544.3,878.2 1544.6,879.7 1545.0,878.6 1545.4,873.4 1545.7,885.2 1546.1,871.5 1546.5,872.3 1546.8,874.2 1547.2,869.8 1547.5,883.6 1547.9,873.2 1548.3,874.1 1548.6,885.4 1549.0,872.5 1549.4,879.0 1549.7,863.4 1550.1,869.5 1550.5,881.2 1550.8,873.1 1551.2,869.1 1551.5,879.3 1551.9,869.6 1552.3,875.8 1552.6,876.8 1553.0,878.9 1553.4,876.2 1553.7,871.3 1554.1,875.2 1554.5,873.7 1554.8,881.1 1555.2,872.9 1555.5,879.7 1555.9,884.5 1556.3,878.7 1556.6,879.7 1557.0,875.4 1557.4,880.3 1557.7,880.7 1558.1,885.6 1558.4,885.0 1558.8,871.4 1559.2,876.4 1559.5,874.8 1559.9,876.3 1560.3,877.5 1560.6,870.6 1561.0,876.7 1561.4,879.6 1561.7,877.9 1562.1,887.7 1562.4,882.4 1562.8,884.0 1563.2,891.1 1563.5,869.2 1563.9,878.7 1564.3,870.8 1564.6,870.1 1565.0,874.4 1565.4,879.6 1565.7,890.8 1566.1,875.8 1566.4,874.6 1566.8,865.0 1567.2,872.3 1567.5,879.1 1567.9,883.1 1568.3,872.0 1568.6,876.0 1569.0,876.9 1569.4,873.3 1569.7,878.5 1570.1,877.5 1570.4,878.0 1570.8,882.8 1571.2,887.0 1571.5,883.9 1571.9,880.7 1572.3,881.5 1572.6,883.6 1573.0,883.0 1573.3,889.5 1573.7,885.0 1574.1,875.2 1574.4,873.7 1574.8,883.9 1575.2,883.3 1575.5,885.6 1575.9,887.5 1576.3,886.6 1576.6,886.3 1577.0,882.0 1577.3,887.8 1577.7,869.2 1578.1,872.4 1578.4,875.1 1578.8,882.2 1579.2,882.5 1579.5,883.0 1579.9,884.5 1580.3,873.9 1580.6,873.7 1581.0,880.7 1581.3,875.1 1581.7,883.2 1582.1,874.9 1582.4,871.7 1582.8,879.7 1583.2,874.3 1583.5,873.1 1583.9,872.8 1584.3,875.7 1584.6,871.9 1585.0,874.3 1585.3,874.0 1585.7,878.9 1586.1,882.0 1586.4,878.8 1586.8,891.3 1587.2,886.9 1587.5,890.3 1587.9,883.0 1588.2,891.4 1588.6,894.7 1589.0,882.3 1589.3,888.8 1589.7,881.0 1590.1,881.2 1590.4,888.5 1590.8,873.5 1591.2,889.8 1591.5,878.5 1591.9,878.9 1592.2,882.1 1592.6,889.2 1593.0,883.2 1593.3,880.8 1593.7,878.1 1594.1,888.1 1594.4,890.2 1594.8,889.1 1595.2,884.2 1595.5,881.5 1595.9,884.6 1596.2,879.9 1596.6,880.3 1597.0,882.5 1597.3,890.7 1597.7,885.2 1598.1,875.2 1598.4,873.4 1598.8,880.4 1599.2,880.0 1599.5,875.7 1599.9,879.4 1600.2,883.4 1600.6,874.0 1601.0,877.2 1601.3,875.4 1601.7,877.4 1602.1,880.8 1602.4,876.7 1602.8,873.2 1603.1,879.1 1603.5,887.5 1603.9,882.2 1604.2,874.0 1604.6,878.5 1605.0,881.8 1605.3,869.7 1605.7,873.9 1606.1,875.0 1606.4,874.8 1606.8,875.9 1607.1,876.3 1607.5,868.1 1607.9,876.7 1608.2,885.5 1608.6,879.7 1609.0,883.9 1609.3,886.3 1609.7,881.7 1610.1,875.2 1610.4,883.8 1610.8,880.5 1611.1,880.1 1611.5,877.0 1611.9,884.7 1612.2,881.8 1612.6,886.2 1613.0,879.8 1613.3,880.1 1613.7,894.9 1614.1,873.5 1614.4,878.8 1614.8,889.3 1615.1,884.3 1615.5,889.5 1615.9,884.1 1616.2,876.8 1616.6,873.6 1617.0,870.2 1617.3,880.5 1617.7,870.8 1618.0,873.7 1618.4,874.0 1618.8,878.7 1619.1,883.1 1619.5,879.1 1619.9,875.3 1620.2,875.6 1620.6,884.8 1621.0,886.0 1621.3,879.1 1621.7,885.9 1622.0,877.6 1622.4,877.8 1622.8,872.1 1623.1,872.6 1623.5,874.5 1623.9,867.8 1624.2,878.2 1624.6,877.5 1625.0,879.7 1625.3,882.9 1625.7,885.9 1626.0,885.6 1626.4,885.1 1626.8,875.1 1627.1,879.0 1627.5,880.5 1627.9,880.4 1628.2,875.7 1628.6,877.8 1629.0,875.6 1629.3,869.7 1629.7,877.4 1630.0,879.0 1630.4,870.3 1630.8,877.8 1631.1,878.9 1631.5,877.4 1631.9,882.6 1632.2,882.6 1632.6,882.1 1632.9,873.4 1633.3,888.1 1633.7,879.0 1634.0,875.1 1634.4,883.0 1634.8,878.8 1635.1,879.9 1635.5,879.5 1635.9,883.2 1636.2,873.7 1636.6,875.2 1636.9,876.8 1637.3,878.7 1637.7,886.1 1638.0,875.0 1638.4,881.4 1638.8,884.2 1639.1,893.4 1639.5,880.7 1639.9,883.8 1640.2,879.4 1640.6,882.1 1640.9,880.3 1641.3,888.1 1641.7,874.5 1642.0,885.8 1642.4,869.9 1642.8,862.8 1643.1,874.2 1643.5,879.1 1643.8,875.4 1644.2,883.1 1644.6,885.4 1644.9,885.8 1645.3,879.7 1645.7,876.7 1646.0,880.2 1646.4,881.9 1646.8,877.5 1647.1,881.5 1647.5,888.9 1647.8,892.5 1648.2,889.2 1648.6,891.7 1648.9,886.4 1649.3,891.8 1649.7,882.7 1650.0,891.7 1650.4,901.2 1650.8,885.2 1651.1,882.4 1651.5,883.1 1651.8,888.3 1652.2,886.6 1652.6,887.4 1652.9,879.3 1653.3,883.9 1653.7,882.0 1654.0,887.9 1654.4,896.8 1654.8,886.1 1655.1,893.1 1655.5,882.2 1655.8,891.1 1656.2,900.8 1656.6,889.0 1656.9,891.8 1657.3,886.8 1657.7,891.8 1658.0,884.0 1658.4,879.4 1658.7,887.4 1659.1,886.5 1659.5,876.1 1659.8,884.1 1660.2,876.5 1660.6,886.4 1660.9,887.3 1661.3,881.5 1661.7,881.1 1662.0,885.8 1662.4,889.6 1662.7,888.5 1663.1,883.4 1663.5,892.6 1663.8,879.9 1664.2,885.7 1664.6,872.1 1664.9,885.0 1665.3,878.4 1665.7,905.9 1666.0,877.7 1666.4,882.1 1666.7,873.6 1667.1,885.7 1667.5,877.5 1667.8,884.1 1668.2,886.7 1668.6,889.4 1668.9,884.3 1669.3,877.4 1669.7,889.4 1670.0,879.4 1670.4,883.8 1670.7,885.5 1671.1,883.5 1671.5,892.8 1671.8,882.0 1672.2,888.7 1672.6,888.6 1672.9,873.0 1673.3,888.5 1673.6,872.3 1674.0,868.5 1674.4,952.9 1674.7,935.9 1675.1,942.7 1675.5,916.9 1675.8,935.3 1676.2,899.3 1676.6,900.9 1676.9,884.3 1677.3,886.5 1677.6,885.8 1678.0,885.5 1678.4,885.8 1678.7,886.8 1679.1,884.1 1679.5,883.7 1679.8,885.0 1680.2,882.3 1680.6,891.5 1680.9,888.1 1681.3,875.7 1681.6,883.6 1682.0,878.5 1682.4,884.8 1682.7,874.9 1683.1,883.4 1683.5,887.8 1683.8,885.9 1684.2,880.0 1684.6,892.6 1684.9,890.8 1685.3,893.3 1685.6,891.2 1686.0,881.5 1686.4,884.1 1686.7,891.2 1687.1,880.3 1687.5,886.5 1687.8,883.1 1688.2,883.6 1688.5,888.3 1688.9,882.8 1689.3,877.9 1689.6,875.8 1690.0,880.2 1690.4,881.8 1690.7,875.1 1691.1,874.8 1691.5,876.5 1691.8,886.9 1692.2,893.4 1692.5,894.3 1692.9,885.0 1693.3,879.0 1693.6,881.4 1694.0,879.9 1694.4,884.5 1694.7,885.4 1695.1,884.1 1695.5,890.8 1695.8,895.3 1696.2,887.9 1696.5,882.1 1696.9,887.9 1697.3,896.0 1697.6,885.8 1698.0,887.7 1698.4,898.4 1698.7,891.1 1699.1,895.1 1699.5,890.1 1699.8,891.1 1700.2,888.5 1700.5,883.7 1700.9,894.2 1701.3,893.8 1701.6,892.1 1702.0,896.4 1702.4,891.1 1702.7,889.3 1703.1,879.1 1703.4,877.3 1703.8,882.2 1704.2,890.7 1704.5,898.1 1704.9,884.0 1705.3,892.8 1705.6,882.4 1706.0,889.6 1706.4,884.1 1706.7,892.8 1707.1,890.3 1707.4,882.9 1707.8,889.5 1708.2,884.8 1708.5,891.4 1708.9,893.0 1709.3,882.8 1709.6,883.3 1710.0,891.3 1710.4,885.8 1710.7,883.6 1711.1,892.3 1711.4,884.1 1711.8,879.3 1712.2,880.6 1712.5,882.9 1712.9,878.5 1713.3,883.8 1713.6,883.3 1714.0,888.3 1714.3,879.9 1714.7,885.8 1715.1,894.7 1715.4,880.4 1715.8,881.8 1716.2,891.7 1716.5,884.9 1716.9,875.6 1717.3,875.9 1717.6,882.5 1718.0,884.3 1718.3,880.8 1718.7,880.7 1719.1,885.4 1719.4,880.8 1719.8,880.3 1720.2,882.1 1720.5,881.5 1720.9,879.3 1721.3,898.1 1721.6,882.5 1722.0,885.0 1722.3,893.5 1722.7,885.1 1723.1,893.7 1723.4,888.0 1723.8,883.5 1724.2,882.7 1724.5,888.7 1724.9,886.9 1725.3,877.6 1725.6,882.3 1726.0,876.6 1726.3,878.5 1726.7,878.2 1727.1,864.9 1727.4,875.1 1727.8,879.0 1728.2,879.4 1728.5,890.3 1728.9,887.9 1729.2,882.5 1729.6,895.6 1730.0,882.1 1730.3,883.2 1730.7,883.0 1731.1,881.8 1731.4,888.7 1731.8,889.8 1732.2,882.5 1732.5,880.0 1732.9,891.5 1733.2,884.4 1733.6,896.0 1734.0,891.2 1734.3,888.5 1734.7,890.7 1735.1,889.5 1735.4,888.3 1735.8,891.6 1736.2,887.2 1736.5,885.1 1736.9,890.1 1737.2,883.1 1737.6,878.1 1738.0,874.0 1738.3,893.9 1738.7,908.7 1739.1,887.6 1739.4,892.5 1739.8,884.3 1740.2,893.6 1740.5,902.3 1740.9,903.0 1741.2,893.9 1741.6,889.8 1742.0,890.6 1742.3,892.4 1742.7,886.3 1743.1,892.8 1743.4,883.5 1743.8,884.5 1744.1,884.1 1744.5,888.5 1744.9,875.4 1745.2,873.0 1745.6,897.9 1746.0,886.4 1746.3,885.7 1746.7,900.7 1747.1,888.5 1747.4,896.6 1747.8,894.2 1748.1,888.6 1748.5,899.9 1748.9,884.0 1749.2,882.5 1749.6,881.9 1750.0,876.3 1750.3,884.0 1750.7,884.5 1751.1,890.8 1751.4,893.4 1751.8,890.4 1752.1,896.2 1752.5,891.1 1752.9,895.1 1753.2,884.3 1753.6,892.7 1754.0,898.4 1754.3,898.1 1754.7,898.0 1755.1,897.1 1755.4,885.8 1755.8,885.8 1756.1,898.2 1756.5,898.0 1756.9,891.7 1757.2,890.5 1757.6,882.8 1758.0,879.4 1758.3,891.0 1758.7,893.5 1759.0,886.5 1759.4,888.4 1759.8,876.7 1760.1,882.7 1760.5,894.0 1760.9,883.3 1761.2,890.2 1761.6,898.1 1762.0,899.2 1762.3,896.4 1762.7,890.7 1763.0,883.6 1763.4,887.4 1763.8,893.7 1764.1,888.0 1764.5,889.2 1764.9,885.3 1765.2,884.9 1765.6,881.3 1766.0,877.5 1766.3,881.8 1766.7,873.6 1767.0,890.8 1767.4,878.6 1767.8,884.8 1768.1,883.1 1768.5,877.9 1768.9,886.6 1769.2,883.9 1769.6,885.8 1770.0,889.9 1770.3,885.1 1770.7,891.3 1771.0,885.0 1771.4,881.5 1771.8,897.3 1772.1,880.7 1772.5,884.9 1772.9,899.3 1773.2,889.3 1773.6,892.4 1773.9,888.1 1774.3,890.1 1774.7,894.8 1775.0,893.2 1775.4,893.0 1775.8,887.1 1776.1,874.9 1776.5,894.1 1776.9,878.2 1777.2,888.2 1777.6,889.6 1777.9,886.6 1778.3,893.0 1778.7,897.7 1779.0,887.3 1779.4,882.4 1779.8,889.1 1780.1,886.9 1780.5,896.9 1780.9,896.6 1781.2,901.4 1781.6,894.7 1781.9,902.1 1782.3,896.1 1782.7,895.0 1783.0,900.4 1783.4,894.5 1783.8,889.1 1784.1,901.5 1784.5,893.1 1784.9,895.8 1785.2,878.9 1785.6,884.4 1785.9,902.3 1786.3,889.1 1786.7,893.9 1787.0,892.9 1787.4,888.2 1787.8,881.2 1788.1,890.5 1788.5,884.9 1788.8,897.8 1789.2,895.9 1789.6,894.7 1789.9,890.3 1790.3,886.5 1790.7,894.7 1791.0,891.3 1791.4,898.1 1791.8,885.2 1792.1,892.9 1792.5,900.1 1792.8,889.7 1793.2,890.8 1793.6,892.5 1793.9,895.9 1794.3,913.3 1794.7,900.3 1795.0,906.6 1795.4,896.0 1795.8,893.2 1796.1,899.7 1796.5,885.4 1796.8,893.1 1797.2,897.3 1797.6,902.6 1797.9,895.4 1798.3,896.1 1798.7,893.9 1799.0,897.0 1799.4,892.6 1799.7,891.0 1800.1,888.7 1800.5,894.8 1800.8,885.1 1801.2,896.8 1801.6,888.0 1801.9,894.3 1802.3,901.0 1802.7,905.1 1803.0,888.6 1803.4,884.1 1803.7,895.5 1804.1,891.8 1804.5,897.0 1804.8,892.4 1805.2,893.2 1805.6,889.1 1805.9,896.3 1806.3,897.1 1806.7,888.3 1807.0,892.5 1807.4,894.5 1807.7,886.3 1808.1,887.5 1808.5,885.6 1808.8,892.4 1809.2,888.0 1809.6,879.6 1809.9,892.7 1810.3,893.2 1810.7,894.6 1811.0,880.9 1811.4,885.8 1811.7,889.1 1812.1,889.8 1812.5,900.9 1812.8,886.8 1813.2,887.7 1813.6,884.6 1813.9,889.4 1814.3,890.7 1814.6,884.3 1815.0,897.3 1815.4,890.4 1815.7,889.5 1816.1,888.1 1816.5,896.8 1816.8,888.3 1817.2,894.6 1817.6,892.9 1817.9,910.9 1818.3,892.3 1818.6,885.5 1819.0,892.2 1819.4,887.6 1819.7,889.9 1820.1,893.9 1820.5,900.3 1820.8,904.0 1821.2,898.6 1821.6,903.1 1821.9,897.0 1822.3,894.0 1822.6,900.0 1823.0,903.4 1823.4,901.5 1823.7,899.5 1824.1,894.9 1824.5,897.9 1824.8,896.9 1825.2,901.5 1825.6,907.1 1825.9,902.0 1826.3,902.8 1826.6,893.6 1827.0,900.9 1827.4,897.2 1827.7,897.2 1828.1,895.3 1828.5,897.9 1828.8,892.0 1829.2,892.1 1829.5,889.5 1829.9,888.6 1830.3,888.9 1830.6,885.4 1831.0,888.6 1831.4,892.3 1831.7,890.3 1832.1,888.8 1832.5,890.8 1832.8,898.2 1833.2,897.7 1833.5,892.2 1833.9,892.8 1834.3,894.0 1834.6,892.5 1835.0,885.1" fill="none" stroke="#1467b3" stroke-width="1" stroke-linejoin="round"/>
<line x1="1508.3" y1="872.4" x2="1835.0" y2="894.4" stroke="#e8452c" stroke-width="1"/>
<rect x="1508.3" y="842.0" width="326.7" height="433.5" fill="none" stroke="#5c5c5c" stroke-width="1"/>
<line x1="1508.3" y1="911.0" x2="1512.3" y2="911.0" stroke="#5c5c5c" stroke-width="1"/>
<line x1="1835.0" y1="911.0" x2="1831.0" y2="911.0" stroke="#5c5c5c" stroke-width="1"/>
<line x1="1508.3" y1="980.0" x2="1512.3" y2="980.0" stroke="#5c5c5c" stroke-width="1"/>
<line x1="1835.0" y1="980.0" x2="1831.0" y2="980.0" stroke="#5c5c5c" stroke-width="1"/>
<line x1="1508.3" y1="1049.0" x2="1512.3" y2="1049.0" stroke="#5c5c5c" stroke-width="1"/>
<line x1="1835.0" y1="1049.0" x2="1831.0" y2="1049.0" stroke="#5c5c5c" stroke-width="1"/>
<line x1="1508.3" y1="1118.0" x2="1512.3" y2="1118.0" stroke="#5c5c5c" stroke-width="1"/>
<line x1="1835.0" y1="1118.0" x2="1831.0" y2="1118.0" stroke="#5c5c5c" stroke-width="1"/>
<line x1="1508.3" y1="1187.0" x2="1512.3" y2="1187.0" stroke="#5c5c5c" stroke-width="1"/>
<line x1="1835.0" y1="1187.0" x2="1831.0" y2="1187.0" stroke="#5c5c5c" stroke-width="1"/>
<line x1="1508.3" y1="1256.0" x2="1512.3" y2="1256.0" stroke="#5c5c5c" stroke-width="1"/>
<line x1="1835.0" y1="1256.0" x2="1831.0" y2="1256.0" stroke="#5c5c5c" stroke-width="1"/>
<line x1="1671.7" y1="1275.5" x2="1671.7" y2="1271.5" stroke="#5c5c5c" stroke-width="1"/>
<line x1="1671.7" y1="842.0" x2="1671.7" y2="846.0" stroke="#5c5c5c" stroke-width="1"/>
<text x="1505.3" y="1311.1" font-size="32" text-anchor="middle" fill="#484848">0</text>
<text x="1668.1" y="1311.1" font-size="32" text-anchor="middle" fill="#484848" textLength="61.0" lengthAdjust="spacingAndGlyphs">5000</text>
<text x="1830.9" y="1311.1" font-size="32" text-anchor="middle" fill="#484848" textLength="76.0" lengthAdjust="spacingAndGlyphs">10000</text>
<text x="167.0" y="932.0" font-size="52" text-anchor="end" fill="#484848" textLength="81.0" lengthAdjust="spacingAndGlyphs">-0.5</text>
<text x="167.0" y="1070.0" font-size="52" text-anchor="end" fill="#484848" textLength="81.0" lengthAdjust="spacingAndGlyphs">-1.5</text>
<text x="167.0" y="1208.0" font-size="52" text-anchor="end" fill="#484848" textLength="81.0" lengthAdjust="spacingAndGlyphs">-2.5</text>
<line x1="177.2" y1="1579.3" x2="500.3" y2="1579.3" stroke="#ebebeb" stroke-width="1"/>
<line x1="177.2" y1="1647.6" x2="500.3" y2="1647.6" stroke="#ebebeb" stroke-width="1"/>
<line x1="177.2" y1="1715.8" x2="500.3" y2="1715.8" stroke="#ebebeb" stroke-width="1"/>
<line x1="177.2" y1="1784.1" x2="500.3" y2="1784.1" stroke="#ebebeb" stroke-width="1"/>
<line x1="177.2" y1="1852.4" x2="500.3" y2="1852.4" stroke="#ebebeb" stroke-width="1"/>
<line x1="177.2" y1="1920.7" x2="500.3" y2="1920.7" stroke="#ebebeb" stroke-width="1"/>
<line x1="338.8" y1="1511.0" x2="338.8" y2="1940.0" stroke="#ebebeb" stroke-width="1"/>
<polyline points="177.2,1651.2 177.6,1654.6 177.9,1659.1 178.3,1647.9 178.6,1649.4 179.0,1660.0 179.4,1654.6 179.7,1659.0 180.1,1661.6 180.4,1646.8 180.8,1658.1 181.2,1652.5 181.5,1653.4 181.9,1656.2 182.2,1662.8 182.6,1660.1 183.0,1653.7 183.3,1652.5 183.7,1667.7 184.0,1660.4 184.4,1656.5 184.7,1648.5 185.1,1652.6 185.5,1650.1 185.8,1651.0 186.2,1657.0 186.5,1654.2 186.9,1648.9 187.3,1654.5 187.6,1660.5 188.0,1647.0 188.3,1652.1 188.7,1652.4 189.1,1647.0 189.4,1658.7 189.8,1659.7 190.1,1668.8 190.5,1656.9 190.9,1653.4 191.2,1653.2 191.6,1653.1 191.9,1647.9 192.3,1653.0 192.7,1652.7 193.0,1655.4 193.4,1654.9 193.7,1648.1 194.1,1654.3 194.5,1656.1 194.8,1655.0 195.2,1654.5 195.5,1651.0 195.9,1651.4 196.2,1656.7 196.6,1657.8 197.0,1662.5 197.3,1649.6 197.7,1658.6 198.0,1655.6 198.4,1649.5 198.8,1652.4 199.1,1657.8 199.5,1651.4 199.8,1658.0 200.2,1655.6 200.6,1649.6 200.9,1651.1 201.3,1641.4 201.6,1662.7 202.0,1657.0 202.4,1656.0 202.7,1653.7 203.1,1660.3 203.4,1652.7 203.8,1657.1 204.2,1657.2 204.5,1655.2 204.9,1651.1 205.2,1652.2 205.6,1653.7 206.0,1652.8 206.3,1651.4 206.7,1655.7 207.0,1652.1 207.4,1665.7 207.7,1662.7 208.1,1647.1 208.5,1652.6 208.8,1649.5 209.2,1654.7 209.5,1646.1 209.9,1651.0 210.3,1650.6 210.6,1645.2 211.0,1658.4 211.3,1653.4 211.7,1663.4 212.1,1655.2 212.4,1661.6 212.8,1651.1 213.1,1667.1 213.5,1651.2 213.9,1664.0 214.2,1669.6 214.6,1659.7 214.9,1658.1 215.3,1664.0 215.7,1666.0 216.0,1672.5 216.4,1660.7 216.7,1655.6 217.1,1666.1 217.5,1655.5 217.8,1647.5 218.2,1662.8 218.5,1651.1 218.9,1654.7 219.2,1659.6 219.6,1657.7 220.0,1665.5 220.3,1658.4 220.7,1654.5 221.0,1660.9 221.4,1660.1 221.8,1666.4 222.1,1648.6 222.5,1648.1 222.8,1659.8 223.2,1655.6 223.6,1663.1 223.9,1650.7 224.3,1663.5 224.6,1652.6 225.0,1666.3 225.4,1648.8 225.7,1652.7 226.1,1642.1 226.4,1648.1 226.8,1654.4 227.2,1653.1 227.5,1656.8 227.9,1643.6 228.2,1647.9 228.6,1659.9 229.0,1656.4 229.3,1649.7 229.7,1663.0 230.0,1654.1 230.4,1653.0 230.8,1650.2 231.1,1655.8 231.5,1654.3 231.8,1655.8 232.2,1655.9 232.5,1660.2 232.9,1654.6 233.3,1657.9 233.6,1664.7 234.0,1659.1 234.3,1661.4 234.7,1668.8 235.1,1656.3 235.4,1653.8 235.8,1663.9 236.1,1652.3 236.5,1650.2 236.9,1657.2 237.2,1649.5 237.6,1650.7 237.9,1655.3 238.3,1666.6 238.7,1668.6 239.0,1661.0 239.4,1652.9 239.7,1663.4 240.1,1671.8 240.5,1653.2 240.8,1656.1 241.2,1653.2 241.5,1660.9 241.9,1653.3 242.3,1658.7 242.6,1662.2 243.0,1659.1 243.3,1658.4 243.7,1660.4 244.0,1650.3 244.4,1671.9 244.8,1652.4 245.1,1659.2 245.5,1656.6 245.8,1657.4 246.2,1667.4 246.6,1661.4 246.9,1654.4 247.3,1663.3 247.6,1652.1 248.0,1648.9 248.4,1657.7 248.7,1656.8 249.1,1652.7 249.4,1660.1 249.8,1647.0 250.2,1654.7 250.5,1660.4 250.9,1664.4 251.2,1661.8 251.6,1663.9 252.0,1657.0 252.3,1663.1 252.7,1653.2 253.0,1647.3 253.4,1663.6 253.8,1668.6 254.1,1651.8 254.5,1653.6 254.8,1659.9 255.2,1655.9 255.5,1655.5 255.9,1649.0 256.3,1655.5 256.6,1651.9 257.0,1652.3 257.3,1650.2 257.7,1652.4 258.1,1656.9 258.4,1658.2 258.8,1646.7 259.1,1654.4 259.5,1651.7 259.9,1652.6 260.2,1650.5 260.6,1646.2 260.9,1653.8 261.3,1649.3 261.7,1650.5 262.0,1652.3 262.4,1658.4 262.7,1655.5 263.1,1649.4 263.5,1653.7 263.8,1658.1 264.2,1659.0 264.5,1664.3 264.9,1664.7 265.3,1659.5 265.6,1661.1 266.0,1665.3 266.3,1653.0 266.7,1650.9 267.0,1655.9 267.4,1658.1 267.8,1648.3 268.1,1657.1 268.5,1673.1 268.8,1659.8 269.2,1663.1 269.6,1661.8 269.9,1655.0 270.3,1647.0 270.6,1660.3 271.0,1648.2 271.4,1651.8 271.7,1650.8 272.1,1650.7 272.4,1651.4 272.8,1655.2 273.2,1657.4 273.5,1651.4 273.9,1642.8 274.2,1658.4 274.6,1654.6 275.0,1648.1 275.3,1653.1 275.7,1666.7 276.0,1650.9 276.4,1678.0 276.8,1653.2 277.1,1651.1 277.5,1656.8 277.8,1648.8 278.2,1658.3 278.6,1661.5 278.9,1657.8 279.3,1655.9 279.6,1650.7 280.0,1657.6 280.3,1657.7 280.7,1640.4 281.1,1648.7 281.4,1642.5 281.8,1646.2 282.1,1645.1 282.5,1655.7 282.9,1649.4 283.2,1668.0 283.6,1662.4 283.9,1655.2 284.3,1659.7 284.7,1660.5 285.0,1656.1 285.4,1672.3 285.7,1660.6 286.1,1667.1 286.5,1674.5 286.8,1658.8 287.2,1658.2 287.5,1666.7 287.9,1655.0 288.3,1652.8 288.6,1649.6 289.0,1652.9 289.3,1659.0 289.7,1668.3 290.1,1660.2 290.4,1657.6 290.8,1657.4 291.1,1656.8 291.5,1658.3 291.8,1657.5 292.2,1660.3 292.6,1659.9 292.9,1655.8 293.3,1652.5 293.6,1660.9 294.0,1658.1 294.4,1656.7 294.7,1653.2 295.1,1657.3 295.4,1646.1 295.8,1655.4 296.2,1658.6 296.5,1657.2 296.9,1658.6 297.2,1656.5 297.6,1655.9 298.0,1651.8 298.3,1652.8 298.7,1657.7 299.0,1662.0 299.4,1655.2 299.8,1659.9 300.1,1654.6 300.5,1651.9 300.8,1655.1 301.2,1643.9 301.6,1655.4 301.9,1656.5 302.3,1656.6 302.6,1652.1 303.0,1663.3 303.3,1658.8 303.7,1662.2 304.1,1671.3 304.4,1666.6 304.8,1661.4 305.1,1657.5 305.5,1664.9 305.9,1656.8 306.2,1666.1 306.6,1661.5 306.9,1664.8 307.3,1656.9 307.7,1654.0 308.0,1653.2 308.4,1647.1 308.7,1653.8 309.1,1642.3 309.5,1649.8 309.8,1652.1 310.2,1650.4 310.5,1650.7 310.9,1657.0 311.3,1656.1 311.6,1643.9 312.0,1650.5 312.3,1649.1 312.7,1641.1 313.1,1648.8 313.4,1657.4 313.8,1650.8 314.1,1657.2 314.5,1647.3 314.8,1649.4 315.2,1649.3 315.6,1659.9 315.9,1663.6 316.3,1649.4 316.6,1648.7 317.0,1654.0 317.4,1654.7 317.7,1652.9 318.1,1653.4 318.4,1650.7 318.8,1660.7 319.2,1653.4 319.5,1648.2 319.9,1652.0 320.2,1652.9 320.6,1655.6 321.0,1645.5 321.3,1645.1 321.7,1656.9 322.0,1641.1 322.4,1651.6 322.8,1653.1 323.1,1661.2 323.5,1660.4 323.8,1651.9 324.2,1656.4 324.6,1668.4 324.9,1661.1 325.3,1660.9 325.6,1665.4 326.0,1652.6 326.4,1655.4 326.7,1661.5 327.1,1665.4 327.4,1657.6 327.8,1658.6 328.1,1657.7 328.5,1659.9 328.9,1653.3 329.2,1655.6 329.6,1649.8 329.9,1653.5 330.3,1661.0 330.7,1658.1 331.0,1661.6 331.4,1657.7 331.7,1664.0 332.1,1656.1 332.5,1666.0 332.8,1653.6 333.2,1655.1 333.5,1652.8 333.9,1659.9 334.3,1655.0 334.6,1652.0 335.0,1657.6 335.3,1656.1 335.7,1658.1 336.1,1668.3 336.4,1656.9 336.8,1661.1 337.1,1655.4 337.5,1654.4 337.9,1646.6 338.2,1654.0 338.6,1643.7 338.9,1647.5 339.3,1662.8 339.6,1652.8 340.0,1647.7 340.4,1654.2 340.7,1653.3 341.1,1651.0 341.4,1660.4 341.8,1653.8 342.2,1656.6 342.5,1649.6 342.9,1664.4 343.2,1652.4 343.6,1660.2 344.0,1655.2 344.3,1652.1 344.7,1650.9 345.0,1655.0 345.4,1658.0 345.8,1663.2 346.1,1653.7 346.5,1658.1 346.8,1662.7 347.2,1657.5 347.6,1656.9 347.9,1656.4 348.3,1657.7 348.6,1651.2 349.0,1646.0 349.4,1638.9 349.7,1657.2 350.1,1671.2 350.4,1656.0 350.8,1670.9 351.1,1664.1 351.5,1655.5 351.9,1650.5 352.2,1653.2 352.6,1646.8 352.9,1643.7 353.3,1657.1 353.7,1668.7 354.0,1662.2 354.4,1649.8 354.7,1636.2 355.1,1649.3 355.5,1674.6 355.8,1665.0 356.2,1667.5 356.5,1671.6 356.9,1666.3 357.3,1659.2 357.6,1665.5 358.0,1656.5 358.3,1641.9 358.7,1667.5 359.1,1650.1 359.4,1644.0 359.8,1660.8 360.1,1653.7 360.5,1667.6 360.9,1664.5 361.2,1644.6 361.6,1648.1 361.9,1644.1 362.3,1660.3 362.7,1657.2 363.0,1657.1 363.4,1665.1 363.7,1657.2 364.1,1660.6 364.4,1655.1 364.8,1670.5 365.2,1656.0 365.5,1667.8 365.9,1662.6 366.2,1654.9 366.6,1656.6 367.0,1653.9 367.3,1655.3 367.7,1651.0 368.0,1664.7 368.4,1672.6 368.8,1663.1 369.1,1672.0 369.5,1658.8 369.8,1668.4 370.2,1660.9 370.6,1658.9 370.9,1647.8 371.1,1636.6 371.4,1630.9 371.7,1683.6 372.0,1669.3 372.4,1704.6 372.7,1698.0 373.0,1631.6 373.3,1686.6 373.6,1627.4 374.0,1659.7 374.3,1620.7 374.6,1618.4 374.9,1679.9 375.3,1612.7 375.6,1617.8 375.9,1679.8 376.2,1622.3 376.6,1634.8 376.9,1752.4 377.2,1728.2 377.5,1511.0 377.8,1940.0 378.2,1940.0 378.5,1934.8 378.8,1511.0 379.1,1940.0 379.5,1940.0 379.8,1813.0 380.1,1807.3 380.4,1511.0 380.8,1511.0 381.1,1634.3 381.4,1511.0 381.7,1654.3 382.0,1511.0 382.4,1773.9 382.7,1865.4 383.0,1868.2 383.3,1670.4 383.7,1511.0 384.0,1908.2 384.3,1850.8 384.6,1511.0 385.0,1511.0 385.3,1940.0 385.6,1511.0 385.9,1511.0 386.2,1849.3 386.6,1511.0 386.9,1940.0 387.2,1511.0 387.5,1511.0 387.9,1836.9 388.2,1511.0 388.5,1813.1 388.8,1511.0 389.2,1940.0 389.5,1940.0 389.8,1511.0 390.1,1511.0 390.4,1511.0 390.8,1798.2 391.1,1794.8 391.4,1914.1 391.7,1863.7 392.1,1511.0 392.4,1802.6 392.7,1763.7 393.0,1511.0 393.4,1686.9 393.7,1640.7 394.0,1696.7 394.3,1705.8 394.6,1642.3 395.0,1635.0 395.3,1644.1 395.6,1641.5 395.9,1637.9 396.3,1689.1 396.6,1648.0 397.2,1657.9 397.5,1664.0 397.9,1653.1 398.2,1678.9 398.6,1663.1 398.9,1657.7 399.3,1659.7 399.7,1662.8 400.0,1655.4 400.4,1667.5 400.7,1653.2 401.1,1661.4 401.5,1657.4 401.8,1649.1 402.2,1646.2 402.5,1645.6 402.9,1657.0 403.3,1635.2 403.6,1649.1 404.0,1638.3 404.3,1648.0 404.7,1655.5 405.1,1649.0 405.4,1655.4 405.8,1655.2 406.1,1658.9 406.5,1656.4 406.9,1653.0 407.2,1661.1 407.6,1656.2 407.9,1662.5 408.3,1662.0 408.7,1664.5 409.0,1654.9 409.4,1657.2 409.7,1661.3 410.1,1655.9 410.5,1647.3 410.8,1647.7 411.2,1649.2 411.5,1653.3 411.9,1652.2 412.2,1653.9 412.6,1649.7 413.0,1655.5 413.3,1648.2 413.7,1654.6 414.0,1651.7 414.4,1648.9 414.8,1664.1 415.1,1660.5 415.5,1649.9 415.8,1656.5 416.2,1658.5 416.6,1647.3 416.9,1647.6 417.3,1650.6 417.6,1654.0 418.0,1650.9 418.4,1657.7 418.7,1647.5 419.1,1660.1 419.4,1657.9 419.8,1659.4 420.2,1653.6 420.5,1647.5 420.9,1654.6 421.2,1649.5 421.6,1652.4 422.0,1655.3 422.3,1662.9 422.7,1661.8 423.0,1664.7 423.4,1658.6 423.7,1657.4 424.1,1657.1 424.5,1672.6 424.8,1653.7 425.2,1658.6 425.5,1650.2 425.9,1658.6 426.3,1661.5 426.6,1648.8 427.0,1665.4 427.3,1653.1 427.7,1650.9 428.1,1651.7 428.4,1663.5 428.8,1654.7 429.1,1654.0 429.5,1657.2 429.9,1655.1 430.2,1661.8 430.6,1657.8 430.9,1655.3 431.3,1664.5 431.7,1662.9 432.0,1652.4 432.4,1651.0 432.7,1651.9 433.1,1652.0 433.5,1657.0 433.8,1658.4 434.2,1650.9 434.5,1649.2 434.9,1651.6 435.2,1659.3 435.6,1655.8 436.0,1649.2 436.3,1639.9 436.7,1651.7 437.0,1645.3 437.4,1650.7 437.8,1650.3 438.1,1651.6 438.5,1658.9 438.8,1654.3 439.2,1647.6 439.6,1661.5 439.9,1657.7 440.3,1652.7 440.6,1654.2 441.0,1653.6 441.4,1661.5 441.7,1647.3 442.1,1654.6 442.4,1653.1 442.8,1652.8 443.2,1662.3 443.5,1655.3 443.9,1661.2 444.2,1660.1 444.6,1653.5 445.0,1652.6 445.3,1659.3 445.7,1660.6 446.0,1658.6 446.4,1649.9 446.7,1655.8 447.1,1665.9 447.5,1648.8 447.8,1652.1 448.2,1660.9 448.5,1661.8 448.9,1656.0 449.3,1650.4 449.6,1656.0 450.0,1664.5 450.3,1647.5 450.7,1643.3 451.1,1657.5 451.4,1656.5 451.8,1659.0 452.1,1660.9 452.5,1661.0 452.9,1658.0 453.2,1653.5 453.6,1657.5 453.9,1667.1 454.3,1661.3 454.7,1657.0 455.0,1653.7 455.4,1652.7 455.7,1647.9 456.1,1650.9 456.5,1664.1 456.8,1658.6 457.2,1653.0 457.5,1652.1 457.9,1658.2 458.3,1653.8 458.6,1655.4 459.0,1659.2 459.3,1663.3 459.7,1651.5 460.0,1661.8 460.4,1659.9 460.8,1653.3 461.1,1660.4 461.5,1668.3 461.8,1658.7 462.2,1666.2 462.6,1665.9 462.9,1662.6 463.3,1657.6 463.6,1648.6 464.0,1657.9 464.4,1656.8 464.7,1650.9 465.1,1638.4 465.4,1643.8 465.8,1656.1 466.2,1652.5 466.5,1654.9 466.9,1652.8 467.2,1653.2 467.6,1652.9 468.0,1649.9 468.3,1641.6 468.7,1657.8 469.0,1659.1 469.4,1651.6 469.8,1658.9 470.1,1657.1 470.5,1662.3 470.8,1659.7 471.2,1659.9 471.5,1662.5 471.9,1660.8 472.3,1654.2 472.6,1664.3 473.0,1662.9 473.3,1657.6 473.7,1671.0 474.1,1657.1 474.4,1651.7 474.8,1650.6 475.1,1655.8 475.5,1660.9 475.9,1665.9 476.2,1657.7 476.6,1654.9 476.9,1656.5 477.3,1666.5 477.7,1657.9 478.0,1653.5 478.4,1656.0 478.7,1670.0 479.1,1660.6 479.5,1664.4 479.8,1653.0 480.2,1649.0 480.5,1658.2 480.9,1662.7 481.3,1659.8 481.6,1652.0 482.0,1655.8 482.3,1655.2 482.7,1662.6 483.0,1652.2 483.4,1658.6 483.8,1655.1 484.1,1651.4 484.5,1654.6 484.8,1647.5 485.2,1656.3 485.6,1657.1 485.9,1667.8 486.3,1660.3 486.6,1668.7 487.0,1655.2 487.4,1663.3 487.7,1658.4 488.1,1662.7 488.4,1662.1 488.8,1662.5 489.2,1659.2 489.5,1650.5 489.9,1657.1 490.2,1651.8 490.6,1645.2 491.0,1645.0 491.3,1653.4 491.7,1658.3 492.0,1661.2 492.4,1647.4 492.8,1658.0 493.1,1649.8 493.5,1647.9 493.8,1652.3 494.2,1643.6 494.5,1659.9 494.9,1655.9 495.3,1653.2 495.6,1654.3 496.0,1661.9 496.3,1650.9 496.7,1653.8 497.1,1652.1 497.4,1660.2 497.8,1659.9 498.1,1659.9 498.5,1653.0 498.9,1656.5 499.2,1653.1 499.6,1646.4 499.9,1648.8 500.3,1653.9" fill="none" stroke="#1467b3" stroke-width="1" stroke-linejoin="round"/>
<line x1="177.2" y1="1654.4" x2="500.3" y2="1655.7" stroke="#e8452c" stroke-width="1"/>
<rect x="177.2" y="1511.0" width="323.1" height="429.0" fill="none" stroke="#5c5c5c" stroke-width="1"/>
<line x1="177.2" y1="1579.3" x2="181.2" y2="1579.3" stroke="#5c5c5c" stroke-width="1"/>
<line x1="500.3" y1="1579.3" x2="496.3" y2="1579.3" stroke="#5c5c5c" stroke-width="1"/>
<line x1="177.2" y1="1647.6" x2="181.2" y2="1647.6" stroke="#5c5c5c" stroke-width="1"/>
<line x1="500.3" y1="1647.6" x2="496.3" y2="1647.6" stroke="#5c5c5c" stroke-width="1"/>
<line x1="177.2" y1="1715.8" x2="181.2" y2="1715.8" stroke="#5c5c5c" stroke-width="1"/>
<line x1="500.3" y1="1715.8" x2="496.3" y2="1715.8" stroke="#5c5c5c" stroke-width="1"/>
<line x1="177.2" y1="1784.1" x2="181.2" y2="1784.1" stroke="#5c5c5c" stroke-width="1"/>
<line x1="500.3" y1="1784.1" x2="496.3" y2="1784.1" stroke="#5c5c5c" stroke-width="1"/>
<line x1="177.2" y1="1852.4" x2="181.2" y2="1852.4" stroke="#5c5c5c" stroke-width="1"/>
<line x1="500.3" y1="1852.4" x2="496.3" y2="1852.4" stroke="#5c5c5c" stroke-width="1"/>
<line x1="177.2" y1="1920.7" x2="181.2" y2="1920.7" stroke="#5c5c5c" stroke-width="1"/>
<line x1="500.3" y1="1920.7" x2="496.3" y2="1920.7" stroke="#5c5c5c" stroke-width="1"/>
<line x1="338.8" y1="1940.0" x2="338.8" y2="1936.0" stroke="#5c5c5c" stroke-width="1"/>
<line x1="338.8" y1="1511.0" x2="338.8" y2="1515.0" stroke="#5c5c5c" stroke-width="1"/>
<text x="171.9" y="1971.8" font-size="32" text-anchor="middle" fill="#484848">0</text>
<text x="334.5" y="1971.8" font-size="32" text-anchor="middle" fill="#484848" textLength="61.0" lengthAdjust="spacingAndGlyphs">5000</text>
<text x="497.1" y="1971.8" font-size="32" text-anchor="middle" fill="#484848" textLength="76.0" lengthAdjust="spacingAndGlyphs">10000</text>
<line x1="616.5" y1="1579.3" x2="940.8" y2="1579.3" stroke="#ebebeb" stroke-width="1"/>
<line x1="616.5" y1="1647.6" x2="940.8" y2="1647.6" stroke="#ebebeb" stroke-width="1"/>
<line x1="616.5" y1="1715.8" x2="940.8" y2="1715.8" stroke="#ebebeb" stroke-width="1"/>
<line x1="616.5" y1="1784.1" x2="940.8" y2="1784.1" stroke="#ebebeb" stroke-width="1"/>
<line x1="616.5" y1="1852.4" x2="940.8" y2="1852.4" stroke="#ebebeb" stroke-width="1"/>
<line x1="616.5" y1="1920.7" x2="940.8" y2="1920.7" stroke="#ebebeb" stroke-width="1"/>
<line x1="778.6" y1="1511.0" x2="778.6" y2="1940.0" stroke="#ebebeb" stroke-width="1"/>
<polyline points="616.5,1637.2 616.9,1636.2 617.2,1642.4 617.6,1629.9 617.9,1634.4 618.3,1640.2 618.7,1635.1 619.0,1638.4 619.4,1640.1 619.7,1629.5 620.1,1627.3 620.5,1638.2 620.8,1633.1 621.2,1636.0 621.6,1644.2 621.9,1632.4 622.3,1627.6 622.6,1632.5 623.0,1632.8 623.4,1633.5 623.7,1637.5 624.1,1636.2 624.4,1635.1 624.8,1631.7 625.2,1632.2 625.5,1638.4 625.9,1629.9 626.2,1635.3 626.6,1640.4 627.0,1629.6 627.3,1635.9 627.7,1629.3 628.0,1629.2 628.4,1630.6 628.8,1626.2 629.1,1637.2 629.5,1625.5 629.8,1626.2 630.2,1637.5 630.6,1632.1 630.9,1632.0 631.3,1641.9 631.7,1633.1 632.0,1630.0 632.4,1632.6 632.7,1628.8 633.1,1628.2 633.5,1628.9 633.8,1632.1 634.2,1632.8 634.5,1631.8 634.9,1632.2 635.3,1632.8 635.6,1631.5 636.0,1629.6 636.3,1637.1 636.7,1630.1 637.1,1627.5 637.4,1637.0 637.8,1635.5 638.1,1638.5 638.5,1639.6 638.9,1640.7 639.2,1641.3 639.6,1632.8 639.9,1627.4 640.3,1639.6 640.7,1627.2 641.0,1635.7 641.4,1640.2 641.8,1642.5 642.1,1637.3 642.5,1636.2 642.8,1634.1 643.2,1634.2 643.6,1632.5 643.9,1622.6 644.3,1625.4 644.6,1633.8 645.0,1633.0 645.4,1627.4 645.7,1637.4 646.1,1636.5 646.4,1642.4 646.8,1636.1 647.2,1637.4 647.5,1633.0 647.9,1647.0 648.2,1647.6 648.6,1653.9 649.0,1641.2 649.3,1645.5 649.7,1644.7 650.0,1651.9 650.4,1641.7 650.8,1635.1 651.1,1640.3 651.5,1631.1 651.9,1637.2 652.2,1639.9 652.6,1633.7 652.9,1627.8 653.3,1628.8 653.7,1638.6 654.0,1635.4 654.4,1635.7 654.7,1626.1 655.1,1636.6 655.5,1639.3 655.8,1650.6 656.2,1648.2 656.5,1630.3 656.9,1636.0 657.3,1642.6 657.6,1636.7 658.0,1634.5 658.3,1641.5 658.7,1641.3 659.1,1628.9 659.4,1635.9 659.8,1638.4 660.1,1630.1 660.5,1637.0 660.9,1627.3 661.2,1628.9 661.6,1631.3 662.0,1631.3 662.3,1636.4 662.7,1638.3 663.0,1629.2 663.4,1631.3 663.8,1638.3 664.1,1631.6 664.5,1632.4 664.8,1620.8 665.2,1633.2 665.6,1642.4 665.9,1635.0 666.3,1634.0 666.6,1643.3 667.0,1629.9 667.4,1640.2 667.7,1640.1 668.1,1633.9 668.4,1640.1 668.8,1628.6 669.2,1642.9 669.5,1641.4 669.9,1641.0 670.2,1643.2 670.6,1633.0 671.0,1636.7 671.3,1637.3 671.7,1660.2 672.1,1636.7 672.4,1641.4 672.8,1626.3 673.1,1637.3 673.5,1641.8 673.9,1637.5 674.2,1637.2 674.6,1645.0 674.9,1638.3 675.3,1639.9 675.7,1638.7 676.0,1638.5 676.4,1637.3 676.7,1638.0 677.1,1631.2 677.5,1639.5 677.8,1636.9 678.2,1633.6 678.5,1633.6 678.9,1636.4 679.3,1641.4 679.6,1637.0 680.0,1635.4 680.3,1631.8 680.7,1635.8 681.1,1635.8 681.4,1635.2 681.8,1641.7 682.2,1632.4 682.5,1636.1 682.9,1636.8 683.2,1630.0 683.6,1642.6 684.0,1636.9 684.3,1639.2 684.7,1646.1 685.0,1632.6 685.4,1644.0 685.8,1643.2 686.1,1644.6 686.5,1639.0 686.8,1639.9 687.2,1643.2 687.6,1634.1 687.9,1630.6 688.3,1638.0 688.6,1634.6 689.0,1639.2 689.4,1623.8 689.7,1641.3 690.1,1638.2 690.5,1646.7 690.8,1634.9 691.2,1637.7 691.5,1637.5 691.9,1634.4 692.3,1634.4 692.6,1638.5 693.0,1639.0 693.3,1638.0 693.7,1634.8 694.1,1635.5 694.4,1644.5 694.8,1636.6 695.1,1635.0 695.5,1631.4 695.9,1640.5 696.2,1634.9 696.6,1637.1 696.9,1639.3 697.3,1642.9 697.7,1644.1 698.0,1637.7 698.4,1637.9 698.7,1641.9 699.1,1635.1 699.5,1631.6 699.8,1632.3 700.2,1641.7 700.6,1643.2 700.9,1636.4 701.3,1638.0 701.6,1632.2 702.0,1630.0 702.4,1638.3 702.7,1653.6 703.1,1630.2 703.4,1643.9 703.8,1634.2 704.2,1642.7 704.5,1637.6 704.9,1634.3 705.2,1634.2 705.6,1642.7 706.0,1628.7 706.3,1636.3 706.7,1644.8 707.0,1632.6 707.4,1635.3 707.8,1639.9 708.1,1642.7 708.5,1639.9 708.8,1636.0 709.2,1629.8 709.6,1637.6 709.9,1644.7 710.3,1635.6 710.7,1643.8 711.0,1632.5 711.4,1642.6 711.7,1641.6 712.1,1638.0 712.5,1642.9 712.8,1637.1 713.2,1633.2 713.5,1634.0 713.9,1633.4 714.3,1630.9 714.6,1630.7 715.0,1637.3 715.3,1646.5 715.7,1644.5 716.1,1632.8 716.4,1653.4 716.8,1633.4 717.1,1637.1 717.5,1628.7 717.9,1640.9 718.2,1633.5 718.6,1639.2 718.9,1650.3 719.3,1640.7 719.7,1647.6 720.0,1634.4 720.4,1641.2 720.8,1641.9 721.1,1639.7 721.5,1647.2 721.8,1636.2 722.2,1637.6 722.6,1637.8 722.9,1637.4 723.3,1646.6 723.6,1634.7 724.0,1641.8 724.4,1645.8 724.7,1635.5 725.1,1632.6 725.4,1638.6 725.8,1636.5 726.2,1637.2 726.5,1640.9 726.9,1640.2 727.2,1642.4 727.6,1632.1 728.0,1637.9 728.3,1637.9 728.7,1637.2 729.0,1632.3 729.4,1632.0 729.8,1639.4 730.1,1649.8 730.5,1636.5 730.9,1630.9 731.2,1632.7 731.6,1631.8 731.9,1636.0 732.3,1638.5 732.7,1636.8 733.0,1635.3 733.4,1645.8 733.7,1638.6 734.1,1635.6 734.5,1637.2 734.8,1636.7 735.2,1638.7 735.5,1643.7 735.9,1636.4 736.3,1640.7 736.6,1646.2 737.0,1644.6 737.3,1643.0 737.7,1647.8 738.1,1629.7 738.4,1630.5 738.8,1642.4 739.1,1649.7 739.5,1651.3 739.9,1641.2 740.2,1634.2 740.6,1632.5 741.0,1641.8 741.3,1638.9 741.7,1630.2 742.0,1640.5 742.4,1639.5 742.8,1646.1 743.1,1640.6 743.5,1636.1 743.8,1642.8 744.2,1647.5 744.6,1643.9 744.9,1645.1 745.3,1645.4 745.6,1643.8 746.0,1651.0 746.4,1643.1 746.7,1638.2 747.1,1651.7 747.4,1648.2 747.8,1639.4 748.2,1624.8 748.5,1632.2 748.9,1636.4 749.3,1636.8 749.6,1646.4 750.0,1642.2 750.3,1644.8 750.7,1641.0 751.1,1642.7 751.4,1640.8 751.8,1640.3 752.1,1640.9 752.5,1644.3 752.9,1627.2 753.2,1628.7 753.6,1638.0 753.9,1644.8 754.3,1638.0 754.7,1658.3 755.0,1635.2 755.4,1641.1 755.7,1640.4 756.1,1635.3 756.5,1643.1 756.8,1631.7 757.2,1635.2 757.5,1647.8 757.9,1633.8 758.3,1641.4 758.6,1632.0 759.0,1637.4 759.4,1636.0 759.7,1643.5 760.1,1638.2 760.4,1634.5 760.8,1637.4 761.2,1633.4 761.5,1640.2 761.9,1633.6 762.2,1633.7 762.6,1650.1 763.0,1643.4 763.3,1647.8 763.7,1645.1 764.0,1643.4 764.4,1635.3 764.8,1637.8 765.1,1640.6 765.5,1637.2 765.8,1634.2 766.2,1641.2 766.6,1637.6 766.9,1632.4 767.3,1636.0 767.6,1644.6 768.0,1640.9 768.4,1638.2 768.7,1644.2 769.1,1641.3 769.5,1644.4 769.8,1641.0 770.2,1642.2 770.5,1635.3 770.9,1646.1 771.3,1644.5 771.6,1644.7 772.0,1646.9 772.3,1642.1 772.7,1648.5 773.1,1636.9 773.4,1648.4 773.8,1645.6 774.1,1639.9 774.5,1644.6 774.9,1635.3 775.2,1623.5 775.6,1629.8 775.9,1630.5 776.3,1624.7 776.7,1636.0 777.0,1634.6 777.4,1632.7 777.7,1634.4 778.1,1635.6 778.5,1634.8 778.8,1636.2 779.2,1635.4 779.6,1637.8 779.9,1635.5 780.3,1632.0 780.6,1642.0 781.0,1648.4 781.4,1648.4 781.7,1643.9 782.1,1634.6 782.4,1635.2 782.8,1661.1 783.2,1648.2 783.5,1639.0 783.9,1632.9 784.2,1638.2 784.6,1635.9 785.0,1641.8 785.3,1631.5 785.7,1658.9 786.0,1637.3 786.4,1645.8 786.8,1645.8 787.1,1639.8 787.5,1638.0 787.8,1644.2 788.2,1644.9 788.6,1641.5 788.9,1634.4 789.3,1636.0 789.7,1631.7 790.0,1633.4 790.4,1632.3 790.7,1643.9 791.1,1648.8 791.5,1645.5 791.8,1639.9 792.2,1642.6 792.5,1637.9 792.9,1629.0 793.3,1635.2 793.6,1631.9 794.0,1630.8 794.3,1631.1 794.7,1633.5 795.1,1632.1 795.4,1629.3 795.8,1643.1 796.1,1628.7 796.5,1646.1 796.9,1643.7 797.2,1637.1 797.6,1646.8 797.9,1640.2 798.3,1640.9 798.7,1637.3 799.0,1633.2 799.4,1632.8 799.8,1643.2 800.1,1635.6 800.5,1640.9 800.8,1637.9 801.2,1638.8 801.6,1638.9 801.9,1643.1 802.3,1637.8 802.6,1651.6 803.0,1643.3 803.4,1644.1 803.7,1638.9 804.1,1642.7 804.4,1641.1 804.8,1639.6 805.2,1635.6 805.5,1638.7 805.9,1637.2 806.2,1643.0 806.6,1644.9 807.0,1645.6 807.3,1638.3 807.7,1645.1 808.0,1630.0 808.4,1643.4 808.8,1647.3 809.1,1637.9 809.5,1637.3 809.9,1641.9 810.2,1645.0 810.6,1642.4 810.9,1649.5 811.3,1640.6 811.7,1634.2 812.0,1648.8 812.4,1635.8 812.7,1632.7 813.1,1631.0 813.5,1639.1 813.8,1641.5 814.2,1640.5 814.5,1641.3 814.9,1647.7 815.3,1649.7 815.6,1647.4 816.0,1641.5 816.3,1638.8 816.7,1646.9 817.1,1641.4 817.4,1646.2 817.8,1634.5 818.2,1645.3 818.5,1639.7 818.9,1631.3 819.2,1623.3 819.6,1634.4 820.0,1633.5 820.3,1634.7 820.7,1631.3 821.0,1639.8 821.4,1627.2 821.8,1636.6 822.1,1650.3 822.5,1639.3 822.8,1639.7 823.2,1642.8 823.6,1637.0 823.9,1640.2 824.3,1642.2 824.6,1629.9 825.0,1638.9 825.4,1654.4 825.7,1635.5 826.1,1636.5 826.4,1638.2 826.8,1639.5 827.2,1644.5 827.5,1645.7 827.9,1641.0 828.3,1637.7 828.6,1641.6 829.0,1638.2 829.3,1637.7 829.7,1641.7 830.1,1638.3 830.4,1644.4 830.8,1659.2 831.1,1635.3 831.5,1635.7 831.9,1642.3 832.2,1630.2 832.6,1637.2 832.9,1636.2 833.3,1644.5 833.7,1647.7 834.0,1645.4 834.4,1639.0 834.7,1636.6 835.1,1642.0 835.5,1639.5 835.8,1648.3 836.2,1646.6 836.5,1635.0 836.9,1639.1 837.3,1640.3 837.6,1644.1 838.0,1648.8 838.4,1646.4 838.7,1647.3 839.1,1646.2 839.4,1641.9 839.8,1639.7 840.2,1642.9 840.5,1641.6 840.9,1644.5 841.2,1638.4 841.6,1641.7 842.0,1634.9 842.3,1642.7 842.7,1645.2 843.0,1649.6 843.4,1651.5 843.8,1642.3 844.1,1639.4 844.5,1639.4 844.8,1649.1 845.2,1638.0 845.6,1630.9 845.9,1635.0 846.3,1645.4 846.6,1635.7 847.0,1636.8 847.4,1633.5 847.7,1648.9 848.1,1659.0 848.5,1644.1 848.8,1652.6 849.2,1649.0 849.5,1641.0 849.9,1644.9 850.3,1645.4 850.6,1641.5 851.0,1638.9 851.3,1637.5 851.7,1639.1 852.1,1643.2 852.4,1640.7 852.8,1632.0 853.1,1635.1 853.5,1638.9 853.9,1640.8 854.2,1635.5 854.6,1640.1 854.9,1636.6 855.3,1643.5 855.7,1654.1 856.0,1636.3 856.4,1641.7 856.7,1641.5 857.1,1635.4 857.5,1631.4 857.8,1631.0 858.2,1627.0 858.6,1629.2 858.9,1633.3 859.3,1636.7 859.6,1632.8 860.0,1643.4 860.4,1639.9 860.7,1635.2 861.1,1643.0 861.4,1646.6 861.8,1639.4 862.2,1643.2 862.5,1645.9 862.9,1645.0 863.2,1648.6 863.6,1642.7 864.0,1647.3 864.3,1637.2 864.7,1646.8 865.0,1639.2 865.4,1635.4 865.8,1643.3 866.1,1644.8 866.5,1643.9 866.8,1637.7 867.2,1635.7 867.6,1645.0 867.9,1649.7 868.3,1640.8 868.7,1634.2 869.0,1640.7 869.4,1652.2 869.7,1645.6 870.1,1649.0 870.5,1639.0 870.8,1652.2 871.2,1646.7 871.5,1633.3 871.9,1636.6 872.3,1652.0 872.6,1652.3 873.0,1640.4 873.3,1645.6 873.7,1640.7 874.1,1634.7 874.4,1634.9 874.8,1637.6 875.1,1640.1 875.5,1637.4 875.9,1634.5 876.2,1632.5 876.6,1638.5 877.0,1646.2 877.3,1648.0 877.7,1645.1 878.0,1653.3 878.4,1653.5 878.8,1640.6 879.1,1640.8 879.5,1639.7 879.8,1641.9 880.2,1645.3 880.6,1630.3 880.9,1645.1 881.3,1639.7 881.6,1642.9 882.0,1634.5 882.4,1649.5 882.7,1638.8 883.1,1638.0 883.4,1639.2 883.8,1629.0 884.2,1624.4 884.5,1624.6 884.9,1620.6 885.2,1623.4 885.6,1626.6 886.0,1617.2 886.3,1619.6 886.7,1623.1 887.1,1626.3 887.4,1625.2 887.8,1616.1 888.1,1625.9 888.5,1632.8 888.9,1622.2 889.2,1626.0 889.6,1627.8 889.9,1617.7 890.3,1638.7 890.7,1631.6 891.0,1639.3 891.4,1634.7 891.7,1639.0 892.1,1651.1 892.5,1649.8 892.8,1668.1 893.2,1636.5 893.5,1636.2 893.9,1638.9 894.3,1638.9 894.6,1641.8 895.0,1647.6 895.3,1655.5 895.7,1641.0 896.1,1645.3 896.4,1635.5 896.8,1643.4 897.2,1647.6 897.5,1647.9 897.9,1636.2 898.2,1641.4 898.6,1651.7 899.0,1653.2 899.3,1641.8 899.7,1647.4 900.0,1646.3 900.4,1644.2 900.8,1646.1 901.1,1649.9 901.5,1636.7 901.8,1629.3 902.2,1641.4 902.6,1647.7 902.9,1632.6 903.3,1639.8 903.6,1633.9 904.0,1646.0 904.4,1635.3 904.7,1643.1 905.1,1638.1 905.4,1635.8 905.8,1648.7 906.2,1641.5 906.5,1643.9 906.9,1639.9 907.3,1642.5 907.6,1636.0 908.0,1645.6 908.3,1645.3 908.7,1649.4 909.1,1644.8 909.4,1646.6 909.8,1647.0 910.1,1645.6 910.5,1639.7 910.9,1647.8 911.2,1641.9 911.6,1636.4 911.9,1637.8 912.3,1635.0 912.7,1643.8 913.0,1639.4 913.4,1647.3 913.7,1640.7 914.1,1645.6 914.5,1641.0 914.8,1638.4 915.2,1641.0 915.5,1637.1 915.9,1638.4 916.3,1640.8 916.6,1644.2 917.0,1641.3 917.4,1639.0 917.7,1635.5 918.1,1642.4 918.4,1640.5 918.8,1638.0 919.2,1638.3 919.5,1647.2 919.9,1645.6 920.2,1643.3 920.6,1645.2 921.0,1652.3 921.3,1644.2 921.7,1647.2 922.0,1646.6 922.4,1644.8 922.8,1644.4 923.1,1642.0 923.5,1646.1 923.8,1639.5 924.2,1639.9 924.6,1642.2 924.9,1657.7 925.3,1637.2 925.6,1646.9 926.0,1639.9 926.4,1651.2 926.7,1647.5 927.1,1649.7 927.5,1645.9 927.8,1647.3 928.2,1652.3 928.5,1646.2 928.9,1650.7 929.3,1638.6 929.6,1651.6 930.0,1640.9 930.3,1641.4 930.7,1656.2 931.1,1641.4 931.4,1635.9 931.8,1643.8 932.1,1642.5 932.5,1648.3 932.9,1645.8 933.2,1639.8 933.6,1645.6 933.9,1643.9 934.3,1649.9 934.7,1639.1 935.0,1649.3 935.4,1659.3 935.7,1664.6 936.1,1641.2 936.5,1646.3 936.8,1644.3 937.2,1653.7 937.6,1638.2 937.9,1647.2 938.3,1633.5 938.6,1645.7 939.0,1650.6 939.4,1632.5 939.7,1639.6 940.1,1632.5 940.4,1639.0 940.8,1641.1" fill="none" stroke="#1467b3" stroke-width="1" stroke-linejoin="round"/>
<line x1="616.5" y1="1635.3" x2="940.8" y2="1643.5" stroke="#e8452c" stroke-width="1"/>
<rect x="616.5" y="1511.0" width="324.3" height="429.0" fill="none" stroke="#5c5c5c" stroke-width="1"/>
<line x1="616.5" y1="1579.3" x2="620.5" y2="1579.3" stroke="#5c5c5c" stroke-width="1"/>
<line x1="940.8" y1="1579.3" x2="936.8" y2="1579.3" stroke="#5c5c5c" stroke-width="1"/>
<line x1="616.5" y1="1647.6" x2="620.5" y2="1647.6" stroke="#5c5c5c" stroke-width="1"/>
<line x1="940.8" y1="1647.6" x2="936.8" y2="1647.6" stroke="#5c5c5c" stroke-width="1"/>
<line x1="616.5" y1="1715.8" x2="620.5" y2="1715.8" stroke="#5c5c5c" stroke-width="1"/>
<line x1="940.8" y1="1715.8" x2="936.8" y2="1715.8" stroke="#5c5c5c" stroke-width="1"/>
<line x1="616.5" y1="1784.1" x2="620.5" y2="1784.1" stroke="#5c5c5c" stroke-width="1"/>
<line x1="940.8" y1="1784.1" x2="936.8" y2="1784.1" stroke="#5c5c5c" stroke-width="1"/>
<line x1="616.5" y1="1852.4" x2="620.5" y2="1852.4" stroke="#5c5c5c" stroke-width="1"/>
<line x1="940.8" y1="1852.4" x2="936.8" y2="1852.4" stroke="#5c5c5c" stroke-width="1"/>
<line x1="616.5" y1="1920.7" x2="620.5" y2="1920.7" stroke="#5c5c5c" stroke-width="1"/>
<line x1="940.8" y1="1920.7" x2="936.8" y2="1920.7" stroke="#5c5c5c" stroke-width="1"/>
<line x1="778.6" y1="1940.0" x2="778.6" y2="1936.0" stroke="#5c5c5c" stroke-width="1"/>
<line x1="778.6" y1="1511.0" x2="778.6" y2="1515.0" stroke="#5c5c5c" stroke-width="1"/>
<text x="614.1" y="1971.8" font-size="32" text-anchor="middle" fill="#484848">0</text>
<text x="777.3" y="1971.8" font-size="32" text-anchor="middle" fill="#484848" textLength="61.0" lengthAdjust="spacingAndGlyphs">5000</text>
<text x="940.5" y="1971.8" font-size="32" text-anchor="middle" fill="#484848" textLength="76.0" lengthAdjust="spacingAndGlyphs">10000</text>
<line x1="1056.4" y1="1579.3" x2="1380.7" y2="1579.3" stroke="#ebebeb" stroke-width="1"/>
<line x1="1056.4" y1="1647.6" x2="1380.7" y2="1647.6" stroke="#ebebeb" stroke-width="1"/>
<line x1="1056.4" y1="1715.8" x2="1380.7" y2="1715.8" stroke="#ebebeb" stroke-width="1"/>
<line x1="1056.4" y1="1784.1" x2="1380.7" y2="1784.1" stroke="#ebebeb" stroke-width="1"/>
<line x1="1056.4" y1="1852.4" x2="1380.7" y2="1852.4" stroke="#ebebeb" stroke-width="1"/>
<line x1="1056.4" y1="1920.7" x2="1380.7" y2="1920.7" stroke="#ebebeb" stroke-width="1"/>
<line x1="1218.6" y1="1511.0" x2="1218.6" y2="1940.0" stroke="#ebebeb" stroke-width="1"/>
<polyline points="1056.4,1615.0 1056.8,1616.2 1057.1,1612.3 1057.5,1610.6 1057.8,1614.1 1058.2,1621.1 1058.6,1608.0 1058.9,1615.0 1059.3,1611.1 1059.6,1610.2 1060.0,1607.9 1060.4,1606.8 1060.7,1606.7 1061.1,1613.6 1061.5,1615.1 1061.8,1616.4 1062.2,1612.8 1062.5,1609.9 1062.9,1610.1 1063.3,1616.2 1063.6,1612.5 1064.0,1610.2 1064.3,1606.2 1064.7,1608.5 1065.1,1608.2 1065.4,1607.9 1065.8,1601.9 1066.1,1609.0 1066.5,1610.1 1066.9,1606.4 1067.2,1606.9 1067.6,1609.6 1067.9,1614.1 1068.3,1609.8 1068.7,1621.6 1069.0,1613.2 1069.4,1609.9 1069.7,1618.2 1070.1,1610.5 1070.5,1614.9 1070.8,1611.6 1071.2,1629.2 1071.6,1612.8 1071.9,1613.9 1072.3,1608.6 1072.6,1607.9 1073.0,1614.7 1073.4,1609.1 1073.7,1614.5 1074.1,1614.0 1074.4,1615.9 1074.8,1599.5 1075.2,1618.9 1075.5,1602.7 1075.9,1607.6 1076.2,1610.0 1076.6,1613.9 1077.0,1604.2 1077.3,1604.2 1077.7,1601.1 1078.0,1610.0 1078.4,1609.8 1078.8,1612.0 1079.1,1601.9 1079.5,1613.8 1079.8,1609.0 1080.2,1607.1 1080.6,1611.0 1080.9,1618.1 1081.3,1612.3 1081.7,1622.0 1082.0,1616.9 1082.4,1617.0 1082.7,1627.7 1083.1,1613.5 1083.5,1610.6 1083.8,1605.2 1084.2,1617.6 1084.5,1602.8 1084.9,1607.0 1085.3,1613.0 1085.6,1607.2 1086.0,1607.3 1086.3,1606.2 1086.7,1608.9 1087.1,1611.7 1087.4,1611.1 1087.8,1611.0 1088.1,1608.7 1088.5,1607.8 1088.9,1617.1 1089.2,1614.5 1089.6,1613.7 1089.9,1616.7 1090.3,1607.7 1090.7,1616.9 1091.0,1613.4 1091.4,1629.4 1091.8,1617.5 1092.1,1624.9 1092.5,1610.8 1092.8,1613.9 1093.2,1623.1 1093.6,1609.9 1093.9,1609.0 1094.3,1614.5 1094.6,1614.7 1095.0,1605.1 1095.4,1617.6 1095.7,1607.0 1096.1,1608.0 1096.4,1609.0 1096.8,1609.3 1097.2,1613.4 1097.5,1604.3 1097.9,1609.3 1098.2,1606.8 1098.6,1607.8 1099.0,1610.2 1099.3,1610.0 1099.7,1612.2 1100.0,1614.5 1100.4,1606.0 1100.8,1606.3 1101.1,1614.2 1101.5,1614.5 1101.9,1621.6 1102.2,1607.2 1102.6,1614.9 1102.9,1621.6 1103.3,1614.9 1103.7,1617.2 1104.0,1613.2 1104.4,1611.9 1104.7,1612.5 1105.1,1610.0 1105.5,1609.7 1105.8,1607.0 1106.2,1616.2 1106.5,1604.0 1106.9,1609.9 1107.3,1605.6 1107.6,1612.3 1108.0,1605.9 1108.3,1618.8 1108.7,1611.1 1109.1,1614.5 1109.4,1617.1 1109.8,1613.9 1110.1,1618.1 1110.5,1613.4 1110.9,1615.1 1111.2,1627.4 1111.6,1620.6 1112.0,1613.5 1112.3,1615.9 1112.7,1619.1 1113.0,1619.5 1113.4,1616.8 1113.8,1619.7 1114.1,1615.7 1114.5,1622.8 1114.8,1610.8 1115.2,1618.0 1115.6,1619.3 1115.9,1607.2 1116.3,1619.4 1116.6,1622.6 1117.0,1615.7 1117.4,1614.5 1117.7,1608.8 1118.1,1613.5 1118.4,1610.9 1118.8,1620.4 1119.2,1616.3 1119.5,1616.2 1119.9,1611.5 1120.2,1613.2 1120.6,1620.3 1121.0,1611.7 1121.3,1617.1 1121.7,1611.8 1122.1,1612.3 1122.4,1618.1 1122.8,1621.3 1123.1,1607.6 1123.5,1612.2 1123.9,1605.7 1124.2,1619.3 1124.6,1616.4 1124.9,1611.1 1125.3,1606.8 1125.7,1608.4 1126.0,1614.7 1126.4,1615.3 1126.7,1618.5 1127.1,1623.4 1127.5,1616.7 1127.8,1616.8 1128.2,1618.2 1128.5,1615.9 1128.9,1611.0 1129.3,1606.4 1129.6,1613.9 1130.0,1617.6 1130.4,1615.4 1130.7,1611.8 1131.1,1620.5 1131.4,1617.3 1131.8,1612.7 1132.2,1609.7 1132.5,1617.7 1132.9,1624.1 1133.2,1616.0 1133.6,1619.0 1134.0,1617.7 1134.3,1632.2 1134.7,1626.2 1135.0,1621.8 1135.4,1615.3 1135.8,1615.8 1136.1,1620.8 1136.5,1613.0 1136.8,1618.7 1137.2,1621.1 1137.6,1613.5 1137.9,1612.4 1138.3,1610.0 1138.6,1615.1 1139.0,1620.9 1139.4,1613.1 1139.7,1619.1 1140.1,1613.8 1140.5,1619.9 1140.8,1620.5 1141.2,1617.9 1141.5,1613.2 1141.9,1614.9 1142.3,1611.1 1142.6,1612.5 1143.0,1607.2 1143.3,1610.3 1143.7,1613.8 1144.1,1624.3 1144.4,1619.2 1144.8,1612.2 1145.1,1620.6 1145.5,1605.8 1145.9,1618.2 1146.2,1617.3 1146.6,1620.9 1146.9,1621.2 1147.3,1621.8 1147.7,1612.3 1148.0,1617.9 1148.4,1611.1 1148.7,1605.6 1149.1,1613.9 1149.5,1617.9 1149.8,1611.7 1150.2,1614.2 1150.6,1615.3 1150.9,1606.8 1151.3,1617.4 1151.6,1610.7 1152.0,1613.1 1152.4,1623.7 1152.7,1619.8 1153.1,1615.0 1153.4,1614.6 1153.8,1613.7 1154.2,1613.4 1154.5,1619.2 1154.9,1623.3 1155.2,1620.8 1155.6,1615.7 1156.0,1621.5 1156.3,1614.9 1156.7,1614.1 1157.0,1619.8 1157.4,1609.8 1157.8,1618.7 1158.1,1615.4 1158.5,1607.5 1158.8,1612.8 1159.2,1620.9 1159.6,1618.9 1159.9,1616.0 1160.3,1615.3 1160.7,1618.4 1161.0,1619.6 1161.4,1620.3 1161.7,1621.9 1162.1,1616.7 1162.5,1608.7 1162.8,1606.0 1163.2,1608.7 1163.5,1609.4 1163.9,1617.2 1164.3,1609.3 1164.6,1615.5 1165.0,1611.2 1165.3,1614.6 1165.7,1612.6 1166.1,1617.9 1166.4,1612.6 1166.8,1621.3 1167.1,1618.6 1167.5,1625.9 1167.9,1612.9 1168.2,1616.5 1168.6,1611.9 1168.9,1615.5 1169.3,1617.4 1169.7,1611.2 1170.0,1614.8 1170.4,1610.3 1170.8,1621.5 1171.1,1615.6 1171.5,1620.8 1171.8,1625.8 1172.2,1623.8 1172.6,1621.8 1172.9,1621.4 1173.3,1620.7 1173.6,1610.6 1174.0,1614.6 1174.4,1613.8 1174.7,1619.1 1175.1,1612.6 1175.4,1610.3 1175.8,1611.0 1176.2,1602.4 1176.5,1600.0 1176.9,1612.4 1177.2,1622.6 1177.6,1611.0 1178.0,1598.3 1178.3,1624.0 1178.7,1595.0 1179.0,1622.4 1179.4,1584.7 1179.8,1567.5 1180.1,1606.6 1180.5,1599.4 1180.9,1621.0 1181.2,1609.2 1181.6,1614.2 1181.9,1638.0 1182.3,1636.9 1182.7,1615.6 1183.0,1628.4 1183.4,1615.4 1183.7,1610.2 1184.1,1609.3 1184.5,1621.7 1184.8,1618.9 1185.2,1616.2 1185.5,1610.6 1185.9,1613.5 1186.3,1617.6 1186.6,1610.4 1187.0,1613.6 1187.3,1609.0 1187.7,1613.2 1188.1,1618.5 1188.4,1619.2 1188.8,1616.3 1189.2,1614.9 1189.5,1615.6 1189.9,1616.8 1190.2,1615.0 1190.6,1617.0 1191.0,1618.0 1191.3,1617.9 1191.7,1618.1 1192.0,1619.0 1192.4,1618.4 1192.8,1623.3 1193.1,1612.6 1193.5,1620.9 1193.8,1621.6 1194.2,1615.9 1194.6,1618.5 1194.9,1612.7 1195.3,1606.8 1195.6,1618.3 1196.0,1615.3 1196.4,1615.8 1196.7,1620.9 1197.1,1616.4 1197.4,1621.6 1197.8,1619.6 1198.2,1622.8 1198.5,1624.8 1198.9,1625.5 1199.3,1626.2 1199.6,1619.8 1200.0,1625.4 1200.3,1615.9 1200.7,1622.5 1201.1,1617.2 1201.4,1616.5 1201.8,1615.6 1202.1,1617.1 1202.5,1626.0 1202.9,1627.8 1203.2,1618.4 1203.6,1618.6 1203.9,1616.8 1204.3,1618.9 1204.7,1614.3 1205.0,1619.5 1205.4,1622.3 1205.7,1624.9 1206.1,1624.0 1206.5,1618.8 1206.8,1620.8 1207.2,1617.7 1207.5,1613.3 1207.9,1621.6 1208.3,1621.4 1208.6,1622.1 1209.0,1617.3 1209.4,1619.5 1209.7,1632.2 1210.1,1616.5 1210.4,1620.9 1210.8,1613.8 1211.2,1619.2 1211.5,1621.6 1211.9,1626.9 1212.2,1616.7 1212.6,1621.1 1213.0,1617.1 1213.3,1614.7 1213.7,1611.3 1214.0,1615.0 1214.4,1611.7 1214.8,1621.7 1215.1,1623.8 1215.5,1625.0 1215.8,1627.4 1216.2,1626.2 1216.6,1621.4 1216.9,1622.7 1217.3,1627.5 1217.6,1627.2 1218.0,1625.7 1218.4,1621.8 1218.7,1620.1 1219.1,1617.3 1219.5,1625.5 1219.8,1620.4 1220.2,1618.1 1220.5,1626.4 1220.9,1616.7 1221.3,1622.0 1221.6,1626.3 1222.0,1629.8 1222.3,1628.6 1222.7,1623.1 1223.1,1618.8 1223.4,1629.0 1223.8,1622.9 1224.1,1620.3 1224.5,1628.1 1224.9,1627.3 1225.2,1617.0 1225.6,1618.8 1225.9,1628.2 1226.3,1630.5 1226.7,1622.0 1227.0,1611.0 1227.4,1611.7 1227.7,1603.4 1228.1,1615.8 1228.5,1611.7 1228.8,1610.0 1229.2,1613.5 1229.6,1622.3 1229.9,1623.2 1230.3,1617.9 1230.6,1621.2 1231.0,1626.2 1231.4,1619.6 1231.7,1625.0 1232.1,1619.4 1232.4,1621.2 1232.8,1628.5 1233.2,1614.2 1233.5,1607.6 1233.9,1614.8 1234.2,1615.6 1234.6,1614.8 1235.0,1616.1 1235.3,1618.5 1235.7,1623.1 1236.0,1631.7 1236.4,1615.0 1236.8,1615.9 1237.1,1621.6 1237.5,1626.7 1237.8,1619.8 1238.2,1621.2 1238.6,1625.1 1238.9,1624.9 1239.3,1629.5 1239.7,1621.9 1240.0,1627.3 1240.4,1629.6 1240.7,1635.3 1241.1,1631.7 1241.5,1635.9 1241.8,1627.4 1242.2,1624.6 1242.5,1613.9 1242.9,1627.1 1243.3,1617.9 1243.6,1612.5 1244.0,1609.2 1244.3,1617.1 1244.7,1612.6 1245.1,1617.2 1245.4,1628.2 1245.8,1620.8 1246.1,1610.8 1246.5,1627.9 1246.9,1621.6 1247.2,1622.8 1247.6,1626.9 1247.9,1621.2 1248.3,1625.8 1248.7,1629.2 1249.0,1624.8 1249.4,1629.6 1249.8,1627.6 1250.1,1622.8 1250.5,1622.2 1250.8,1629.5 1251.2,1622.5 1251.6,1618.6 1251.9,1621.4 1252.3,1624.1 1252.6,1629.4 1253.0,1621.7 1253.4,1623.5 1253.7,1626.9 1254.1,1622.2 1254.4,1619.9 1254.8,1614.8 1255.2,1618.5 1255.5,1614.3 1255.9,1630.7 1256.2,1629.7 1256.6,1622.9 1257.0,1623.7 1257.3,1621.2 1257.7,1623.3 1258.1,1625.7 1258.4,1620.5 1258.8,1623.8 1259.1,1624.0 1259.5,1619.6 1259.9,1622.1 1260.2,1619.4 1260.6,1619.0 1260.9,1618.8 1261.3,1622.1 1261.7,1623.5 1262.0,1628.2 1262.4,1631.3 1262.7,1623.3 1263.1,1627.8 1263.5,1618.4 1263.8,1622.9 1264.2,1623.1 1264.5,1633.9 1264.9,1623.1 1265.3,1624.3 1265.6,1622.3 1266.0,1621.4 1266.3,1620.8 1266.7,1626.7 1267.1,1641.7 1267.4,1633.4 1267.8,1622.6 1268.2,1616.5 1268.5,1638.9 1268.9,1624.2 1269.2,1620.7 1269.6,1613.2 1270.0,1616.6 1270.3,1620.9 1270.7,1619.8 1271.0,1624.9 1271.4,1622.3 1271.8,1615.9 1272.1,1624.3 1272.5,1618.3 1272.8,1626.8 1273.2,1628.8 1273.6,1625.2 1273.9,1621.1 1274.3,1622.3 1274.6,1629.6 1275.0,1626.0 1275.4,1625.3 1275.7,1626.8 1276.1,1615.4 1276.4,1625.4 1276.8,1618.7 1277.2,1626.6 1277.5,1631.2 1277.9,1626.3 1278.3,1627.3 1278.6,1622.3 1279.0,1631.3 1279.3,1616.8 1279.7,1626.9 1280.1,1633.8 1280.4,1629.0 1280.8,1624.3 1281.1,1623.6 1281.5,1622.6 1281.9,1611.7 1282.2,1622.1 1282.6,1622.3 1282.9,1614.4 1283.3,1620.1 1283.7,1616.5 1284.0,1623.1 1284.4,1636.7 1284.7,1618.3 1285.1,1625.9 1285.5,1624.1 1285.8,1621.7 1286.2,1622.1 1286.5,1626.9 1286.9,1608.8 1287.3,1616.6 1287.6,1608.6 1288.0,1620.7 1288.4,1618.7 1288.7,1627.5 1289.1,1622.3 1289.4,1616.7 1289.8,1629.9 1290.2,1620.1 1290.5,1619.8 1290.9,1620.1 1291.2,1620.3 1291.6,1618.1 1292.0,1625.3 1292.3,1621.6 1292.7,1624.3 1293.0,1619.5 1293.4,1623.8 1293.8,1626.3 1294.1,1622.3 1294.5,1620.3 1294.8,1626.6 1295.2,1629.3 1295.6,1627.8 1295.9,1624.8 1296.3,1625.0 1296.6,1622.0 1297.0,1623.5 1297.4,1621.4 1297.7,1619.4 1298.1,1616.2 1298.5,1622.7 1298.8,1617.5 1299.2,1625.6 1299.5,1613.0 1299.9,1626.9 1300.3,1619.9 1300.6,1622.4 1301.0,1641.1 1301.3,1626.6 1301.7,1628.9 1302.1,1624.8 1302.4,1620.8 1302.8,1616.6 1303.1,1625.5 1303.5,1628.1 1303.9,1626.4 1304.2,1625.7 1304.6,1612.0 1304.9,1614.7 1305.3,1616.4 1305.7,1625.8 1306.0,1621.5 1306.4,1620.7 1306.7,1623.1 1307.1,1623.9 1307.5,1624.6 1307.8,1628.3 1308.2,1623.8 1308.6,1621.3 1308.9,1622.9 1309.3,1619.9 1309.6,1620.4 1310.0,1618.6 1310.4,1618.2 1310.7,1624.8 1311.1,1627.9 1311.4,1624.4 1311.8,1620.7 1312.2,1627.6 1312.5,1622.6 1312.9,1628.5 1313.2,1628.7 1313.6,1624.3 1314.0,1639.0 1314.3,1630.3 1314.7,1625.2 1315.0,1623.3 1315.4,1621.1 1315.8,1626.3 1316.1,1619.7 1316.5,1622.4 1316.9,1620.2 1317.2,1619.2 1317.6,1622.7 1317.9,1620.3 1318.3,1616.7 1318.7,1626.0 1319.0,1618.8 1319.4,1625.3 1319.7,1621.4 1320.1,1628.1 1320.5,1622.3 1320.8,1630.4 1321.2,1628.6 1321.5,1629.0 1321.9,1627.9 1322.3,1626.0 1322.6,1627.3 1323.0,1619.6 1323.3,1627.7 1323.7,1624.1 1324.1,1639.8 1324.4,1626.3 1324.8,1621.6 1325.1,1620.2 1325.5,1626.7 1325.9,1622.2 1326.2,1622.8 1326.6,1625.0 1327.0,1622.6 1327.3,1619.8 1327.7,1621.7 1328.0,1621.7 1328.4,1615.1 1328.8,1625.5 1329.1,1649.0 1329.5,1631.8 1329.8,1624.8 1330.2,1626.8 1330.6,1627.4 1330.9,1625.7 1331.3,1628.6 1331.6,1629.6 1332.0,1621.3 1332.4,1643.7 1332.7,1625.1 1333.1,1624.8 1333.4,1633.1 1333.8,1634.0 1334.2,1627.2 1334.5,1629.6 1334.9,1629.8 1335.2,1626.6 1335.6,1633.0 1336.0,1632.3 1336.3,1632.2 1336.7,1621.9 1337.1,1630.6 1337.4,1624.1 1337.8,1628.1 1338.1,1619.4 1338.5,1623.0 1338.9,1618.7 1339.2,1621.2 1339.6,1618.9 1339.9,1624.5 1340.3,1614.7 1340.7,1620.9 1341.0,1619.3 1341.4,1630.9 1341.7,1632.4 1342.1,1629.1 1342.5,1629.3 1342.8,1635.1 1343.2,1638.1 1343.5,1632.4 1343.9,1631.9 1344.3,1633.3 1344.6,1631.2 1345.0,1631.4 1345.3,1627.5 1345.7,1627.5 1346.1,1622.4 1346.4,1628.3 1346.8,1624.9 1347.2,1620.5 1347.5,1626.7 1347.9,1624.5 1348.2,1620.2 1348.6,1620.5 1349.0,1625.4 1349.3,1627.6 1349.7,1627.7 1350.0,1632.3 1350.4,1633.2 1350.8,1625.9 1351.1,1620.4 1351.5,1626.6 1351.8,1613.0 1352.2,1626.7 1352.6,1630.6 1352.9,1625.6 1353.3,1619.1 1353.6,1603.3 1354.0,1625.4 1354.4,1620.2 1354.7,1617.4 1355.1,1624.0 1355.4,1617.0 1355.8,1623.7 1356.2,1628.8 1356.5,1618.8 1356.9,1635.0 1357.3,1623.9 1357.6,1641.5 1358.0,1626.0 1358.3,1625.8 1358.7,1632.3 1359.1,1628.2 1359.4,1624.2 1359.8,1629.0 1360.1,1629.4 1360.5,1621.8 1360.9,1637.3 1361.2,1625.6 1361.6,1633.3 1361.9,1629.1 1362.3,1630.6 1362.7,1626.8 1363.0,1631.4 1363.4,1624.2 1363.7,1624.1 1364.1,1621.7 1364.5,1621.9 1364.8,1626.4 1365.2,1623.7 1365.5,1621.7 1365.9,1614.8 1366.3,1624.9 1366.6,1624.3 1367.0,1622.5 1367.4,1630.0 1367.7,1630.3 1368.1,1622.5 1368.4,1624.6 1368.8,1637.3 1369.2,1623.1 1369.5,1623.3 1369.9,1626.5 1370.2,1629.2 1370.6,1632.9 1371.0,1631.0 1371.3,1628.0 1371.7,1632.5 1372.0,1642.9 1372.4,1630.5 1372.8,1630.3 1373.1,1633.3 1373.5,1633.5 1373.8,1625.5 1374.2,1630.3 1374.6,1622.3 1374.9,1619.9 1375.3,1622.9 1375.6,1621.4 1376.0,1621.8 1376.4,1620.6 1376.7,1620.2 1377.1,1619.6 1377.5,1632.2 1377.8,1632.1 1378.2,1625.8 1378.5,1621.4 1378.9,1622.4 1379.3,1621.3 1379.6,1631.0 1380.0,1632.5 1380.3,1627.2 1380.7,1628.0" fill="none" stroke="#1467b3" stroke-width="1" stroke-linejoin="round"/>
<line x1="1056.4" y1="1610.7" x2="1380.7" y2="1627.1" stroke="#e8452c" stroke-width="1"/>
<rect x="1056.4" y="1511.0" width="324.3" height="429.0" fill="none" stroke="#5c5c5c" stroke-width="1"/>
<line x1="1056.4" y1="1579.3" x2="1060.4" y2="1579.3" stroke="#5c5c5c" stroke-width="1"/>
<line x1="1380.7" y1="1579.3" x2="1376.7" y2="1579.3" stroke="#5c5c5c" stroke-width="1"/>
<line x1="1056.4" y1="1647.6" x2="1060.4" y2="1647.6" stroke="#5c5c5c" stroke-width="1"/>
<line x1="1380.7" y1="1647.6" x2="1376.7" y2="1647.6" stroke="#5c5c5c" stroke-width="1"/>
<line x1="1056.4" y1="1715.8" x2="1060.4" y2="1715.8" stroke="#5c5c5c" stroke-width="1"/>
<line x1="1380.7" y1="1715.8" x2="1376.7" y2="1715.8" stroke="#5c5c5c" stroke-width="1"/>
<line x1="1056.4" y1="1784.1" x2="1060.4" y2="1784.1" stroke="#5c5c5c" stroke-width="1"/>
<line x1="1380.7" y1="1784.1" x2="1376.7" y2="1784.1" stroke="#5c5c5c" stroke-width="1"/>
<line x1="1056.4" y1="1852.4" x2="1060.4" y2="1852.4" stroke="#5c5c5c" stroke-width="1"/>
<line x1="1380.7" y1="1852.4" x2="1376.7" y2="1852.4" stroke="#5c5c5c" stroke-width="1"/>
<line x1="1056.4" y1="1920.7" x2="1060.4" y2="1920.7" stroke="#5c5c5c" stroke-width="1"/>
<line x1="1380.7" y1="1920.7" x2="1376.7" y2="1920.7" stroke="#5c5c5c" stroke-width="1"/>
<line x1="1218.6" y1="1940.0" x2="1218.6" y2="1936.0" stroke="#5c5c5c" stroke-width="1"/>
<line x1="1218.6" y1="1511.0" x2="1218.6" y2="1515.0" stroke="#5c5c5c" stroke-width="1"/>
<text x="1056.9" y="1971.8" font-size="32" text-anchor="middle" fill="#484848">0</text>
<text x="1220.1" y="1971.8" font-size="32" text-anchor="middle" fill="#484848" textLength="61.0" lengthAdjust="spacingAndGlyphs">5000</text>
<text x="1383.3" y="1971.8" font-size="32" text-anchor="middle" fill="#484848" textLength="76.0" lengthAdjust="spacingAndGlyphs">10000</text>
<line x1="1496.3" y1="1579.3" x2="1820.0" y2="1579.3" stroke="#ebebeb" stroke-width="1"/>
<line x1="1496.3" y1="1647.6" x2="1820.0" y2="1647.6" stroke="#ebebeb" stroke-width="1"/>
<line x1="1496.3" y1="1715.8" x2="1820.0" y2="1715.8" stroke="#ebebeb" stroke-width="1"/>
<line x1="1496.3" y1="1784.1" x2="1820.0" y2="1784.1" stroke="#ebebeb" stroke-width="1"/>
<line x1="1496.3" y1="1852.4" x2="1820.0" y2="1852.4" stroke="#ebebeb" stroke-width="1"/>
<line x1="1496.3" y1="1920.7" x2="1820.0" y2="1920.7" stroke="#ebebeb" stroke-width="1"/>
<line x1="1658.2" y1="1511.0" x2="1658.2" y2="1940.0" stroke="#ebebeb" stroke-width="1"/>
<polyline points="1496.3,1597.7 1496.7,1612.0 1497.0,1595.7 1497.4,1606.2 1497.7,1603.1 1498.1,1604.7 1498.5,1602.5 1498.8,1600.2 1499.2,1595.7 1499.5,1598.3 1499.9,1591.8 1500.3,1606.8 1500.6,1595.9 1501.0,1592.4 1501.3,1593.6 1501.7,1604.9 1502.1,1598.1 1502.4,1595.3 1502.8,1595.6 1503.1,1589.5 1503.5,1598.0 1503.9,1603.8 1504.2,1602.0 1504.6,1604.2 1504.9,1602.1 1505.3,1603.5 1505.7,1597.6 1506.0,1600.5 1506.4,1590.0 1506.7,1597.3 1507.1,1589.8 1507.5,1605.0 1507.8,1600.5 1508.2,1594.3 1508.5,1604.8 1508.9,1608.9 1509.3,1600.1 1509.6,1607.2 1510.0,1601.1 1510.3,1598.1 1510.7,1603.5 1511.1,1597.0 1511.4,1599.3 1511.8,1595.0 1512.1,1592.6 1512.5,1596.5 1512.9,1604.0 1513.2,1600.5 1513.6,1596.9 1513.9,1601.3 1514.3,1608.2 1514.7,1599.2 1515.0,1600.3 1515.4,1605.6 1515.7,1604.1 1516.1,1604.0 1516.5,1596.5 1516.8,1599.9 1517.2,1589.9 1517.5,1593.0 1517.9,1590.7 1518.3,1595.0 1518.6,1594.6 1519.0,1594.1 1519.3,1597.7 1519.7,1598.1 1520.1,1606.8 1520.4,1588.5 1520.8,1593.7 1521.1,1603.2 1521.5,1592.3 1521.9,1603.7 1522.2,1599.0 1522.6,1595.6 1522.9,1596.4 1523.3,1595.3 1523.7,1591.5 1524.0,1595.9 1524.4,1593.1 1524.7,1589.8 1525.1,1589.1 1525.5,1590.3 1525.8,1590.7 1526.2,1590.1 1526.5,1605.2 1526.9,1601.1 1527.3,1601.1 1527.6,1602.4 1528.0,1604.9 1528.3,1610.7 1528.7,1598.0 1529.1,1592.9 1529.4,1593.9 1529.8,1596.8 1530.1,1604.2 1530.5,1599.7 1530.9,1598.0 1531.2,1600.6 1531.6,1603.2 1531.9,1600.9 1532.3,1604.8 1532.7,1601.3 1533.0,1597.3 1533.4,1596.5 1533.7,1593.0 1534.1,1591.5 1534.5,1602.2 1534.8,1601.6 1535.2,1603.4 1535.5,1603.4 1535.9,1604.3 1536.3,1599.1 1536.6,1600.6 1537.0,1601.7 1537.3,1593.9 1537.7,1584.7 1538.1,1597.1 1538.4,1606.3 1538.8,1596.5 1539.1,1599.9 1539.5,1598.0 1539.9,1602.4 1540.2,1601.6 1540.6,1599.9 1540.9,1613.8 1541.3,1593.0 1541.7,1597.5 1542.0,1602.5 1542.4,1593.2 1542.7,1599.6 1543.1,1602.9 1543.5,1598.5 1543.8,1603.5 1544.2,1606.6 1544.5,1600.3 1544.9,1621.1 1545.3,1606.6 1545.6,1591.3 1546.0,1600.1 1546.3,1605.4 1546.7,1605.4 1547.1,1603.2 1547.4,1606.8 1547.8,1616.2 1548.1,1604.4 1548.5,1605.9 1548.9,1606.1 1549.2,1604.4 1549.6,1607.7 1549.9,1595.1 1550.3,1600.3 1550.7,1603.2 1551.0,1601.3 1551.4,1601.5 1551.8,1592.0 1552.1,1588.2 1552.5,1599.5 1552.8,1609.3 1553.2,1593.2 1553.6,1593.2 1553.9,1600.1 1554.3,1599.0 1554.6,1597.9 1555.0,1593.3 1555.4,1593.2 1555.7,1593.7 1556.1,1597.0 1556.4,1598.2 1556.8,1588.9 1557.2,1593.8 1557.5,1601.4 1557.9,1602.6 1558.2,1599.8 1558.6,1601.0 1559.0,1599.1 1559.3,1603.1 1559.7,1599.6 1560.0,1604.6 1560.4,1600.1 1560.8,1592.9 1561.1,1595.0 1561.5,1595.0 1561.8,1595.0 1562.2,1595.6 1562.6,1599.2 1562.9,1600.2 1563.3,1607.6 1563.6,1606.6 1564.0,1600.8 1564.4,1599.0 1564.7,1597.3 1565.1,1599.6 1565.4,1595.0 1565.8,1587.5 1566.2,1595.9 1566.5,1600.2 1566.9,1597.5 1567.2,1598.2 1567.6,1600.8 1568.0,1607.2 1568.3,1612.1 1568.7,1602.3 1569.0,1602.6 1569.4,1600.3 1569.8,1606.2 1570.1,1609.7 1570.5,1626.9 1570.8,1609.4 1571.2,1607.9 1571.6,1607.0 1571.9,1616.1 1572.3,1607.4 1572.6,1608.8 1573.0,1599.5 1573.4,1598.8 1573.7,1608.0 1574.1,1594.5 1574.4,1599.4 1574.8,1605.6 1575.2,1594.9 1575.5,1597.5 1575.9,1590.0 1576.2,1589.0 1576.6,1594.8 1577.0,1599.3 1577.3,1595.4 1577.7,1596.2 1578.0,1608.9 1578.4,1606.1 1578.8,1604.2 1579.1,1603.5 1579.5,1600.5 1579.8,1595.3 1580.2,1594.7 1580.6,1601.6 1580.9,1597.9 1581.3,1592.0 1581.6,1602.5 1582.0,1598.9 1582.4,1609.1 1582.7,1605.5 1583.1,1596.2 1583.4,1599.8 1583.8,1599.2 1584.2,1600.9 1584.5,1605.0 1584.9,1604.9 1585.2,1598.5 1585.6,1600.7 1586.0,1595.8 1586.3,1607.0 1586.7,1602.9 1587.0,1595.4 1587.4,1601.4 1587.8,1604.0 1588.1,1596.6 1588.5,1600.0 1588.8,1599.1 1589.2,1595.7 1589.6,1595.2 1589.9,1593.3 1590.3,1597.4 1590.6,1596.7 1591.0,1602.3 1591.4,1600.8 1591.7,1596.8 1592.1,1590.2 1592.4,1593.9 1592.8,1595.1 1593.2,1603.2 1593.5,1597.1 1593.9,1595.2 1594.2,1591.3 1594.6,1597.0 1595.0,1608.5 1595.3,1601.1 1595.7,1598.8 1596.0,1591.0 1596.4,1597.9 1596.8,1598.2 1597.1,1605.1 1597.5,1597.4 1597.8,1605.8 1598.2,1597.5 1598.6,1612.7 1598.9,1601.7 1599.3,1593.6 1599.6,1597.2 1600.0,1601.0 1600.4,1604.9 1600.7,1603.0 1601.1,1595.3 1601.4,1621.4 1601.8,1604.5 1602.2,1598.0 1602.5,1601.3 1602.9,1599.0 1603.2,1596.4 1603.6,1602.1 1604.0,1599.8 1604.3,1611.0 1604.7,1605.6 1605.0,1605.5 1605.4,1601.5 1605.8,1599.8 1606.1,1600.5 1606.5,1598.1 1606.8,1595.1 1607.2,1597.0 1607.6,1602.4 1607.9,1602.8 1608.3,1598.7 1608.6,1593.8 1609.0,1593.1 1609.4,1589.5 1609.7,1602.2 1610.1,1602.2 1610.4,1597.6 1610.8,1602.4 1611.2,1584.7 1611.5,1597.3 1611.9,1607.0 1612.2,1598.0 1612.6,1600.3 1613.0,1593.6 1613.3,1601.9 1613.7,1599.6 1614.0,1598.6 1614.4,1602.2 1614.8,1607.3 1615.1,1605.1 1615.5,1608.0 1615.8,1605.5 1616.2,1599.2 1616.6,1609.7 1616.9,1612.7 1617.3,1602.6 1617.6,1611.9 1618.0,1604.6 1618.4,1608.6 1618.7,1604.2 1619.1,1597.8 1619.4,1596.6 1619.8,1597.1 1620.2,1602.8 1620.5,1619.1 1620.9,1609.9 1621.2,1599.1 1621.6,1608.8 1622.0,1604.5 1622.3,1600.8 1622.7,1609.6 1623.0,1608.8 1623.4,1603.3 1623.8,1605.9 1624.1,1603.9 1624.5,1599.1 1624.8,1601.0 1625.2,1614.6 1625.6,1603.8 1625.9,1604.3 1626.3,1609.3 1626.6,1609.6 1627.0,1609.0 1627.4,1599.6 1627.7,1610.2 1628.1,1609.4 1628.4,1611.7 1628.8,1610.8 1629.2,1606.4 1629.5,1604.7 1629.9,1608.7 1630.2,1608.2 1630.6,1610.6 1631.0,1597.9 1631.3,1611.3 1631.7,1602.6 1632.0,1600.4 1632.4,1593.9 1632.8,1603.7 1633.1,1599.8 1633.5,1597.4 1633.8,1597.3 1634.2,1602.8 1634.6,1600.5 1634.9,1606.5 1635.3,1606.3 1635.6,1602.8 1636.0,1603.1 1636.4,1607.1 1636.7,1606.8 1637.1,1600.8 1637.4,1602.6 1637.8,1604.8 1638.2,1601.6 1638.5,1599.7 1638.9,1602.3 1639.2,1603.3 1639.6,1604.0 1640.0,1597.4 1640.3,1595.6 1640.7,1600.6 1641.0,1604.7 1641.4,1608.6 1641.8,1608.0 1642.1,1609.0 1642.5,1603.5 1642.8,1607.3 1643.2,1596.2 1643.6,1599.6 1643.9,1605.7 1644.3,1605.2 1644.6,1596.4 1645.0,1623.1 1645.4,1599.2 1645.7,1607.4 1646.1,1606.1 1646.4,1604.1 1646.8,1602.3 1647.2,1610.3 1647.5,1600.7 1647.9,1605.4 1648.2,1594.7 1648.6,1601.3 1649.0,1602.3 1649.3,1597.0 1649.7,1606.4 1650.0,1599.3 1650.4,1605.7 1650.8,1614.5 1651.1,1609.0 1651.5,1602.8 1651.8,1601.2 1652.2,1601.3 1652.6,1606.3 1652.9,1607.6 1653.3,1602.9 1653.6,1601.8 1654.0,1603.8 1654.4,1604.5 1654.7,1609.3 1655.1,1601.1 1655.4,1597.3 1655.8,1606.0 1656.2,1592.8 1656.5,1600.5 1656.9,1606.3 1657.2,1603.9 1657.6,1604.0 1658.0,1602.9 1658.3,1607.8 1658.7,1601.9 1659.1,1602.1 1659.4,1600.8 1659.8,1596.2 1660.1,1603.1 1660.5,1599.6 1660.9,1633.1 1661.2,1651.0 1661.6,1633.1 1661.9,1608.9 1662.3,1618.9 1662.7,1596.6 1663.0,1600.5 1663.4,1614.2 1663.7,1625.7 1664.1,1614.1 1664.5,1610.4 1664.8,1606.8 1665.2,1603.3 1665.5,1599.5 1665.9,1594.0 1666.3,1597.8 1666.6,1593.7 1667.0,1595.4 1667.3,1603.3 1667.7,1604.7 1668.1,1597.6 1668.4,1605.9 1668.8,1600.6 1669.1,1605.1 1669.5,1602.4 1669.9,1604.5 1670.2,1600.7 1670.6,1605.8 1670.9,1600.6 1671.3,1607.9 1671.7,1605.5 1672.0,1601.0 1672.4,1609.1 1672.7,1604.1 1673.1,1608.6 1673.5,1606.0 1673.8,1600.6 1674.2,1604.2 1674.5,1607.9 1674.9,1600.5 1675.3,1604.5 1675.6,1592.2 1676.0,1595.9 1676.3,1601.8 1676.7,1609.0 1677.1,1603.1 1677.4,1605.8 1677.8,1588.6 1678.1,1599.6 1678.5,1604.8 1678.9,1597.9 1679.2,1599.0 1679.6,1603.3 1679.9,1608.7 1680.3,1608.5 1680.7,1598.8 1681.0,1598.8 1681.4,1606.4 1681.7,1603.1 1682.1,1602.3 1682.5,1601.7 1682.8,1602.1 1683.2,1601.1 1683.5,1598.8 1683.9,1596.0 1684.3,1605.1 1684.6,1610.8 1685.0,1603.7 1685.3,1607.6 1685.7,1603.1 1686.1,1606.5 1686.4,1609.6 1686.8,1601.4 1687.1,1607.2 1687.5,1601.7 1687.9,1601.5 1688.2,1603.9 1688.6,1608.8 1688.9,1608.1 1689.3,1608.4 1689.7,1602.4 1690.0,1609.3 1690.4,1612.9 1690.7,1611.0 1691.1,1607.5 1691.5,1603.4 1691.8,1601.0 1692.2,1604.8 1692.5,1605.2 1692.9,1599.1 1693.3,1605.9 1693.6,1596.6 1694.0,1603.8 1694.3,1600.6 1694.7,1609.3 1695.1,1610.0 1695.4,1600.3 1695.8,1599.4 1696.1,1600.3 1696.5,1609.1 1696.9,1614.7 1697.2,1602.6 1697.6,1612.9 1697.9,1614.3 1698.3,1615.4 1698.7,1606.6 1699.0,1604.8 1699.4,1607.6 1699.7,1614.9 1700.1,1606.8 1700.5,1593.5 1700.8,1606.4 1701.2,1610.2 1701.5,1601.4 1701.9,1616.9 1702.3,1606.4 1702.6,1604.2 1703.0,1605.9 1703.3,1612.9 1703.7,1605.8 1704.1,1602.8 1704.4,1596.3 1704.8,1609.5 1705.1,1607.5 1705.5,1598.7 1705.9,1606.7 1706.2,1604.2 1706.6,1607.6 1706.9,1603.1 1707.3,1601.8 1707.7,1606.8 1708.0,1608.7 1708.4,1605.2 1708.7,1611.4 1709.1,1604.8 1709.5,1598.9 1709.8,1604.6 1710.2,1601.7 1710.5,1601.1 1710.9,1602.6 1711.3,1607.9 1711.6,1595.4 1712.0,1606.6 1712.3,1594.0 1712.7,1597.9 1713.1,1606.7 1713.4,1593.8 1713.8,1601.4 1714.1,1598.8 1714.5,1599.9 1714.9,1598.4 1715.2,1594.8 1715.6,1599.8 1715.9,1598.5 1716.3,1585.5 1716.7,1601.7 1717.0,1590.4 1717.4,1602.1 1717.7,1600.6 1718.1,1603.2 1718.5,1605.3 1718.8,1609.5 1719.2,1604.3 1719.5,1600.2 1719.9,1605.5 1720.3,1596.8 1720.6,1603.3 1721.0,1602.1 1721.3,1594.2 1721.7,1606.3 1722.1,1608.0 1722.4,1601.7 1722.8,1595.2 1723.1,1601.5 1723.5,1604.8 1723.9,1602.5 1724.2,1602.4 1724.6,1602.6 1724.9,1600.9 1725.3,1598.6 1725.7,1595.2 1726.0,1597.1 1726.4,1602.0 1726.7,1602.2 1727.1,1599.2 1727.5,1603.9 1727.8,1600.9 1728.2,1601.5 1728.5,1593.4 1728.9,1611.1 1729.3,1604.6 1729.6,1598.0 1730.0,1608.8 1730.3,1608.3 1730.7,1601.7 1731.1,1604.7 1731.4,1607.1 1731.8,1605.2 1732.1,1602.1 1732.5,1602.1 1732.9,1607.9 1733.2,1611.6 1733.6,1599.8 1733.9,1608.6 1734.3,1616.3 1734.7,1608.7 1735.0,1605.9 1735.4,1606.3 1735.7,1614.7 1736.1,1605.8 1736.5,1603.6 1736.8,1601.7 1737.2,1617.3 1737.5,1609.2 1737.9,1608.1 1738.3,1607.5 1738.6,1606.3 1739.0,1608.3 1739.3,1608.1 1739.7,1602.0 1740.1,1603.7 1740.4,1602.4 1740.8,1605.5 1741.1,1606.2 1741.5,1605.1 1741.9,1598.4 1742.2,1600.9 1742.6,1594.1 1742.9,1603.4 1743.3,1600.1 1743.7,1603.0 1744.0,1608.9 1744.4,1598.2 1744.7,1589.3 1745.1,1602.8 1745.5,1605.6 1745.8,1592.7 1746.2,1594.4 1746.5,1601.8 1746.9,1599.9 1747.3,1598.6 1747.6,1604.7 1748.0,1598.0 1748.3,1601.5 1748.7,1611.0 1749.1,1599.2 1749.4,1600.6 1749.8,1593.0 1750.1,1604.8 1750.5,1598.4 1750.9,1599.8 1751.2,1612.2 1751.6,1613.9 1751.9,1603.6 1752.3,1602.8 1752.7,1612.3 1753.0,1605.2 1753.4,1605.9 1753.7,1618.3 1754.1,1600.4 1754.5,1605.5 1754.8,1602.6 1755.2,1617.1 1755.5,1609.1 1755.9,1606.9 1756.3,1599.6 1756.6,1614.3 1757.0,1607.7 1757.3,1594.9 1757.7,1606.1 1758.1,1609.1 1758.4,1602.8 1758.8,1605.6 1759.1,1600.2 1759.5,1602.5 1759.9,1608.9 1760.2,1603.5 1760.6,1602.4 1760.9,1598.3 1761.3,1600.4 1761.7,1596.6 1762.0,1602.0 1762.4,1604.5 1762.7,1601.1 1763.1,1601.0 1763.5,1595.2 1763.8,1610.2 1764.2,1599.9 1764.5,1590.5 1764.9,1593.0 1765.3,1600.0 1765.6,1600.0 1766.0,1602.9 1766.4,1605.8 1766.7,1603.0 1767.1,1615.2 1767.4,1604.1 1767.8,1614.8 1768.2,1610.1 1768.5,1611.1 1768.9,1607.4 1769.2,1606.0 1769.6,1606.7 1770.0,1602.8 1770.3,1590.0 1770.7,1606.5 1771.0,1613.1 1771.4,1597.8 1771.8,1606.9 1772.1,1605.8 1772.5,1601.9 1772.8,1612.4 1773.2,1606.8 1773.6,1601.3 1773.9,1604.0 1774.3,1606.9 1774.6,1605.7 1775.0,1604.5 1775.4,1604.8 1775.7,1607.0 1776.1,1596.6 1776.4,1603.3 1776.8,1605.4 1777.2,1601.5 1777.5,1597.8 1777.9,1603.5 1778.2,1594.5 1778.6,1604.3 1779.0,1604.7 1779.3,1615.7 1779.7,1597.5 1780.0,1610.9 1780.4,1604.8 1780.8,1606.1 1781.1,1610.9 1781.5,1599.9 1781.8,1604.1 1782.2,1607.6 1782.6,1600.5 1782.9,1607.2 1783.3,1599.9 1783.6,1599.5 1784.0,1603.2 1784.4,1600.8 1784.7,1600.9 1785.1,1588.2 1785.4,1598.9 1785.8,1602.1 1786.2,1602.4 1786.5,1604.8 1786.9,1604.5 1787.2,1610.2 1787.6,1608.6 1788.0,1602.6 1788.3,1609.6 1788.7,1599.8 1789.0,1618.4 1789.4,1597.8 1789.8,1605.5 1790.1,1597.6 1790.5,1610.1 1790.8,1612.6 1791.2,1601.6 1791.6,1599.0 1791.9,1607.4 1792.3,1615.2 1792.6,1622.2 1793.0,1612.9 1793.4,1599.8 1793.7,1606.5 1794.1,1610.4 1794.4,1608.0 1794.8,1605.4 1795.2,1607.2 1795.5,1607.7 1795.9,1600.9 1796.2,1602.2 1796.6,1601.1 1797.0,1600.1 1797.3,1600.3 1797.7,1603.3 1798.0,1592.2 1798.4,1601.8 1798.8,1595.2 1799.1,1621.9 1799.5,1604.2 1799.8,1607.5 1800.2,1603.4 1800.6,1604.5 1800.9,1606.4 1801.3,1604.7 1801.6,1600.6 1802.0,1600.0 1802.4,1597.4 1802.7,1604.5 1803.1,1601.9 1803.4,1604.0 1803.8,1600.6 1804.2,1601.2 1804.5,1616.3 1804.9,1600.4 1805.2,1602.2 1805.6,1606.7 1806.0,1601.2 1806.3,1610.8 1806.7,1614.6 1807.0,1608.7 1807.4,1605.3 1807.8,1608.1 1808.1,1613.2 1808.5,1605.7 1808.8,1604.8 1809.2,1602.5 1809.6,1601.3 1809.9,1617.8 1810.3,1607.3 1810.6,1609.9 1811.0,1602.7 1811.4,1609.7 1811.7,1606.6 1812.1,1603.7 1812.4,1604.2 1812.8,1604.5 1813.2,1606.8 1813.5,1608.2 1813.9,1611.7 1814.2,1605.7 1814.6,1615.6 1815.0,1604.9 1815.3,1609.1 1815.7,1605.1 1816.0,1621.7 1816.4,1609.1 1816.8,1611.1 1817.1,1610.8 1817.5,1612.2 1817.8,1614.6 1818.2,1614.7 1818.6,1600.6 1818.9,1606.5 1819.3,1612.8 1819.6,1601.6 1820.0,1618.9" fill="none" stroke="#1467b3" stroke-width="1" stroke-linejoin="round"/>
<line x1="1496.3" y1="1599.8" x2="1820.0" y2="1605.2" stroke="#e8452c" stroke-width="1"/>
<rect x="1496.3" y="1511.0" width="323.7" height="429.0" fill="none" stroke="#5c5c5c" stroke-width="1"/>
<line x1="1496.3" y1="1579.3" x2="1500.3" y2="1579.3" stroke="#5c5c5c" stroke-width="1"/>
<line x1="1820.0" y1="1579.3" x2="1816.0" y2="1579.3" stroke="#5c5c5c" stroke-width="1"/>
<line x1="1496.3" y1="1647.6" x2="1500.3" y2="1647.6" stroke="#5c5c5c" stroke-width="1"/>
<line x1="1820.0" y1="1647.6" x2="1816.0" y2="1647.6" stroke="#5c5c5c" stroke-width="1"/>
<line x1="1496.3" y1="1715.8" x2="1500.3" y2="1715.8" stroke="#5c5c5c" stroke-width="1"/>
<line x1="1820.0" y1="1715.8" x2="1816.0" y2="1715.8" stroke="#5c5c5c" stroke-width="1"/>
<line x1="1496.3" y1="1784.1" x2="1500.3" y2="1784.1" stroke="#5c5c5c" stroke-width="1"/>
<line x1="1820.0" y1="1784.1" x2="1816.0" y2="1784.1" stroke="#5c5c5c" stroke-width="1"/>
<line x1="1496.3" y1="1852.4" x2="1500.3" y2="1852.4" stroke="#5c5c5c" stroke-width="1"/>
<line x1="1820.0" y1="1852.4" x2="1816.0" y2="1852.4" stroke="#5c5c5c" stroke-width="1"/>
<line x1="1496.3" y1="1920.7" x2="1500.3" y2="1920.7" stroke="#5c5c5c" stroke-width="1"/>
<line x1="1820.0" y1="1920.7" x2="1816.0" y2="1920.7" stroke="#5c5c5c" stroke-width="1"/>
<line x1="1658.2" y1="1940.0" x2="1658.2" y2="1936.0" stroke="#5c5c5c" stroke-width="1"/>
<line x1="1658.2" y1="1511.0" x2="1658.2" y2="1515.0" stroke="#5c5c5c" stroke-width="1"/>
<text x="1499.7" y="1971.8" font-size="32" text-anchor="middle" fill="#484848">0</text>
<text x="1662.6" y="1971.8" font-size="32" text-anchor="middle" fill="#484848" textLength="61.0" lengthAdjust="spacingAndGlyphs">5000</text>
<text x="1825.5" y="1971.8" font-size="32" text-anchor="middle" fill="#484848" textLength="76.0" lengthAdjust="spacingAndGlyphs">10000</text>
<text x="168.2" y="1602.9" font-size="54.5" text-anchor="end" fill="#484848" textLength="86.0" lengthAdjust="spacingAndGlyphs">-0.5</text>
<text x="168.2" y="1739.4" font-size="54.5" text-anchor="end" fill="#484848" textLength="86.0" lengthAdjust="spacingAndGlyphs">-1.5</text>
<text x="168.2" y="1876.0" font-size="54.5" text-anchor="end" fill="#484848" textLength="86.0" lengthAdjust="spacingAndGlyphs">-2.5</text>
<text x="138.0" y="803.0" font-size="50.5" text-anchor="start" fill="#000" textLength="1717.0" lengthAdjust="spacingAndGlyphs" word-spacing="2">Phase of cross interferogram, Mulltilooked in azimuth, by cross-correlation</text>
<text x="70.0" y="1067.0" font-size="56.5" text-anchor="middle" fill="#484848" textLength="137.0" lengthAdjust="spacingAndGlyphs" transform="rotate(-90 70.0 1067.0)">phase</text>
<text x="1020.8" y="1364.7" font-size="56" text-anchor="middle" fill="#484848" textLength="342.0" lengthAdjust="spacingAndGlyphs" word-spacing="2">range samples</text>
<text x="133.0" y="1480.0" font-size="50.5" text-anchor="start" fill="#000" textLength="1831.0" lengthAdjust="spacingAndGlyphs" word-spacing="2">Phase of cross interferogram, Mulltilooked in azimuth, by geometrical approach</text>
<text x="70.0" y="1760.0" font-size="56.5" text-anchor="middle" fill="#484848" textLength="137.0" lengthAdjust="spacingAndGlyphs" transform="rotate(-90 70.0 1760.0)">phase</text>
<text x="1016.0" y="2054.3" font-size="56" text-anchor="middle" fill="#484848" textLength="342.0" lengthAdjust="spacingAndGlyphs" word-spacing="2">range samples</text>
<g transform="translate(313.0,2215.0)"><g clip-path="url(#c4)">
<clipPath id="c4_0"><rect x="0.0" y="0" width="214.9" height="548.0"/></clipPath>
<g clip-path="url(#c4_0)"><g filter="url(#f4)">
<rect x="-35.8" y="-34.2" width="72.2" height="34.9" fill="rgb(135,135,135)"/>
<rect x="35.8" y="-34.2" width="36.4" height="34.9" fill="rgb(145,145,145)"/>
<rect x="71.6" y="-34.2" width="36.4" height="34.9" fill="rgb(155,155,155)"/>
<rect x="107.4" y="-34.2" width="36.4" height="34.9" fill="rgb(167,167,167)"/>
<rect x="143.3" y="-34.2" width="36.4" height="34.9" fill="rgb(177,177,177)"/>
<rect x="179.1" y="-34.2" width="72.2" height="34.9" fill="rgb(179,179,179)"/>
<rect x="-35.8" y="0.0" width="72.2" height="34.9" fill="rgb(135,135,135)"/>
<rect x="35.8" y="0.0" width="36.4" height="34.9" fill="rgb(145,145,145)"/>
<rect x="71.6" y="0.0" width="36.4" height="34.9" fill="rgb(155,155,155)"/>
<rect x="107.4" y="0.0" width="36.4" height="34.9" fill="rgb(167,167,167)"/>
<rect x="143.3" y="0.0" width="36.4" height="34.9" fill="rgb(177,177,177)"/>
<rect x="179.1" y="0.0" width="72.2" height="34.9" fill="rgb(179,179,179)"/>
<rect x="-35.8" y="34.2" width="72.2" height="34.9" fill="rgb(135,135,135)"/>
<rect x="35.8" y="34.2" width="36.4" height="34.9" fill="rgb(145,145,145)"/>
<rect x="71.6" y="34.2" width="36.4" height="34.9" fill="rgb(155,155,155)"/>
<rect x="107.4" y="34.2" width="36.4" height="34.9" fill="rgb(167,167,167)"/>
<rect x="143.3" y="34.2" width="36.4" height="34.9" fill="rgb(177,177,177)"/>
<rect x="179.1" y="34.2" width="72.2" height="34.9" fill="rgb(179,179,179)"/>
<rect x="-35.8" y="68.5" width="72.2" height="34.9" fill="rgb(135,135,135)"/>
<rect x="35.8" y="68.5" width="36.4" height="34.9" fill="rgb(145,145,145)"/>
<rect x="71.6" y="68.5" width="36.4" height="34.9" fill="rgb(155,155,155)"/>
<rect x="107.4" y="68.5" width="36.4" height="34.9" fill="rgb(162,162,162)"/>
<rect x="143.3" y="68.5" width="108.0" height="34.9" fill="rgb(164,164,164)"/>
<rect x="-35.8" y="102.8" width="72.2" height="34.9" fill="rgb(135,135,135)"/>
<rect x="35.8" y="102.8" width="36.4" height="34.9" fill="rgb(145,145,145)"/>
<rect x="71.6" y="102.8" width="36.4" height="34.9" fill="rgb(155,155,155)"/>
<rect x="107.4" y="102.8" width="36.4" height="34.9" fill="rgb(162,162,162)"/>
<rect x="143.3" y="102.8" width="108.0" height="34.9" fill="rgb(164,164,164)"/>
<rect x="-35.8" y="137.0" width="72.2" height="34.9" fill="rgb(135,135,135)"/>
<rect x="35.8" y="137.0" width="36.4" height="34.9" fill="rgb(145,145,145)"/>
<rect x="71.6" y="137.0" width="36.4" height="34.9" fill="rgb(155,155,155)"/>
<rect x="107.4" y="137.0" width="36.4" height="34.9" fill="rgb(162,162,162)"/>
<rect x="143.3" y="137.0" width="108.0" height="34.9" fill="rgb(164,164,164)"/>
<rect x="-35.8" y="171.2" width="72.2" height="34.9" fill="rgb(138,138,138)"/>
<rect x="35.8" y="171.2" width="36.4" height="34.9" fill="rgb(145,145,145)"/>
<rect x="71.6" y="171.2" width="36.4" height="34.9" fill="rgb(157,157,157)"/>
<rect x="107.4" y="171.2" width="72.2" height="34.9" fill="rgb(162,162,162)"/>
<rect x="179.1" y="171.2" width="72.2" height="34.9" fill="rgb(157,157,157)"/>
<rect x="-35.8" y="205.5" width="72.2" height="34.9" fill="rgb(138,138,138)"/>
<rect x="35.8" y="205.5" width="36.4" height="34.9" fill="rgb(145,145,145)"/>
<rect x="71.6" y="205.5" width="36.4" height="34.9" fill="rgb(157,157,157)"/>
<rect x="107.4" y="205.5" width="72.2" height="34.9" fill="rgb(162,162,162)"/>
<rect x="179.1" y="205.5" width="72.2" height="34.9" fill="rgb(157,157,157)"/>
<rect x="-35.8" y="239.8" width="72.2" height="34.9" fill="rgb(138,138,138)"/>
<rect x="35.8" y="239.8" width="36.4" height="34.9" fill="rgb(145,145,145)"/>
<rect x="71.6" y="239.8" width="36.4" height="34.9" fill="rgb(157,157,157)"/>
<rect x="107.4" y="239.8" width="72.2" height="34.9" fill="rgb(162,162,162)"/>
<rect x="179.1" y="239.8" width="72.2" height="34.9" fill="rgb(157,157,157)"/>
<rect x="-35.8" y="274.0" width="72.2" height="34.9" fill="rgb(138,138,138)"/>
<rect x="35.8" y="274.0" width="36.4" height="34.9" fill="rgb(145,145,145)"/>
<rect x="71.6" y="274.0" width="36.4" height="34.9" fill="rgb(157,157,157)"/>
<rect x="107.4" y="274.0" width="72.2" height="34.9" fill="rgb(162,162,162)"/>
<rect x="179.1" y="274.0" width="72.2" height="34.9" fill="rgb(157,157,157)"/>
<rect x="-35.8" y="308.2" width="72.2" height="34.9" fill="rgb(138,138,138)"/>
<rect x="35.8" y="308.2" width="36.4" height="34.9" fill="rgb(145,145,145)"/>
<rect x="71.6" y="308.2" width="36.4" height="34.9" fill="rgb(157,157,157)"/>
<rect x="107.4" y="308.2" width="72.2" height="34.9" fill="rgb(162,162,162)"/>
<rect x="179.1" y="308.2" width="72.2" height="34.9" fill="rgb(157,157,157)"/>
<rect x="-35.8" y="342.5" width="72.2" height="34.9" fill="rgb(135,135,135)"/>
<rect x="35.8" y="342.5" width="36.4" height="34.9" fill="rgb(143,143,143)"/>
<rect x="71.6" y="342.5" width="36.4" height="34.9" fill="rgb(152,152,152)"/>
<rect x="107.4" y="342.5" width="143.9" height="34.9" fill="rgb(157,157,157)"/>
<rect x="-35.8" y="376.8" width="72.2" height="34.9" fill="rgb(135,135,135)"/>
<rect x="35.8" y="376.8" width="36.4" height="34.9" fill="rgb(143,143,143)"/>
<rect x="71.6" y="376.8" width="36.4" height="34.9" fill="rgb(152,152,152)"/>
<rect x="107.4" y="376.8" width="143.9" height="34.9" fill="rgb(157,157,157)"/>
<rect x="-35.8" y="411.0" width="72.2" height="34.9" fill="rgb(133,133,133)"/>
<rect x="35.8" y="411.0" width="36.4" height="34.9" fill="rgb(143,143,143)"/>
<rect x="71.6" y="411.0" width="36.4" height="34.9" fill="rgb(150,150,150)"/>
<rect x="107.4" y="411.0" width="36.4" height="34.9" fill="rgb(155,155,155)"/>
<rect x="143.3" y="411.0" width="36.4" height="34.9" fill="rgb(162,162,162)"/>
<rect x="179.1" y="411.0" width="72.2" height="34.9" fill="rgb(174,174,174)"/>
<rect x="-35.8" y="445.2" width="72.2" height="34.9" fill="rgb(133,133,133)"/>
<rect x="35.8" y="445.2" width="36.4" height="34.9" fill="rgb(143,143,143)"/>
<rect x="71.6" y="445.2" width="36.4" height="34.9" fill="rgb(150,150,150)"/>
<rect x="107.4" y="445.2" width="36.4" height="34.9" fill="rgb(155,155,155)"/>
<rect x="143.3" y="445.2" width="36.4" height="34.9" fill="rgb(162,162,162)"/>
<rect x="179.1" y="445.2" width="72.2" height="34.9" fill="rgb(174,174,174)"/>
<rect x="-35.8" y="479.5" width="72.2" height="34.9" fill="rgb(133,133,133)"/>
<rect x="35.8" y="479.5" width="36.4" height="34.9" fill="rgb(143,143,143)"/>
<rect x="71.6" y="479.5" width="36.4" height="34.9" fill="rgb(150,150,150)"/>
<rect x="107.4" y="479.5" width="72.2" height="34.9" fill="rgb(155,155,155)"/>
<rect x="179.1" y="479.5" width="72.2" height="34.9" fill="rgb(152,152,152)"/>
<rect x="-35.8" y="513.8" width="72.2" height="34.9" fill="rgb(133,133,133)"/>
<rect x="35.8" y="513.8" width="36.4" height="34.9" fill="rgb(143,143,143)"/>
<rect x="71.6" y="513.8" width="36.4" height="34.9" fill="rgb(150,150,150)"/>
<rect x="107.4" y="513.8" width="72.2" height="34.9" fill="rgb(155,155,155)"/>
<rect x="179.1" y="513.8" width="72.2" height="34.9" fill="rgb(152,152,152)"/>
<rect x="-35.8" y="548.0" width="72.2" height="34.9" fill="rgb(133,133,133)"/>
<rect x="35.8" y="548.0" width="36.4" height="34.9" fill="rgb(143,143,143)"/>
<rect x="71.6" y="548.0" width="36.4" height="34.9" fill="rgb(150,150,150)"/>
<rect x="107.4" y="548.0" width="72.2" height="34.9" fill="rgb(155,155,155)"/>
<rect x="179.1" y="548.0" width="72.2" height="34.9" fill="rgb(152,152,152)"/>
</g></g>
<clipPath id="c4_1"><rect x="214.9" y="0" width="306.1" height="548.0"/></clipPath>
<g clip-path="url(#c4_1)"><g filter="url(#f4)">
<rect x="180.9" y="-34.2" width="68.6" height="34.9" fill="rgb(147,147,147)"/>
<rect x="248.9" y="-34.2" width="136.6" height="34.9" fill="rgb(150,150,150)"/>
<rect x="385.0" y="-34.2" width="102.6" height="34.9" fill="rgb(147,147,147)"/>
<rect x="487.0" y="-34.2" width="68.6" height="34.9" fill="rgb(143,143,143)"/>
<rect x="180.9" y="0.0" width="68.6" height="34.9" fill="rgb(147,147,147)"/>
<rect x="248.9" y="0.0" width="136.6" height="34.9" fill="rgb(150,150,150)"/>
<rect x="385.0" y="0.0" width="102.6" height="34.9" fill="rgb(147,147,147)"/>
<rect x="487.0" y="0.0" width="68.6" height="34.9" fill="rgb(143,143,143)"/>
<rect x="180.9" y="34.2" width="68.6" height="34.9" fill="rgb(147,147,147)"/>
<rect x="248.9" y="34.2" width="136.6" height="34.9" fill="rgb(150,150,150)"/>
<rect x="385.0" y="34.2" width="102.6" height="34.9" fill="rgb(147,147,147)"/>
<rect x="487.0" y="34.2" width="68.6" height="34.9" fill="rgb(143,143,143)"/>
<rect x="180.9" y="68.5" width="68.6" height="34.9" fill="rgb(147,147,147)"/>
<rect x="248.9" y="68.5" width="136.6" height="34.9" fill="rgb(150,150,150)"/>
<rect x="385.0" y="68.5" width="102.6" height="34.9" fill="rgb(147,147,147)"/>
<rect x="487.0" y="68.5" width="68.6" height="34.9" fill="rgb(143,143,143)"/>
<rect x="180.9" y="102.8" width="68.6" height="34.9" fill="rgb(147,147,147)"/>
<rect x="248.9" y="102.8" width="136.6" height="34.9" fill="rgb(150,150,150)"/>
<rect x="385.0" y="102.8" width="102.6" height="34.9" fill="rgb(147,147,147)"/>
<rect x="487.0" y="102.8" width="68.6" height="34.9" fill="rgb(143,143,143)"/>
<rect x="180.9" y="137.0" width="68.6" height="34.9" fill="rgb(147,147,147)"/>
<rect x="248.9" y="137.0" width="238.7" height="34.9" fill="rgb(150,150,150)"/>
<rect x="487.0" y="137.0" width="68.6" height="34.9" fill="rgb(147,147,147)"/>
<rect x="180.9" y="171.2" width="68.6" height="34.9" fill="rgb(147,147,147)"/>
<rect x="248.9" y="171.2" width="238.7" height="34.9" fill="rgb(150,150,150)"/>
<rect x="487.0" y="171.2" width="68.6" height="34.9" fill="rgb(147,147,147)"/>
<rect x="180.9" y="205.5" width="68.6" height="34.9" fill="rgb(147,147,147)"/>
<rect x="248.9" y="205.5" width="238.7" height="34.9" fill="rgb(150,150,150)"/>
<rect x="487.0" y="205.5" width="68.6" height="34.9" fill="rgb(147,147,147)"/>
<rect x="180.9" y="239.8" width="68.6" height="34.9" fill="rgb(147,147,147)"/>
<rect x="248.9" y="239.8" width="238.7" height="34.9" fill="rgb(150,150,150)"/>
<rect x="487.0" y="239.8" width="68.6" height="34.9" fill="rgb(147,147,147)"/>
<rect x="180.9" y="274.0" width="68.6" height="34.9" fill="rgb(147,147,147)"/>
<rect x="248.9" y="274.0" width="238.7" height="34.9" fill="rgb(150,150,150)"/>
<rect x="487.0" y="274.0" width="68.6" height="34.9" fill="rgb(147,147,147)"/>
<rect x="180.9" y="308.2" width="68.6" height="34.9" fill="rgb(145,145,145)"/>
<rect x="248.9" y="308.2" width="102.6" height="34.9" fill="rgb(147,147,147)"/>
<rect x="350.9" y="308.2" width="34.6" height="34.9" fill="rgb(150,150,150)"/>
<rect x="385.0" y="308.2" width="34.6" height="34.9" fill="rgb(152,152,152)"/>
<rect x="419.0" y="308.2" width="34.6" height="34.9" fill="rgb(155,155,155)"/>
<rect x="453.0" y="308.2" width="34.6" height="34.9" fill="rgb(157,157,157)"/>
<rect x="487.0" y="308.2" width="68.6" height="34.9" fill="rgb(155,155,155)"/>
<rect x="180.9" y="342.5" width="68.6" height="34.9" fill="rgb(138,138,138)"/>
<rect x="248.9" y="342.5" width="34.6" height="34.9" fill="rgb(143,143,143)"/>
<rect x="282.9" y="342.5" width="68.6" height="34.9" fill="rgb(147,147,147)"/>
<rect x="350.9" y="342.5" width="34.6" height="34.9" fill="rgb(150,150,150)"/>
<rect x="385.0" y="342.5" width="34.6" height="34.9" fill="rgb(152,152,152)"/>
<rect x="419.0" y="342.5" width="34.6" height="34.9" fill="rgb(157,157,157)"/>
<rect x="453.0" y="342.5" width="102.6" height="34.9" fill="rgb(160,160,160)"/>
<rect x="180.9" y="376.8" width="68.6" height="34.9" fill="rgb(116,116,116)"/>
<rect x="248.9" y="376.8" width="34.6" height="34.9" fill="rgb(125,125,125)"/>
<rect x="282.9" y="376.8" width="34.6" height="34.9" fill="rgb(143,143,143)"/>
<rect x="316.9" y="376.8" width="34.6" height="34.9" fill="rgb(147,147,147)"/>
<rect x="350.9" y="376.8" width="34.6" height="34.9" fill="rgb(150,150,150)"/>
<rect x="385.0" y="376.8" width="34.6" height="34.9" fill="rgb(155,155,155)"/>
<rect x="419.0" y="376.8" width="34.6" height="34.9" fill="rgb(162,162,162)"/>
<rect x="453.0" y="376.8" width="102.6" height="34.9" fill="rgb(167,167,167)"/>
<rect x="180.9" y="411.0" width="68.6" height="34.9" fill="rgb(143,143,143)"/>
<rect x="248.9" y="411.0" width="34.6" height="34.9" fill="rgb(145,145,145)"/>
<rect x="282.9" y="411.0" width="34.6" height="34.9" fill="rgb(147,147,147)"/>
<rect x="316.9" y="411.0" width="68.6" height="34.9" fill="rgb(150,150,150)"/>
<rect x="385.0" y="411.0" width="34.6" height="34.9" fill="rgb(152,152,152)"/>
<rect x="419.0" y="411.0" width="34.6" height="34.9" fill="rgb(160,160,160)"/>
<rect x="453.0" y="411.0" width="34.6" height="34.9" fill="rgb(169,169,169)"/>
<rect x="487.0" y="411.0" width="68.6" height="34.9" fill="rgb(174,174,174)"/>
<rect x="180.9" y="445.2" width="68.6" height="34.9" fill="rgb(157,157,157)"/>
<rect x="248.9" y="445.2" width="34.6" height="34.9" fill="rgb(155,155,155)"/>
<rect x="282.9" y="445.2" width="34.6" height="34.9" fill="rgb(152,152,152)"/>
<rect x="316.9" y="445.2" width="68.6" height="34.9" fill="rgb(150,150,150)"/>
<rect x="385.0" y="445.2" width="34.6" height="34.9" fill="rgb(152,152,152)"/>
<rect x="419.0" y="445.2" width="34.6" height="34.9" fill="rgb(160,160,160)"/>
<rect x="453.0" y="445.2" width="34.6" height="34.9" fill="rgb(169,169,169)"/>
<rect x="487.0" y="445.2" width="68.6" height="34.9" fill="rgb(174,174,174)"/>
<rect x="180.9" y="479.5" width="68.6" height="34.9" fill="rgb(177,177,177)"/>
<rect x="248.9" y="479.5" width="34.6" height="34.9" fill="rgb(174,174,174)"/>
<rect x="282.9" y="479.5" width="34.6" height="34.9" fill="rgb(162,162,162)"/>
<rect x="316.9" y="479.5" width="34.6" height="34.9" fill="rgb(152,152,152)"/>
<rect x="350.9" y="479.5" width="68.6" height="34.9" fill="rgb(150,150,150)"/>
<rect x="419.0" y="479.5" width="34.6" height="34.9" fill="rgb(152,152,152)"/>
<rect x="453.0" y="479.5" width="102.6" height="34.9" fill="rgb(157,157,157)"/>
<rect x="180.9" y="513.8" width="68.6" height="34.9" fill="rgb(189,189,189)"/>
<rect x="248.9" y="513.8" width="34.6" height="34.9" fill="rgb(184,184,184)"/>
<rect x="282.9" y="513.8" width="34.6" height="34.9" fill="rgb(169,169,169)"/>
<rect x="316.9" y="513.8" width="34.6" height="34.9" fill="rgb(155,155,155)"/>
<rect x="350.9" y="513.8" width="68.6" height="34.9" fill="rgb(150,150,150)"/>
<rect x="419.0" y="513.8" width="34.6" height="34.9" fill="rgb(152,152,152)"/>
<rect x="453.0" y="513.8" width="102.6" height="34.9" fill="rgb(157,157,157)"/>
<rect x="180.9" y="548.0" width="68.6" height="34.9" fill="rgb(189,189,189)"/>
<rect x="248.9" y="548.0" width="34.6" height="34.9" fill="rgb(184,184,184)"/>
<rect x="282.9" y="548.0" width="34.6" height="34.9" fill="rgb(169,169,169)"/>
<rect x="316.9" y="548.0" width="34.6" height="34.9" fill="rgb(155,155,155)"/>
<rect x="350.9" y="548.0" width="68.6" height="34.9" fill="rgb(150,150,150)"/>
<rect x="419.0" y="548.0" width="34.6" height="34.9" fill="rgb(152,152,152)"/>
<rect x="453.0" y="548.0" width="102.6" height="34.9" fill="rgb(157,157,157)"/>
</g></g>
<clipPath id="c4_2"><rect x="521.0" y="0" width="306.6" height="548.0"/></clipPath>
<g clip-path="url(#c4_2)"><g filter="url(#f4)">
<rect x="486.9" y="-34.2" width="68.7" height="34.9" fill="rgb(162,162,162)"/>
<rect x="555.1" y="-34.2" width="34.7" height="34.9" fill="rgb(160,160,160)"/>
<rect x="589.1" y="-34.2" width="34.7" height="34.9" fill="rgb(155,155,155)"/>
<rect x="623.2" y="-34.2" width="68.7" height="34.9" fill="rgb(152,152,152)"/>
<rect x="691.3" y="-34.2" width="34.7" height="34.9" fill="rgb(150,150,150)"/>
<rect x="725.4" y="-34.2" width="34.7" height="34.9" fill="rgb(147,147,147)"/>
<rect x="759.5" y="-34.2" width="102.8" height="34.9" fill="rgb(150,150,150)"/>
<rect x="486.9" y="0.0" width="68.7" height="34.9" fill="rgb(162,162,162)"/>
<rect x="555.1" y="0.0" width="34.7" height="34.9" fill="rgb(160,160,160)"/>
<rect x="589.1" y="0.0" width="34.7" height="34.9" fill="rgb(155,155,155)"/>
<rect x="623.2" y="0.0" width="68.7" height="34.9" fill="rgb(152,152,152)"/>
<rect x="691.3" y="0.0" width="34.7" height="34.9" fill="rgb(150,150,150)"/>
<rect x="725.4" y="0.0" width="34.7" height="34.9" fill="rgb(147,147,147)"/>
<rect x="759.5" y="0.0" width="102.8" height="34.9" fill="rgb(150,150,150)"/>
<rect x="486.9" y="34.2" width="68.7" height="34.9" fill="rgb(162,162,162)"/>
<rect x="555.1" y="34.2" width="34.7" height="34.9" fill="rgb(160,160,160)"/>
<rect x="589.1" y="34.2" width="34.7" height="34.9" fill="rgb(155,155,155)"/>
<rect x="623.2" y="34.2" width="68.7" height="34.9" fill="rgb(152,152,152)"/>
<rect x="691.3" y="34.2" width="34.7" height="34.9" fill="rgb(150,150,150)"/>
<rect x="725.4" y="34.2" width="34.7" height="34.9" fill="rgb(147,147,147)"/>
<rect x="759.5" y="34.2" width="102.8" height="34.9" fill="rgb(150,150,150)"/>
<rect x="486.9" y="68.5" width="68.7" height="34.9" fill="rgb(162,162,162)"/>
<rect x="555.1" y="68.5" width="34.7" height="34.9" fill="rgb(160,160,160)"/>
<rect x="589.1" y="68.5" width="34.7" height="34.9" fill="rgb(155,155,155)"/>
<rect x="623.2" y="68.5" width="68.7" height="34.9" fill="rgb(152,152,152)"/>
<rect x="691.3" y="68.5" width="34.7" height="34.9" fill="rgb(150,150,150)"/>
<rect x="725.4" y="68.5" width="34.7" height="34.9" fill="rgb(147,147,147)"/>
<rect x="759.5" y="68.5" width="102.8" height="34.9" fill="rgb(150,150,150)"/>
<rect x="486.9" y="102.8" width="68.7" height="34.9" fill="rgb(162,162,162)"/>
<rect x="555.1" y="102.8" width="34.7" height="34.9" fill="rgb(160,160,160)"/>
<rect x="589.1" y="102.8" width="34.7" height="34.9" fill="rgb(155,155,155)"/>
<rect x="623.2" y="102.8" width="68.7" height="34.9" fill="rgb(152,152,152)"/>
<rect x="691.3" y="102.8" width="34.7" height="34.9" fill="rgb(150,150,150)"/>
<rect x="725.4" y="102.8" width="34.7" height="34.9" fill="rgb(147,147,147)"/>
<rect x="759.5" y="102.8" width="102.8" height="34.9" fill="rgb(150,150,150)"/>
<rect x="486.9" y="137.0" width="68.7" height="34.9" fill="rgb(157,157,157)"/>
<rect x="555.1" y="137.0" width="34.7" height="34.9" fill="rgb(155,155,155)"/>
<rect x="589.1" y="137.0" width="136.9" height="34.9" fill="rgb(152,152,152)"/>
<rect x="725.4" y="137.0" width="34.7" height="34.9" fill="rgb(155,155,155)"/>
<rect x="759.5" y="137.0" width="34.7" height="34.9" fill="rgb(157,157,157)"/>
<rect x="793.5" y="137.0" width="68.7" height="34.9" fill="rgb(160,160,160)"/>
<rect x="486.9" y="171.2" width="68.7" height="34.9" fill="rgb(157,157,157)"/>
<rect x="555.1" y="171.2" width="34.7" height="34.9" fill="rgb(155,155,155)"/>
<rect x="589.1" y="171.2" width="136.9" height="34.9" fill="rgb(152,152,152)"/>
<rect x="725.4" y="171.2" width="34.7" height="34.9" fill="rgb(155,155,155)"/>
<rect x="759.5" y="171.2" width="34.7" height="34.9" fill="rgb(157,157,157)"/>
<rect x="793.5" y="171.2" width="68.7" height="34.9" fill="rgb(160,160,160)"/>
<rect x="486.9" y="205.5" width="68.7" height="34.9" fill="rgb(157,157,157)"/>
<rect x="555.1" y="205.5" width="34.7" height="34.9" fill="rgb(155,155,155)"/>
<rect x="589.1" y="205.5" width="136.9" height="34.9" fill="rgb(152,152,152)"/>
<rect x="725.4" y="205.5" width="34.7" height="34.9" fill="rgb(155,155,155)"/>
<rect x="759.5" y="205.5" width="34.7" height="34.9" fill="rgb(157,157,157)"/>
<rect x="793.5" y="205.5" width="68.7" height="34.9" fill="rgb(160,160,160)"/>
<rect x="486.9" y="239.8" width="68.7" height="34.9" fill="rgb(157,157,157)"/>
<rect x="555.1" y="239.8" width="34.7" height="34.9" fill="rgb(155,155,155)"/>
<rect x="589.1" y="239.8" width="136.9" height="34.9" fill="rgb(152,152,152)"/>
<rect x="725.4" y="239.8" width="34.7" height="34.9" fill="rgb(155,155,155)"/>
<rect x="759.5" y="239.8" width="34.7" height="34.9" fill="rgb(157,157,157)"/>
<rect x="793.5" y="239.8" width="68.7" height="34.9" fill="rgb(160,160,160)"/>
<rect x="486.9" y="274.0" width="68.7" height="34.9" fill="rgb(157,157,157)"/>
<rect x="555.1" y="274.0" width="34.7" height="34.9" fill="rgb(155,155,155)"/>
<rect x="589.1" y="274.0" width="136.9" height="34.9" fill="rgb(152,152,152)"/>
<rect x="725.4" y="274.0" width="34.7" height="34.9" fill="rgb(155,155,155)"/>
<rect x="759.5" y="274.0" width="34.7" height="34.9" fill="rgb(157,157,157)"/>
<rect x="793.5" y="274.0" width="68.7" height="34.9" fill="rgb(160,160,160)"/>
<rect x="486.9" y="308.2" width="68.7" height="34.9" fill="rgb(157,157,157)"/>
<rect x="555.1" y="308.2" width="34.7" height="34.9" fill="rgb(155,155,155)"/>
<rect x="589.1" y="308.2" width="136.9" height="34.9" fill="rgb(152,152,152)"/>
<rect x="725.4" y="308.2" width="34.7" height="34.9" fill="rgb(155,155,155)"/>
<rect x="759.5" y="308.2" width="34.7" height="34.9" fill="rgb(157,157,157)"/>
<rect x="793.5" y="308.2" width="68.7" height="34.9" fill="rgb(160,160,160)"/>
<rect x="486.9" y="342.5" width="68.7" height="34.9" fill="rgb(157,157,157)"/>
<rect x="555.1" y="342.5" width="34.7" height="34.9" fill="rgb(155,155,155)"/>
<rect x="589.1" y="342.5" width="136.9" height="34.9" fill="rgb(152,152,152)"/>
<rect x="725.4" y="342.5" width="34.7" height="34.9" fill="rgb(155,155,155)"/>
<rect x="759.5" y="342.5" width="34.7" height="34.9" fill="rgb(157,157,157)"/>
<rect x="793.5" y="342.5" width="68.7" height="34.9" fill="rgb(160,160,160)"/>
<rect x="486.9" y="376.8" width="68.7" height="34.9" fill="rgb(138,138,138)"/>
<rect x="555.1" y="376.8" width="34.7" height="34.9" fill="rgb(140,140,140)"/>
<rect x="589.1" y="376.8" width="34.7" height="34.9" fill="rgb(143,143,143)"/>
<rect x="623.2" y="376.8" width="34.7" height="34.9" fill="rgb(147,147,147)"/>
<rect x="657.3" y="376.8" width="34.7" height="34.9" fill="rgb(150,150,150)"/>
<rect x="691.3" y="376.8" width="34.7" height="34.9" fill="rgb(152,152,152)"/>
<rect x="725.4" y="376.8" width="34.7" height="34.9" fill="rgb(155,155,155)"/>
<rect x="759.5" y="376.8" width="102.8" height="34.9" fill="rgb(157,157,157)"/>
<rect x="486.9" y="411.0" width="68.7" height="34.9" fill="rgb(125,125,125)"/>
<rect x="555.1" y="411.0" width="34.7" height="34.9" fill="rgb(130,130,130)"/>
<rect x="589.1" y="411.0" width="34.7" height="34.9" fill="rgb(135,135,135)"/>
<rect x="623.2" y="411.0" width="34.7" height="34.9" fill="rgb(143,143,143)"/>
<rect x="657.3" y="411.0" width="34.7" height="34.9" fill="rgb(147,147,147)"/>
<rect x="691.3" y="411.0" width="34.7" height="34.9" fill="rgb(152,152,152)"/>
<rect x="725.4" y="411.0" width="34.7" height="34.9" fill="rgb(155,155,155)"/>
<rect x="759.5" y="411.0" width="102.8" height="34.9" fill="rgb(157,157,157)"/>
<rect x="486.9" y="445.2" width="68.7" height="34.9" fill="rgb(125,125,125)"/>
<rect x="555.1" y="445.2" width="34.7" height="34.9" fill="rgb(130,130,130)"/>
<rect x="589.1" y="445.2" width="34.7" height="34.9" fill="rgb(135,135,135)"/>
<rect x="623.2" y="445.2" width="34.7" height="34.9" fill="rgb(143,143,143)"/>
<rect x="657.3" y="445.2" width="34.7" height="34.9" fill="rgb(147,147,147)"/>
<rect x="691.3" y="445.2" width="34.7" height="34.9" fill="rgb(152,152,152)"/>
<rect x="725.4" y="445.2" width="34.7" height="34.9" fill="rgb(155,155,155)"/>
<rect x="759.5" y="445.2" width="102.8" height="34.9" fill="rgb(157,157,157)"/>
<rect x="486.9" y="479.5" width="68.7" height="34.9" fill="rgb(138,138,138)"/>
<rect x="555.1" y="479.5" width="34.7" height="34.9" fill="rgb(140,140,140)"/>
<rect x="589.1" y="479.5" width="34.7" height="34.9" fill="rgb(143,143,143)"/>
<rect x="623.2" y="479.5" width="34.7" height="34.9" fill="rgb(147,147,147)"/>
<rect x="657.3" y="479.5" width="34.7" height="34.9" fill="rgb(150,150,150)"/>
<rect x="691.3" y="479.5" width="34.7" height="34.9" fill="rgb(152,152,152)"/>
<rect x="725.4" y="479.5" width="34.7" height="34.9" fill="rgb(155,155,155)"/>
<rect x="759.5" y="479.5" width="102.8" height="34.9" fill="rgb(157,157,157)"/>
<rect x="486.9" y="513.8" width="102.8" height="34.9" fill="rgb(145,145,145)"/>
<rect x="589.1" y="513.8" width="34.7" height="34.9" fill="rgb(147,147,147)"/>
<rect x="623.2" y="513.8" width="68.7" height="34.9" fill="rgb(150,150,150)"/>
<rect x="691.3" y="513.8" width="34.7" height="34.9" fill="rgb(160,160,160)"/>
<rect x="725.4" y="513.8" width="68.7" height="34.9" fill="rgb(162,162,162)"/>
<rect x="793.5" y="513.8" width="68.7" height="34.9" fill="rgb(160,160,160)"/>
<rect x="486.9" y="548.0" width="102.8" height="34.9" fill="rgb(145,145,145)"/>
<rect x="589.1" y="548.0" width="34.7" height="34.9" fill="rgb(147,147,147)"/>
<rect x="623.2" y="548.0" width="68.7" height="34.9" fill="rgb(150,150,150)"/>
<rect x="691.3" y="548.0" width="34.7" height="34.9" fill="rgb(160,160,160)"/>
<rect x="725.4" y="548.0" width="68.7" height="34.9" fill="rgb(162,162,162)"/>
<rect x="793.5" y="548.0" width="68.7" height="34.9" fill="rgb(160,160,160)"/>
</g></g>
<clipPath id="c4_3"><rect x="827.6" y="0" width="306.1" height="548.0"/></clipPath>
<g clip-path="url(#c4_3)"><g filter="url(#f4)">
<rect x="793.6" y="-34.2" width="68.6" height="34.9" fill="rgb(157,157,157)"/>
<rect x="861.6" y="-34.2" width="34.6" height="34.9" fill="rgb(152,152,152)"/>
<rect x="895.6" y="-34.2" width="34.6" height="34.9" fill="rgb(150,150,150)"/>
<rect x="929.6" y="-34.2" width="34.6" height="34.9" fill="rgb(147,147,147)"/>
<rect x="963.6" y="-34.2" width="34.6" height="34.9" fill="rgb(150,150,150)"/>
<rect x="997.7" y="-34.2" width="68.6" height="34.9" fill="rgb(152,152,152)"/>
<rect x="1065.7" y="-34.2" width="34.6" height="34.9" fill="rgb(155,155,155)"/>
<rect x="1099.7" y="-34.2" width="68.6" height="34.9" fill="rgb(157,157,157)"/>
<rect x="793.6" y="0.0" width="68.6" height="34.9" fill="rgb(157,157,157)"/>
<rect x="861.6" y="0.0" width="34.6" height="34.9" fill="rgb(152,152,152)"/>
<rect x="895.6" y="0.0" width="34.6" height="34.9" fill="rgb(150,150,150)"/>
<rect x="929.6" y="0.0" width="34.6" height="34.9" fill="rgb(147,147,147)"/>
<rect x="963.6" y="0.0" width="34.6" height="34.9" fill="rgb(150,150,150)"/>
<rect x="997.7" y="0.0" width="68.6" height="34.9" fill="rgb(152,152,152)"/>
<rect x="1065.7" y="0.0" width="34.6" height="34.9" fill="rgb(155,155,155)"/>
<rect x="1099.7" y="0.0" width="68.6" height="34.9" fill="rgb(157,157,157)"/>
<rect x="793.6" y="34.2" width="68.6" height="34.9" fill="rgb(157,157,157)"/>
<rect x="861.6" y="34.2" width="34.6" height="34.9" fill="rgb(152,152,152)"/>
<rect x="895.6" y="34.2" width="34.6" height="34.9" fill="rgb(150,150,150)"/>
<rect x="929.6" y="34.2" width="34.6" height="34.9" fill="rgb(147,147,147)"/>
<rect x="963.6" y="34.2" width="34.6" height="34.9" fill="rgb(150,150,150)"/>
<rect x="997.7" y="34.2" width="68.6" height="34.9" fill="rgb(152,152,152)"/>
<rect x="1065.7" y="34.2" width="34.6" height="34.9" fill="rgb(155,155,155)"/>
<rect x="1099.7" y="34.2" width="68.6" height="34.9" fill="rgb(157,157,157)"/>
<rect x="793.6" y="68.5" width="68.6" height="34.9" fill="rgb(157,157,157)"/>
<rect x="861.6" y="68.5" width="34.6" height="34.9" fill="rgb(152,152,152)"/>
<rect x="895.6" y="68.5" width="34.6" height="34.9" fill="rgb(150,150,150)"/>
<rect x="929.6" y="68.5" width="34.6" height="34.9" fill="rgb(147,147,147)"/>
<rect x="963.6" y="68.5" width="34.6" height="34.9" fill="rgb(150,150,150)"/>
<rect x="997.7" y="68.5" width="68.6" height="34.9" fill="rgb(152,152,152)"/>
<rect x="1065.7" y="68.5" width="34.6" height="34.9" fill="rgb(155,155,155)"/>
<rect x="1099.7" y="68.5" width="68.6" height="34.9" fill="rgb(157,157,157)"/>
<rect x="793.6" y="102.8" width="68.6" height="34.9" fill="rgb(157,157,157)"/>
<rect x="861.6" y="102.8" width="34.6" height="34.9" fill="rgb(152,152,152)"/>
<rect x="895.6" y="102.8" width="34.6" height="34.9" fill="rgb(150,150,150)"/>
<rect x="929.6" y="102.8" width="34.6" height="34.9" fill="rgb(147,147,147)"/>
<rect x="963.6" y="102.8" width="34.6" height="34.9" fill="rgb(150,150,150)"/>
<rect x="997.7" y="102.8" width="68.6" height="34.9" fill="rgb(152,152,152)"/>
<rect x="1065.7" y="102.8" width="34.6" height="34.9" fill="rgb(155,155,155)"/>
<rect x="1099.7" y="102.8" width="68.6" height="34.9" fill="rgb(157,157,157)"/>
<rect x="793.6" y="137.0" width="68.6" height="34.9" fill="rgb(140,140,140)"/>
<rect x="861.6" y="137.0" width="34.6" height="34.9" fill="rgb(138,138,138)"/>
<rect x="895.6" y="137.0" width="34.6" height="34.9" fill="rgb(140,140,140)"/>
<rect x="929.6" y="137.0" width="34.6" height="34.9" fill="rgb(145,145,145)"/>
<rect x="963.6" y="137.0" width="68.6" height="34.9" fill="rgb(150,150,150)"/>
<rect x="1031.7" y="137.0" width="34.6" height="34.9" fill="rgb(152,152,152)"/>
<rect x="1065.7" y="137.0" width="34.6" height="34.9" fill="rgb(157,157,157)"/>
<rect x="1099.7" y="137.0" width="68.6" height="34.9" fill="rgb(164,164,164)"/>
<rect x="793.6" y="171.2" width="68.6" height="34.9" fill="rgb(140,140,140)"/>
<rect x="861.6" y="171.2" width="34.6" height="34.9" fill="rgb(138,138,138)"/>
<rect x="895.6" y="171.2" width="34.6" height="34.9" fill="rgb(140,140,140)"/>
<rect x="929.6" y="171.2" width="34.6" height="34.9" fill="rgb(145,145,145)"/>
<rect x="963.6" y="171.2" width="68.6" height="34.9" fill="rgb(150,150,150)"/>
<rect x="1031.7" y="171.2" width="34.6" height="34.9" fill="rgb(152,152,152)"/>
<rect x="1065.7" y="171.2" width="34.6" height="34.9" fill="rgb(157,157,157)"/>
<rect x="1099.7" y="171.2" width="68.6" height="34.9" fill="rgb(164,164,164)"/>
<rect x="793.6" y="205.5" width="68.6" height="34.9" fill="rgb(140,140,140)"/>
<rect x="861.6" y="205.5" width="34.6" height="34.9" fill="rgb(138,138,138)"/>
<rect x="895.6" y="205.5" width="34.6" height="34.9" fill="rgb(140,140,140)"/>
<rect x="929.6" y="205.5" width="34.6" height="34.9" fill="rgb(145,145,145)"/>
<rect x="963.6" y="205.5" width="68.6" height="34.9" fill="rgb(150,150,150)"/>
<rect x="1031.7" y="205.5" width="34.6" height="34.9" fill="rgb(152,152,152)"/>
<rect x="1065.7" y="205.5" width="34.6" height="34.9" fill="rgb(157,157,157)"/>
<rect x="1099.7" y="205.5" width="68.6" height="34.9" fill="rgb(164,164,164)"/>
<rect x="793.6" y="239.8" width="68.6" height="34.9" fill="rgb(140,140,140)"/>
<rect x="861.6" y="239.8" width="34.6" height="34.9" fill="rgb(138,138,138)"/>
<rect x="895.6" y="239.8" width="34.6" height="34.9" fill="rgb(140,140,140)"/>
<rect x="929.6" y="239.8" width="34.6" height="34.9" fill="rgb(145,145,145)"/>
<rect x="963.6" y="239.8" width="68.6" height="34.9" fill="rgb(150,150,150)"/>
<rect x="1031.7" y="239.8" width="34.6" height="34.9" fill="rgb(152,152,152)"/>
<rect x="1065.7" y="239.8" width="34.6" height="34.9" fill="rgb(157,157,157)"/>
<rect x="1099.7" y="239.8" width="68.6" height="34.9" fill="rgb(164,164,164)"/>
<rect x="793.6" y="274.0" width="102.6" height="34.9" fill="rgb(145,145,145)"/>
<rect x="895.6" y="274.0" width="102.6" height="34.9" fill="rgb(147,147,147)"/>
<rect x="997.7" y="274.0" width="34.6" height="34.9" fill="rgb(150,150,150)"/>
<rect x="1031.7" y="274.0" width="68.6" height="34.9" fill="rgb(152,152,152)"/>
<rect x="1099.7" y="274.0" width="68.6" height="34.9" fill="rgb(150,150,150)"/>
<rect x="793.6" y="308.2" width="102.6" height="34.9" fill="rgb(145,145,145)"/>
<rect x="895.6" y="308.2" width="102.6" height="34.9" fill="rgb(147,147,147)"/>
<rect x="997.7" y="308.2" width="34.6" height="34.9" fill="rgb(150,150,150)"/>
<rect x="1031.7" y="308.2" width="68.6" height="34.9" fill="rgb(152,152,152)"/>
<rect x="1099.7" y="308.2" width="68.6" height="34.9" fill="rgb(150,150,150)"/>
<rect x="793.6" y="342.5" width="102.6" height="34.9" fill="rgb(145,145,145)"/>
<rect x="895.6" y="342.5" width="102.6" height="34.9" fill="rgb(147,147,147)"/>
<rect x="997.7" y="342.5" width="34.6" height="34.9" fill="rgb(150,150,150)"/>
<rect x="1031.7" y="342.5" width="68.6" height="34.9" fill="rgb(152,152,152)"/>
<rect x="1099.7" y="342.5" width="68.6" height="34.9" fill="rgb(150,150,150)"/>
<rect x="793.6" y="376.8" width="102.6" height="34.9" fill="rgb(145,145,145)"/>
<rect x="895.6" y="376.8" width="102.6" height="34.9" fill="rgb(147,147,147)"/>
<rect x="997.7" y="376.8" width="34.6" height="34.9" fill="rgb(150,150,150)"/>
<rect x="1031.7" y="376.8" width="68.6" height="34.9" fill="rgb(152,152,152)"/>
<rect x="1099.7" y="376.8" width="68.6" height="34.9" fill="rgb(150,150,150)"/>
<rect x="793.6" y="411.0" width="68.6" height="34.9" fill="rgb(150,150,150)"/>
<rect x="861.6" y="411.0" width="34.6" height="34.9" fill="rgb(152,152,152)"/>
<rect x="895.6" y="411.0" width="34.6" height="34.9" fill="rgb(150,150,150)"/>
<rect x="929.6" y="411.0" width="68.6" height="34.9" fill="rgb(147,147,147)"/>
<rect x="997.7" y="411.0" width="68.6" height="34.9" fill="rgb(150,150,150)"/>
<rect x="1065.7" y="411.0" width="34.6" height="34.9" fill="rgb(147,147,147)"/>
<rect x="1099.7" y="411.0" width="68.6" height="34.9" fill="rgb(143,143,143)"/>
<rect x="793.6" y="445.2" width="68.6" height="34.9" fill="rgb(150,150,150)"/>
<rect x="861.6" y="445.2" width="34.6" height="34.9" fill="rgb(152,152,152)"/>
<rect x="895.6" y="445.2" width="34.6" height="34.9" fill="rgb(150,150,150)"/>
<rect x="929.6" y="445.2" width="68.6" height="34.9" fill="rgb(147,147,147)"/>
<rect x="997.7" y="445.2" width="68.6" height="34.9" fill="rgb(150,150,150)"/>
<rect x="1065.7" y="445.2" width="34.6" height="34.9" fill="rgb(147,147,147)"/>
<rect x="1099.7" y="445.2" width="68.6" height="34.9" fill="rgb(143,143,143)"/>
<rect x="793.6" y="479.5" width="68.6" height="34.9" fill="rgb(150,150,150)"/>
<rect x="861.6" y="479.5" width="34.6" height="34.9" fill="rgb(152,152,152)"/>
<rect x="895.6" y="479.5" width="34.6" height="34.9" fill="rgb(150,150,150)"/>
<rect x="929.6" y="479.5" width="68.6" height="34.9" fill="rgb(147,147,147)"/>
<rect x="997.7" y="479.5" width="68.6" height="34.9" fill="rgb(150,150,150)"/>
<rect x="1065.7" y="479.5" width="34.6" height="34.9" fill="rgb(147,147,147)"/>
<rect x="1099.7" y="479.5" width="68.6" height="34.9" fill="rgb(143,143,143)"/>
<rect x="793.6" y="513.8" width="68.6" height="34.9" fill="rgb(150,150,150)"/>
<rect x="861.6" y="513.8" width="34.6" height="34.9" fill="rgb(152,152,152)"/>
<rect x="895.6" y="513.8" width="34.6" height="34.9" fill="rgb(150,150,150)"/>
<rect x="929.6" y="513.8" width="68.6" height="34.9" fill="rgb(147,147,147)"/>
<rect x="997.7" y="513.8" width="68.6" height="34.9" fill="rgb(150,150,150)"/>
<rect x="1065.7" y="513.8" width="34.6" height="34.9" fill="rgb(147,147,147)"/>
<rect x="1099.7" y="513.8" width="68.6" height="34.9" fill="rgb(143,143,143)"/>
<rect x="793.6" y="548.0" width="68.6" height="34.9" fill="rgb(150,150,150)"/>
<rect x="861.6" y="548.0" width="34.6" height="34.9" fill="rgb(152,152,152)"/>
<rect x="895.6" y="548.0" width="34.6" height="34.9" fill="rgb(150,150,150)"/>
<rect x="929.6" y="548.0" width="68.6" height="34.9" fill="rgb(147,147,147)"/>
<rect x="997.7" y="548.0" width="68.6" height="34.9" fill="rgb(150,150,150)"/>
<rect x="1065.7" y="548.0" width="34.6" height="34.9" fill="rgb(147,147,147)"/>
<rect x="1099.7" y="548.0" width="68.6" height="34.9" fill="rgb(143,143,143)"/>
</g></g>
<clipPath id="c4_4"><rect x="1133.7" y="0" width="235.8" height="548.0"/></clipPath>
<g clip-path="url(#c4_4)"><g filter="url(#f4)">
<rect x="1100.0" y="-34.2" width="68.0" height="34.9" fill="rgb(145,145,145)"/>
<rect x="1167.4" y="-34.2" width="34.3" height="34.9" fill="rgb(147,147,147)"/>
<rect x="1201.1" y="-34.2" width="68.0" height="34.9" fill="rgb(152,152,152)"/>
<rect x="1268.4" y="-34.2" width="34.3" height="34.9" fill="rgb(150,150,150)"/>
<rect x="1302.1" y="-34.2" width="34.3" height="34.9" fill="rgb(145,145,145)"/>
<rect x="1335.8" y="-34.2" width="68.0" height="34.9" fill="rgb(138,138,138)"/>
<rect x="1100.0" y="0.0" width="68.0" height="34.9" fill="rgb(145,145,145)"/>
<rect x="1167.4" y="0.0" width="34.3" height="34.9" fill="rgb(147,147,147)"/>
<rect x="1201.1" y="0.0" width="68.0" height="34.9" fill="rgb(152,152,152)"/>
<rect x="1268.4" y="0.0" width="34.3" height="34.9" fill="rgb(150,150,150)"/>
<rect x="1302.1" y="0.0" width="34.3" height="34.9" fill="rgb(145,145,145)"/>
<rect x="1335.8" y="0.0" width="68.0" height="34.9" fill="rgb(138,138,138)"/>
<rect x="1100.0" y="34.2" width="68.0" height="34.9" fill="rgb(145,145,145)"/>
<rect x="1167.4" y="34.2" width="34.3" height="34.9" fill="rgb(147,147,147)"/>
<rect x="1201.1" y="34.2" width="68.0" height="34.9" fill="rgb(152,152,152)"/>
<rect x="1268.4" y="34.2" width="34.3" height="34.9" fill="rgb(150,150,150)"/>
<rect x="1302.1" y="34.2" width="34.3" height="34.9" fill="rgb(145,145,145)"/>
<rect x="1335.8" y="34.2" width="68.0" height="34.9" fill="rgb(138,138,138)"/>
<rect x="1100.0" y="68.5" width="68.0" height="34.9" fill="rgb(145,145,145)"/>
<rect x="1167.4" y="68.5" width="34.3" height="34.9" fill="rgb(147,147,147)"/>
<rect x="1201.1" y="68.5" width="68.0" height="34.9" fill="rgb(152,152,152)"/>
<rect x="1268.4" y="68.5" width="34.3" height="34.9" fill="rgb(150,150,150)"/>
<rect x="1302.1" y="68.5" width="34.3" height="34.9" fill="rgb(145,145,145)"/>
<rect x="1335.8" y="68.5" width="68.0" height="34.9" fill="rgb(138,138,138)"/>
<rect x="1100.0" y="102.8" width="68.0" height="34.9" fill="rgb(145,145,145)"/>
<rect x="1167.4" y="102.8" width="34.3" height="34.9" fill="rgb(147,147,147)"/>
<rect x="1201.1" y="102.8" width="68.0" height="34.9" fill="rgb(152,152,152)"/>
<rect x="1268.4" y="102.8" width="34.3" height="34.9" fill="rgb(150,150,150)"/>
<rect x="1302.1" y="102.8" width="34.3" height="34.9" fill="rgb(145,145,145)"/>
<rect x="1335.8" y="102.8" width="68.0" height="34.9" fill="rgb(138,138,138)"/>
<rect x="1100.0" y="137.0" width="68.0" height="34.9" fill="rgb(152,152,152)"/>
<rect x="1167.4" y="137.0" width="34.3" height="34.9" fill="rgb(157,157,157)"/>
<rect x="1201.1" y="137.0" width="34.3" height="34.9" fill="rgb(160,160,160)"/>
<rect x="1234.8" y="137.0" width="34.3" height="34.9" fill="rgb(157,157,157)"/>
<rect x="1268.4" y="137.0" width="34.3" height="34.9" fill="rgb(152,152,152)"/>
<rect x="1302.1" y="137.0" width="34.3" height="34.9" fill="rgb(143,143,143)"/>
<rect x="1335.8" y="137.0" width="68.0" height="34.9" fill="rgb(130,130,130)"/>
<rect x="1100.0" y="171.2" width="68.0" height="34.9" fill="rgb(152,152,152)"/>
<rect x="1167.4" y="171.2" width="34.3" height="34.9" fill="rgb(157,157,157)"/>
<rect x="1201.1" y="171.2" width="34.3" height="34.9" fill="rgb(160,160,160)"/>
<rect x="1234.8" y="171.2" width="34.3" height="34.9" fill="rgb(157,157,157)"/>
<rect x="1268.4" y="171.2" width="34.3" height="34.9" fill="rgb(152,152,152)"/>
<rect x="1302.1" y="171.2" width="34.3" height="34.9" fill="rgb(143,143,143)"/>
<rect x="1335.8" y="171.2" width="68.0" height="34.9" fill="rgb(130,130,130)"/>
<rect x="1100.0" y="205.5" width="68.0" height="34.9" fill="rgb(152,152,152)"/>
<rect x="1167.4" y="205.5" width="34.3" height="34.9" fill="rgb(157,157,157)"/>
<rect x="1201.1" y="205.5" width="34.3" height="34.9" fill="rgb(160,160,160)"/>
<rect x="1234.8" y="205.5" width="34.3" height="34.9" fill="rgb(157,157,157)"/>
<rect x="1268.4" y="205.5" width="34.3" height="34.9" fill="rgb(152,152,152)"/>
<rect x="1302.1" y="205.5" width="34.3" height="34.9" fill="rgb(143,143,143)"/>
<rect x="1335.8" y="205.5" width="68.0" height="34.9" fill="rgb(130,130,130)"/>
<rect x="1100.0" y="239.8" width="68.0" height="34.9" fill="rgb(152,152,152)"/>
<rect x="1167.4" y="239.8" width="34.3" height="34.9" fill="rgb(157,157,157)"/>
<rect x="1201.1" y="239.8" width="34.3" height="34.9" fill="rgb(160,160,160)"/>
<rect x="1234.8" y="239.8" width="34.3" height="34.9" fill="rgb(157,157,157)"/>
<rect x="1268.4" y="239.8" width="34.3" height="34.9" fill="rgb(152,152,152)"/>
<rect x="1302.1" y="239.8" width="34.3" height="34.9" fill="rgb(143,143,143)"/>
<rect x="1335.8" y="239.8" width="68.0" height="34.9" fill="rgb(130,130,130)"/>
<rect x="1100.0" y="274.0" width="68.0" height="34.9" fill="rgb(160,160,160)"/>
<rect x="1167.4" y="274.0" width="34.3" height="34.9" fill="rgb(164,164,164)"/>
<rect x="1201.1" y="274.0" width="34.3" height="34.9" fill="rgb(167,167,167)"/>
<rect x="1234.8" y="274.0" width="34.3" height="34.9" fill="rgb(162,162,162)"/>
<rect x="1268.4" y="274.0" width="34.3" height="34.9" fill="rgb(152,152,152)"/>
<rect x="1302.1" y="274.0" width="34.3" height="34.9" fill="rgb(143,143,143)"/>
<rect x="1335.8" y="274.0" width="68.0" height="34.9" fill="rgb(125,125,125)"/>
<rect x="1100.0" y="308.2" width="68.0" height="34.9" fill="rgb(160,160,160)"/>
<rect x="1167.4" y="308.2" width="34.3" height="34.9" fill="rgb(164,164,164)"/>
<rect x="1201.1" y="308.2" width="34.3" height="34.9" fill="rgb(167,167,167)"/>
<rect x="1234.8" y="308.2" width="34.3" height="34.9" fill="rgb(162,162,162)"/>
<rect x="1268.4" y="308.2" width="34.3" height="34.9" fill="rgb(152,152,152)"/>
<rect x="1302.1" y="308.2" width="34.3" height="34.9" fill="rgb(143,143,143)"/>
<rect x="1335.8" y="308.2" width="68.0" height="34.9" fill="rgb(125,125,125)"/>
<rect x="1100.0" y="342.5" width="68.0" height="34.9" fill="rgb(160,160,160)"/>
<rect x="1167.4" y="342.5" width="34.3" height="34.9" fill="rgb(164,164,164)"/>
<rect x="1201.1" y="342.5" width="34.3" height="34.9" fill="rgb(167,167,167)"/>
<rect x="1234.8" y="342.5" width="34.3" height="34.9" fill="rgb(162,162,162)"/>
<rect x="1268.4" y="342.5" width="34.3" height="34.9" fill="rgb(152,152,152)"/>
<rect x="1302.1" y="342.5" width="34.3" height="34.9" fill="rgb(143,143,143)"/>
<rect x="1335.8" y="342.5" width="68.0" height="34.9" fill="rgb(125,125,125)"/>
<rect x="1100.0" y="376.8" width="68.0" height="34.9" fill="rgb(160,160,160)"/>
<rect x="1167.4" y="376.8" width="34.3" height="34.9" fill="rgb(164,164,164)"/>
<rect x="1201.1" y="376.8" width="34.3" height="34.9" fill="rgb(167,167,167)"/>
<rect x="1234.8" y="376.8" width="34.3" height="34.9" fill="rgb(162,162,162)"/>
<rect x="1268.4" y="376.8" width="34.3" height="34.9" fill="rgb(152,152,152)"/>
<rect x="1302.1" y="376.8" width="34.3" height="34.9" fill="rgb(143,143,143)"/>
<rect x="1335.8" y="376.8" width="68.0" height="34.9" fill="rgb(125,125,125)"/>
<rect x="1100.0" y="411.0" width="68.0" height="34.9" fill="rgb(164,164,164)"/>
<rect x="1167.4" y="411.0" width="68.0" height="34.9" fill="rgb(172,172,172)"/>
<rect x="1234.8" y="411.0" width="34.3" height="34.9" fill="rgb(160,160,160)"/>
<rect x="1268.4" y="411.0" width="34.3" height="34.9" fill="rgb(152,152,152)"/>
<rect x="1302.1" y="411.0" width="34.3" height="34.9" fill="rgb(140,140,140)"/>
<rect x="1335.8" y="411.0" width="68.0" height="34.9" fill="rgb(123,123,123)"/>
<rect x="1100.0" y="445.2" width="68.0" height="34.9" fill="rgb(164,164,164)"/>
<rect x="1167.4" y="445.2" width="68.0" height="34.9" fill="rgb(172,172,172)"/>
<rect x="1234.8" y="445.2" width="34.3" height="34.9" fill="rgb(160,160,160)"/>
<rect x="1268.4" y="445.2" width="34.3" height="34.9" fill="rgb(152,152,152)"/>
<rect x="1302.1" y="445.2" width="34.3" height="34.9" fill="rgb(140,140,140)"/>
<rect x="1335.8" y="445.2" width="68.0" height="34.9" fill="rgb(123,123,123)"/>
<rect x="1100.0" y="479.5" width="68.0" height="34.9" fill="rgb(164,164,164)"/>
<rect x="1167.4" y="479.5" width="68.0" height="34.9" fill="rgb(172,172,172)"/>
<rect x="1234.8" y="479.5" width="34.3" height="34.9" fill="rgb(160,160,160)"/>
<rect x="1268.4" y="479.5" width="34.3" height="34.9" fill="rgb(152,152,152)"/>
<rect x="1302.1" y="479.5" width="34.3" height="34.9" fill="rgb(140,140,140)"/>
<rect x="1335.8" y="479.5" width="68.0" height="34.9" fill="rgb(123,123,123)"/>
<rect x="1100.0" y="513.8" width="68.0" height="34.9" fill="rgb(181,181,181)"/>
<rect x="1167.4" y="513.8" width="34.3" height="34.9" fill="rgb(179,179,179)"/>
<rect x="1201.1" y="513.8" width="34.3" height="34.9" fill="rgb(169,169,169)"/>
<rect x="1234.8" y="513.8" width="34.3" height="34.9" fill="rgb(157,157,157)"/>
<rect x="1268.4" y="513.8" width="34.3" height="34.9" fill="rgb(150,150,150)"/>
<rect x="1302.1" y="513.8" width="34.3" height="34.9" fill="rgb(140,140,140)"/>
<rect x="1335.8" y="513.8" width="68.0" height="34.9" fill="rgb(125,125,125)"/>
<rect x="1100.0" y="548.0" width="68.0" height="34.9" fill="rgb(181,181,181)"/>
<rect x="1167.4" y="548.0" width="34.3" height="34.9" fill="rgb(179,179,179)"/>
<rect x="1201.1" y="548.0" width="34.3" height="34.9" fill="rgb(169,169,169)"/>
<rect x="1234.8" y="548.0" width="34.3" height="34.9" fill="rgb(157,157,157)"/>
<rect x="1268.4" y="548.0" width="34.3" height="34.9" fill="rgb(150,150,150)"/>
<rect x="1302.1" y="548.0" width="34.3" height="34.9" fill="rgb(140,140,140)"/>
<rect x="1335.8" y="548.0" width="68.0" height="34.9" fill="rgb(125,125,125)"/>
</g></g>
<g filter="url(#fL4)" opacity="0.6">
<polygon points="283.3,450.6 300.4,446.4 309.0,459.2 300.4,472.1 296.1,485.0 283.3,480.7 279.0,463.5" fill="rgb(128,128,128)"/>
<polygon points="223.2,527.9 240.3,515.0 257.5,502.1 274.7,493.6 283.3,497.9 279.0,510.7 296.1,515.0 300.4,523.6 279.0,532.2 257.5,536.5 236.1,545.1 223.2,540.8" fill="rgb(128,128,128)"/>
</g>
</g></g>
<line x1="527.9" y1="2215.0" x2="527.9" y2="2763.0" stroke="#2897dc" stroke-width="2"/>
<line x1="834.0" y1="2215.0" x2="834.0" y2="2763.0" stroke="#2897dc" stroke-width="2"/>
<line x1="1140.6" y1="2215.0" x2="1140.6" y2="2763.0" stroke="#2897dc" stroke-width="2"/>
<line x1="1446.7" y1="2215.0" x2="1446.7" y2="2763.0" stroke="#2897dc" stroke-width="2"/>
<rect x="313.0" y="2215.0" width="1369.5" height="548.0" fill="none" stroke="#5c5c5c" stroke-width="1"/>
<rect x="1724.0" y="2212.00" width="35.0" height="10.03" fill="#83171b"/>
<rect x="1724.0" y="2220.53" width="35.0" height="10.03" fill="#8f1a20"/>
<rect x="1724.0" y="2229.06" width="35.0" height="10.03" fill="#9a1c23"/>
<rect x="1724.0" y="2237.59" width="35.0" height="10.03" fill="#a61d25"/>
<rect x="1724.0" y="2246.12" width="35.0" height="10.03" fill="#b41921"/>
<rect x="1724.0" y="2254.66" width="35.0" height="10.03" fill="#c4151d"/>
<rect x="1724.0" y="2263.19" width="35.0" height="10.03" fill="#d41219"/>
<rect x="1724.0" y="2271.72" width="35.0" height="10.03" fill="#de1016"/>
<rect x="1724.0" y="2280.25" width="35.0" height="10.03" fill="#e20f15"/>
<rect x="1724.0" y="2288.78" width="35.0" height="10.03" fill="#e81719"/>
<rect x="1724.0" y="2297.31" width="35.0" height="10.03" fill="#eb241a"/>
<rect x="1724.0" y="2305.84" width="35.0" height="10.03" fill="#e83715"/>
<rect x="1724.0" y="2314.38" width="35.0" height="10.03" fill="#e84614"/>
<rect x="1724.0" y="2322.91" width="35.0" height="10.03" fill="#e95314"/>
<rect x="1724.0" y="2331.44" width="35.0" height="10.03" fill="#eb6016"/>
<rect x="1724.0" y="2339.97" width="35.0" height="10.03" fill="#ee6e18"/>
<rect x="1724.0" y="2348.50" width="35.0" height="10.03" fill="#ef7a19"/>
<rect x="1724.0" y="2357.03" width="35.0" height="10.03" fill="#f1861a"/>
<rect x="1724.0" y="2365.56" width="35.0" height="10.03" fill="#f2941a"/>
<rect x="1724.0" y="2374.09" width="35.0" height="10.03" fill="#f4a21b"/>
<rect x="1724.0" y="2382.62" width="35.0" height="10.03" fill="#f5b21d"/>
<rect x="1724.0" y="2391.16" width="35.0" height="10.03" fill="#f6c31f"/>
<rect x="1724.0" y="2399.69" width="35.0" height="10.03" fill="#f5d61f"/>
<rect x="1724.0" y="2408.22" width="35.0" height="10.03" fill="#f4e626"/>
<rect x="1724.0" y="2416.75" width="35.0" height="10.03" fill="#eee935"/>
<rect x="1724.0" y="2425.28" width="35.0" height="10.03" fill="#dde23d"/>
<rect x="1724.0" y="2433.81" width="35.0" height="10.03" fill="#cedb3f"/>
<rect x="1724.0" y="2442.34" width="35.0" height="10.03" fill="#c4d740"/>
<rect x="1724.0" y="2450.88" width="35.0" height="10.03" fill="#b9d447"/>
<rect x="1724.0" y="2459.41" width="35.0" height="10.03" fill="#aed254"/>
<rect x="1724.0" y="2467.94" width="35.0" height="10.03" fill="#a3cf5f"/>
<rect x="1724.0" y="2476.47" width="35.0" height="10.03" fill="#99cc68"/>
<rect x="1724.0" y="2485.00" width="35.0" height="10.03" fill="#90ca72"/>
<rect x="1724.0" y="2493.53" width="35.0" height="10.03" fill="#87c87e"/>
<rect x="1724.0" y="2502.06" width="35.0" height="10.03" fill="#80c68c"/>
<rect x="1724.0" y="2510.59" width="35.0" height="10.03" fill="#78c59b"/>
<rect x="1724.0" y="2519.12" width="35.0" height="10.03" fill="#73c4aa"/>
<rect x="1724.0" y="2527.66" width="35.0" height="10.03" fill="#70c4b8"/>
<rect x="1724.0" y="2536.19" width="35.0" height="10.03" fill="#6ec4c5"/>
<rect x="1724.0" y="2544.72" width="35.0" height="10.03" fill="#6dc5d0"/>
<rect x="1724.0" y="2553.25" width="35.0" height="10.03" fill="#67c4da"/>
<rect x="1724.0" y="2561.78" width="35.0" height="10.03" fill="#59c0e0"/>
<rect x="1724.0" y="2570.31" width="35.0" height="10.03" fill="#48bbe6"/>
<rect x="1724.0" y="2578.84" width="35.0" height="10.03" fill="#31b5eb"/>
<rect x="1724.0" y="2587.38" width="35.0" height="10.03" fill="#2ba8e4"/>
<rect x="1724.0" y="2595.91" width="35.0" height="10.03" fill="#2c99d9"/>
<rect x="1724.0" y="2604.44" width="35.0" height="10.03" fill="#2f8dcf"/>
<rect x="1724.0" y="2612.97" width="35.0" height="10.03" fill="#3081c5"/>
<rect x="1724.0" y="2621.50" width="35.0" height="10.03" fill="#2e76be"/>
<rect x="1724.0" y="2630.03" width="35.0" height="10.03" fill="#2b6bb7"/>
<rect x="1724.0" y="2638.56" width="35.0" height="10.03" fill="#2761af"/>
<rect x="1724.0" y="2647.09" width="35.0" height="10.03" fill="#2358a9"/>
<rect x="1724.0" y="2655.62" width="35.0" height="10.03" fill="#2253a6"/>
<rect x="1724.0" y="2664.16" width="35.0" height="10.03" fill="#214fa3"/>
<rect x="1724.0" y="2672.69" width="35.0" height="10.03" fill="#1f4ca2"/>
<rect x="1724.0" y="2681.22" width="35.0" height="10.03" fill="#1e49a0"/>
<rect x="1724.0" y="2689.75" width="35.0" height="10.03" fill="#1c479f"/>
<rect x="1724.0" y="2698.28" width="35.0" height="10.03" fill="#19439d"/>
<rect x="1724.0" y="2706.81" width="35.0" height="10.03" fill="#153e9a"/>
<rect x="1724.0" y="2715.34" width="35.0" height="10.03" fill="#123a98"/>
<rect x="1724.0" y="2723.88" width="35.0" height="10.03" fill="#103592"/>
<rect x="1724.0" y="2732.41" width="35.0" height="10.03" fill="#0d2f8c"/>
<rect x="1724.0" y="2740.94" width="35.0" height="10.03" fill="#152a7d"/>
<rect x="1724.0" y="2749.47" width="35.0" height="8.53" fill="#1a2a6e"/>
<rect x="1724.0" y="2212.0" width="35.0" height="546.0" fill="none" stroke="#5c5c5c" stroke-width="1"/>
<text x="1768.5" y="2231.5" font-size="47" text-anchor="start" fill="#484848" textLength="82.0" lengthAdjust="spacingAndGlyphs">0.05</text>
<text x="1768.5" y="2498.5" font-size="47" text-anchor="start" fill="#484848" textLength="23.5" lengthAdjust="spacingAndGlyphs">0</text>
<text x="1768.5" y="2766.5" font-size="47" text-anchor="start" fill="#484848" textLength="97.5" lengthAdjust="spacingAndGlyphs">-0.05</text>
<text x="1721.0" y="2186.0" font-size="33" text-anchor="start" fill="#262626" textLength="126.0" lengthAdjust="spacingAndGlyphs">[radians]</text>
<text x="519.0" y="2144.5" font-size="51" text-anchor="start" fill="#000" textLength="962.0" lengthAdjust="spacingAndGlyphs" word-spacing="2">Phase difference of interferogram between</text>
<text x="296.5" y="2206.0" font-size="51" text-anchor="start" fill="#000" textLength="1404.0" lengthAdjust="spacingAndGlyphs" word-spacing="2">cross-correlation plus ESD &amp; geometrical approach plus ESD</text>
<line x1="541.3" y1="2763.0" x2="541.3" y2="2750.0" stroke="#5c5c5c" stroke-opacity="0.75" stroke-width="1"/>
<line x1="541.3" y1="2215.0" x2="541.3" y2="2228.0" stroke="#5c5c5c" stroke-opacity="0.75" stroke-width="1"/>
<text x="543.6" y="2802.0" font-size="36.5" text-anchor="middle" fill="#484848" textLength="68.0" lengthAdjust="spacingAndGlyphs">1000</text>
<line x1="768.0" y1="2763.0" x2="768.0" y2="2750.0" stroke="#5c5c5c" stroke-opacity="0.75" stroke-width="1"/>
<line x1="768.0" y1="2215.0" x2="768.0" y2="2228.0" stroke="#5c5c5c" stroke-opacity="0.75" stroke-width="1"/>
<text x="770.3" y="2802.0" font-size="36.5" text-anchor="middle" fill="#484848" textLength="68.0" lengthAdjust="spacingAndGlyphs">2000</text>
<line x1="994.8" y1="2763.0" x2="994.8" y2="2750.0" stroke="#5c5c5c" stroke-opacity="0.75" stroke-width="1"/>
<line x1="994.8" y1="2215.0" x2="994.8" y2="2228.0" stroke="#5c5c5c" stroke-opacity="0.75" stroke-width="1"/>
<text x="997.1" y="2802.0" font-size="36.5" text-anchor="middle" fill="#484848" textLength="68.0" lengthAdjust="spacingAndGlyphs">3000</text>
<line x1="1221.5" y1="2763.0" x2="1221.5" y2="2750.0" stroke="#5c5c5c" stroke-opacity="0.75" stroke-width="1"/>
<line x1="1221.5" y1="2215.0" x2="1221.5" y2="2228.0" stroke="#5c5c5c" stroke-opacity="0.75" stroke-width="1"/>
<text x="1223.8" y="2802.0" font-size="36.5" text-anchor="middle" fill="#484848" textLength="68.0" lengthAdjust="spacingAndGlyphs">4000</text>
<line x1="1448.3" y1="2763.0" x2="1448.3" y2="2750.0" stroke="#5c5c5c" stroke-opacity="0.75" stroke-width="1"/>
<line x1="1448.3" y1="2215.0" x2="1448.3" y2="2228.0" stroke="#5c5c5c" stroke-opacity="0.75" stroke-width="1"/>
<text x="1450.6" y="2802.0" font-size="36.5" text-anchor="middle" fill="#484848" textLength="68.0" lengthAdjust="spacingAndGlyphs">5000</text>
<line x1="1675.0" y1="2763.0" x2="1675.0" y2="2750.0" stroke="#5c5c5c" stroke-opacity="0.75" stroke-width="1"/>
<line x1="1675.0" y1="2215.0" x2="1675.0" y2="2228.0" stroke="#5c5c5c" stroke-opacity="0.75" stroke-width="1"/>
<text x="1677.3" y="2802.0" font-size="36.5" text-anchor="middle" fill="#484848" textLength="68.0" lengthAdjust="spacingAndGlyphs">6000</text>
<text x="1012.0" y="2856.0" font-size="38" text-anchor="middle" fill="#000" textLength="155.0" lengthAdjust="spacingAndGlyphs">Azimuth</text>
<line x1="313.0" y1="2328.7" x2="326.0" y2="2328.7" stroke="#5c5c5c" stroke-opacity="0.75" stroke-width="1"/>
<line x1="1682.5" y1="2328.7" x2="1669.5" y2="2328.7" stroke="#5c5c5c" stroke-opacity="0.75" stroke-width="1"/>
<text x="300.5" y="2338.3" font-size="40" text-anchor="end" fill="#484848" textLength="55.8" lengthAdjust="spacingAndGlyphs">500</text>
<line x1="313.0" y1="2443.1" x2="326.0" y2="2443.1" stroke="#5c5c5c" stroke-opacity="0.75" stroke-width="1"/>
<line x1="1682.5" y1="2443.1" x2="1669.5" y2="2443.1" stroke="#5c5c5c" stroke-opacity="0.75" stroke-width="1"/>
<text x="300.5" y="2452.7" font-size="40" text-anchor="end" fill="#484848" textLength="74.4" lengthAdjust="spacingAndGlyphs">1000</text>
<line x1="313.0" y1="2557.5" x2="326.0" y2="2557.5" stroke="#5c5c5c" stroke-opacity="0.75" stroke-width="1"/>
<line x1="1682.5" y1="2557.5" x2="1669.5" y2="2557.5" stroke="#5c5c5c" stroke-opacity="0.75" stroke-width="1"/>
<text x="300.5" y="2567.1" font-size="40" text-anchor="end" fill="#484848" textLength="74.4" lengthAdjust="spacingAndGlyphs">1500</text>
<line x1="313.0" y1="2671.9" x2="326.0" y2="2671.9" stroke="#5c5c5c" stroke-opacity="0.75" stroke-width="1"/>
<line x1="1682.5" y1="2671.9" x2="1669.5" y2="2671.9" stroke="#5c5c5c" stroke-opacity="0.75" stroke-width="1"/>
<text x="300.5" y="2681.5" font-size="40" text-anchor="end" fill="#484848" textLength="74.4" lengthAdjust="spacingAndGlyphs">2000</text>
<text x="193.7" y="2453.0" font-size="43" text-anchor="middle" fill="#000" textLength="414.0" lengthAdjust="spacingAndGlyphs" transform="rotate(-90 193.7 2453.0)" word-spacing="4">Range [Multilook by 5]</text>
<rect x="1396" y="2218.5" width="284.5" height="37" fill="#fff" stroke="#262626" stroke-width="1.4"/>
<line x1="1406.5" y1="2236.7" x2="1494" y2="2236.7" stroke="#1c9ae4" stroke-width="2.3"/>
<text x="1509.5" y="2247.6" font-size="30.5" text-anchor="start" fill="#000" textLength="158.0" lengthAdjust="spacingAndGlyphs" word-spacing="2">Burst Edge</text>
</svg></body></html>
